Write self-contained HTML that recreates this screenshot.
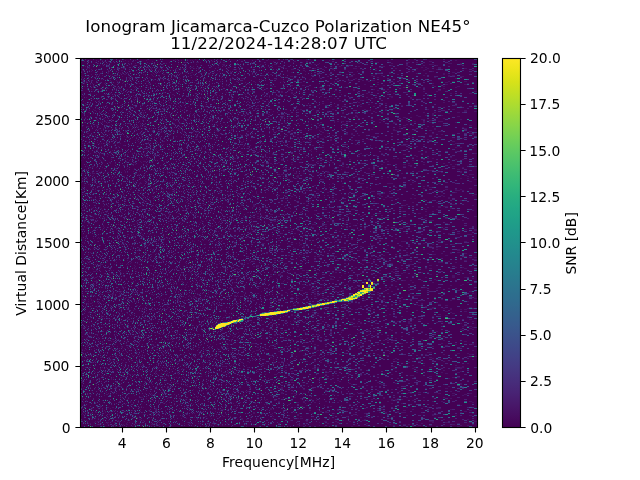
<!DOCTYPE html>
<html lang="en"><head><meta charset="utf-8"><title>Ionogram Jicamarca-Cuzco Polarization NE45°</title>
<style>html,body{margin:0;padding:0;background:#fff;overflow:hidden}svg{display:block}text{font-family:"DejaVu Sans","Liberation Sans",sans-serif;fill:#000}</style></head><body>
<svg width="640" height="480" viewBox="0 0 640 480">
<defs><linearGradient id="vg" x1="0" y1="1" x2="0" y2="0"><stop offset="0" stop-color="#440154"/><stop offset="0.0312" stop-color="#470d60"/><stop offset="0.0625" stop-color="#48186a"/><stop offset="0.0938" stop-color="#482374"/><stop offset="0.125" stop-color="#472d7b"/><stop offset="0.1562" stop-color="#453781"/><stop offset="0.1875" stop-color="#424086"/><stop offset="0.2188" stop-color="#3e4989"/><stop offset="0.25" stop-color="#3b528b"/><stop offset="0.2812" stop-color="#375b8d"/><stop offset="0.3125" stop-color="#33638d"/><stop offset="0.3438" stop-color="#2f6b8e"/><stop offset="0.375" stop-color="#2c728e"/><stop offset="0.4062" stop-color="#297a8e"/><stop offset="0.4375" stop-color="#26828e"/><stop offset="0.4688" stop-color="#23898e"/><stop offset="0.5" stop-color="#21918c"/><stop offset="0.5312" stop-color="#1f988b"/><stop offset="0.5625" stop-color="#1fa088"/><stop offset="0.5938" stop-color="#22a785"/><stop offset="0.625" stop-color="#28ae80"/><stop offset="0.6562" stop-color="#32b67a"/><stop offset="0.6875" stop-color="#3fbc73"/><stop offset="0.7188" stop-color="#4ec36b"/><stop offset="0.75" stop-color="#5ec962"/><stop offset="0.7812" stop-color="#70cf57"/><stop offset="0.8125" stop-color="#84d44b"/><stop offset="0.8438" stop-color="#98d83e"/><stop offset="0.875" stop-color="#addc30"/><stop offset="0.9062" stop-color="#c2df23"/><stop offset="0.9375" stop-color="#d8e219"/><stop offset="0.9688" stop-color="#ece51b"/><stop offset="1" stop-color="#fde725"/></linearGradient></defs>
<rect width="640" height="480" fill="#fff"/>
<rect x="80" y="58" width="398" height="370" fill="#440154"/>
<g transform="translate(80,58)" fill="none" stroke-width="1" shape-rendering="crispEdges">
<path stroke="#471365" d="M37 0.5h1m7 0h1m7 0h1m9 0h1m6 0h1m1 0h1m20 0h1m7 0h1m1 0h1m6 0h1m4 0h1m3 0h1m8 0h1m2 0h1m5 0h1m32 0h1m2 0h2m48 0h2m48 0h2m5 0h2m21 0h2m89 0h3M0 1.5h1m20 0h1m5 0h1m39 0h1m27 0h1m1 0h1m9 0h1m7 0h1m6 0h1m23 0h1m12 0h1m66 0h2m1 0h2m97 0h2M7 2.5h1m8 0h1m3 0h1m1 0h1m22 0h1m9 0h1m10 0h1m10 0h1m16 0h1m6 0h1m8 0h1m1 0h1m35 0h1m37 0h2m61 0h1m57 0h2m66 0h2M0 3.5h1m3 0h1m3 0h1m15 0h1m3 0h1m14 0h1m4 0h1m4 0h1m18 0h1m9 0h1m41 0h1m7 0h1m7 0h1m15 0h1m8 0h1m27 0h1m20 0h2m10 0h2m3 0h1m29 0h1m15 0h1m12 0h1m58 0h3M15 4.5h1m4 0h1m10 0h1m35 0h1m9 0h1m11 0h1m13 0h1m1 0h2m3 0h1m5 0h3m1 0h1m15 0h1m6 0h2m26 0h1m13 0h1m27 0h1m8 0h1m3 0h2m62 0h1m4 0h4m27 0h4m6 0h2M18 5.5h1m8 0h1m1 0h1m25 0h1m5 0h1m7 0h1m16 0h1m42 0h1m41 0h1m25 0h1m6 0h1m34 0h1m14 0h1m23 0h2m31 0h2m55 0h4m8 0h2m10 0h2M7 6.5h1m14 0h1m3 0h1m24 0h1m22 0h1m4 0h1m18 0h1m17 0h1m21 0h1m3 0h3m31 0h1m3 0h1m13 0h3m23 0h2m9 0h1m2 0h2m1 0h2m87 0h2m21 0h5M4 7.5h1m3 0h1m20 0h1m16 0h1m7 0h1m19 0h1m31 0h1m13 0h1m22 0h2m18 0h1m11 0h1m16 0h1m10 0h1m58 0h2m47 0h2m13 0h2m15 0h2m11 0h2M3 8.5h1m1 0h1m3 0h1m19 0h1m29 0h2m16 0h1m5 0h1m22 0h1m6 0h1m74 0h1m9 0h2m3 0h1m55 0h2m17 0h2m21 0h4M1 9.5h1m7 0h1m28 0h1m13 0h1m15 0h1m40 0h1m1 0h2m5 0h1m4 0h1m14 0h1m10 0h1m11 0h2m7 0h1m66 0h2m60 0h2m40 0h2m2 0h2m11 0h3M7 10.5h1m1 0h1m33 0h2m23 0h1m2 0h1m3 0h1m22 0h1m1 0h1m2 0h1m2 0h1m7 0h1m3 0h1m60 0h1m10 0h2m13 0h2m6 0h1m20 0h2m3 0h1m12 0h2m19 0h4m18 0h2m18 0h2m19 0h2m9 0h2m9 0h3m23 0h3M2 11.5h1m8 0h1m59 0h1m7 0h1m2 0h1m21 0h1m13 0h1m34 0h1m2 0h1m10 0h2m3 0h1m38 0h3m28 0h2m8 0h2m91 0h2m9 0h2m17 0h2M9 12.5h1m18 0h1m3 0h1m8 0h2m35 0h1m18 0h1m13 0h1m61 0h2m17 0h1m30 0h2m70 0h2m46 0h2M1 13.5h1m9 0h1m17 0h1m20 0h1m1 0h1m11 0h1m17 0h1m42 0h1m5 0h1m7 0h1m7 0h1m2 0h1m12 0h1m32 0h1m10 0h1m17 0h1m33 0h2m7 0h1m8 0h1m12 0h1m20 0h2m39 0h2M22 14.5h1m5 0h1m28 0h1m6 0h1m7 0h1m6 0h1m25 0h1m1 0h1m3 0h2m11 0h1m9 0h1m15 0h1m21 0h1m15 0h1m22 0h2m31 0h1m56 0h2m6 0h2m61 0h3M27 15.5h2m3 0h1m1 0h1m5 0h1m1 0h1m5 0h1m5 0h1m18 0h1m13 0h2m1 0h1m9 0h1m9 0h1m9 0h1m16 0h1m26 0h1m15 0h1m15 0h1m85 0h2m25 0h2m25 0h2m7 0h2m16 0h2M11 16.5h1m4 0h1m2 0h1m12 0h1m11 0h2m13 0h1m3 0h1m1 0h1m5 0h1m2 0h1m8 0h2m5 0h1m22 0h1m14 0h2m15 0h1m14 0h1m3 0h1m7 0h1m17 0h2m4 0h1m1 0h2m17 0h2m6 0h1m11 0h2m10 0h1m16 0h2m5 0h2m20 0h2m20 0h2m44 0h2M6 17.5h1m9 0h1m2 0h1m2 0h1m7 0h1m5 0h2m10 0h1m2 0h1m13 0h1m6 0h1m20 0h1m16 0h2m2 0h1m13 0h1m7 0h1m13 0h1m12 0h1m18 0h3m12 0h1m34 0h2m57 0h2m8 0h2m40 0h2m23 0h2m2 0h3M0 18.5h2m7 0h1m23 0h1m8 0h1m24 0h1m5 0h1m1 0h1m3 0h1m36 0h1m29 0h1m63 0h3m3 0h1m30 0h2m20 0h4m95 0h2m10 0h4M0 19.5h1m1 0h1m15 0h1m29 0h2m19 0h1m25 0h2m2 0h1m41 0h1m10 0h1m22 0h1m12 0h1m50 0h1m4 0h1m52 0h2m55 0h2M1 20.5h1m29 0h1m17 0h1m5 0h1m8 0h2m4 0h1m8 0h1m1 0h1m8 0h1m9 0h1m15 0h1m7 0h2m19 0h1m10 0h1m4 0h3m49 0h1m61 0h2m44 0h2m52 0h2M6 21.5h1m2 0h1m11 0h1m20 0h1m6 0h1m24 0h1m24 0h1m49 0h1m14 0h1m16 0h1m14 0h1m11 0h2m19 0h2m5 0h1m43 0h2m25 0h2m49 0h3M3 22.5h1m13 0h1m12 0h1m5 0h1m3 0h1m2 0h1m1 0h1m7 0h1m10 0h1m8 0h1m9 0h1m10 0h1m17 0h1m106 0h1m48 0h3m11 0h2m2 0h2m3 0h4M0 23.5h1m5 0h1m24 0h1m5 0h1m1 0h1m26 0h2m55 0h1m16 0h1m15 0h2m15 0h2m28 0h1m41 0h2m7 0h1m33 0h2m19 0h2m50 0h2m5 0h2m2 0h3m9 0h3M0 24.5h1m3 0h1m15 0h1m4 0h1m3 0h1m8 0h1m4 0h1m12 0h1m41 0h1m15 0h1m50 0h1m9 0h1m43 0h3m32 0h1m42 0h2m14 0h2m50 0h3M2 25.5h1m1 0h1m7 0h1m11 0h1m2 0h1m14 0h1m14 0h1m1 0h1m8 0h1m1 0h1m4 0h1m13 0h1m9 0h1m25 0h1m3 0h1m41 0h1m20 0h1m61 0h1m13 0h1m8 0h1m74 0h2m33 0h2M10 26.5h1m58 0h1m11 0h1m4 0h1m3 0h1m4 0h1m24 0h1m17 0h1m3 0h1m11 0h2m13 0h1m16 0h2m2 0h2m13 0h2m68 0h2m7 0h2m11 0h2m66 0h3m16 0h3M1 27.5h1m5 0h1m5 0h1m20 0h1m32 0h1m10 0h1m16 0h1m16 0h1m16 0h1m16 0h1m18 0h1m45 0h2m9 0h3m22 0h2m54 0h2m4 0h2m41 0h2M4 28.5h1m18 0h1m18 0h1m10 0h1m25 0h1m20 0h1m13 0h2m15 0h1m17 0h1m15 0h1m26 0h1m1 0h2m44 0h2m7 0h1m45 0h2m31 0h2m24 0h2m7 0h2m12 0h3M13 29.5h1m11 0h1m1 0h1m9 0h1m11 0h1m4 0h1m13 0h1m11 0h1m12 0h1m15 0h1m41 0h1m30 0h2m30 0h2m23 0h1m2 0h2m20 0h2m11 0h1m23 0h2m14 0h2m4 0h3m12 0h3m2 0h2m30 0h2M7 30.5h1m12 0h1m6 0h2m7 0h1m1 0h1m16 0h1m4 0h1m38 0h1m2 0h1m6 0h1m10 0h1m3 0h1m11 0h1m26 0h1m8 0h1m37 0h1m17 0h1m15 0h1m118 0h2M0 31.5h1m6 0h1m3 0h1m1 0h1m4 0h1m4 0h2m1 0h1m20 0h1m2 0h1m3 0h1m25 0h1m11 0h1m6 0h1m5 0h1m25 0h1m10 0h1m8 0h2m32 0h1m22 0h2m63 0h2m18 0h2m12 0h2M8 32.5h2m6 0h1m1 0h1m2 0h1m18 0h1m11 0h1m14 0h1m12 0h1m13 0h1m8 0h2m3 0h1m18 0h1m31 0h1m22 0h2m24 0h2m22 0h2m13 0h2m6 0h2m16 0h2m22 0h2m4 0h2m53 0h3M12 33.5h1m36 0h1m27 0h1m21 0h1m30 0h1m21 0h1m17 0h1m1 0h1m20 0h1m7 0h2m13 0h1m37 0h1m33 0h2m19 0h2m32 0h2m11 0h2m36 0h3M29 34.5h1m13 0h1m9 0h2m11 0h1m15 0h3m33 0h1m6 0h1m1 0h1m9 0h1m8 0h1m7 0h2m16 0h1m15 0h1m12 0h2m8 0h2m12 0h1m33 0h2m46 0h2m17 0h2M10 35.5h1m19 0h1m43 0h1m2 0h1m43 0h1m12 0h1m29 0h1m19 0h1m26 0h2m1 0h2m6 0h1m16 0h1m46 0h2m25 0h2m2 0h2m51 0h2m17 0h3M0 36.5h1m15 0h1m8 0h1m9 0h1m2 0h1m28 0h2m9 0h1m13 0h2m24 0h1m8 0h1m7 0h1m16 0h1m12 0h1m16 0h2m41 0h1m5 0h3m8 0h2m17 0h1m28 0h1m56 0h2M3 37.5h1m45 0h1m3 0h1m26 0h1m25 0h1m20 0h1m3 0h1m2 0h1m1 0h1m2 0h1m2 0h1m27 0h1m18 0h1m6 0h4m5 0h2m21 0h3m101 0h2M1 38.5h1m30 0h1m15 0h2m21 0h1m1 0h1m14 0h1m21 0h1m4 0h1m65 0h1m4 0h2m34 0h1m17 0h2m8 0h2m12 0h2m43 0h4M6 39.5h1m6 0h1m10 0h1m25 0h1m3 0h1m4 0h1m16 0h1m15 0h1m22 0h1m9 0h1m7 0h1m19 0h1m5 0h1m29 0h1m55 0h2m39 0h2m23 0h2m17 0h2M10 40.5h1m8 0h1m20 0h1m25 0h1m38 0h1m3 0h1m4 0h1m4 0h2m30 0h1m23 0h1m38 0h2m6 0h1m31 0h1m23 0h2m50 0h2M13 41.5h1m39 0h1m17 0h1m5 0h1m5 0h1m5 0h1m21 0h1m28 0h1m7 0h1m2 0h1m11 0h1m3 0h2m4 0h2m2 0h2m21 0h1m46 0h2m50 0h2M19 42.5h1m15 0h1m18 0h1m4 0h1m3 0h1m2 0h1m1 0h1m4 0h1m24 0h1m74 0h2m7 0h2m20 0h1m29 0h2m23 0h2m19 0h2m54 0h2m3 0h2m39 0h2M3 43.5h1m15 0h1m13 0h1m18 0h1m25 0h1m17 0h1m8 0h1m32 0h1m12 0h1m7 0h1m7 0h2m3 0h1m15 0h1m88 0h1m56 0h2M29 44.5h1m9 0h1m27 0h1m5 0h1m5 0h1m1 0h1m7 0h1m4 0h1m2 0h1m29 0h1m6 0h1m14 0h1m42 0h1m85 0h2m8 0h2m73 0h2M1 45.5h1m3 0h1m4 0h1m24 0h1m55 0h1m11 0h1m4 0h1m5 0h1m83 0h2m31 0h1m10 0h2m27 0h2m32 0h2m68 0h2M6 46.5h1m56 0h1m8 0h1m23 0h1m14 0h1m168 0h2m6 0h2M2 47.5h1m1 0h2m3 0h1m5 0h1m10 0h1m13 0h2m11 0h1m6 0h1m7 0h1m7 0h1m11 0h1m28 0h1m12 0h1m7 0h1m7 0h1m2 0h1m2 0h1m7 0h1m9 0h1m6 0h2m31 0h1m26 0h2m39 0h2m41 0h2m52 0h2M16 48.5h1m6 0h1m15 0h1m10 0h1m36 0h1m10 0h1m9 0h1m16 0h1m2 0h1m14 0h2m9 0h2m41 0h1m25 0h2m25 0h2m3 0h2m5 0h2m16 0h2m11 0h2m4 0h2m79 0h2M55 49.5h1m17 0h1m14 0h1m3 0h1m1 0h1m4 0h1m37 0h1m1 0h1m19 0h1m37 0h1m15 0h1m2 0h1m92 0h2M15 50.5h1m1 0h1m8 0h1m3 0h1m2 0h1m4 0h1m30 0h1m2 0h1m10 0h1m3 0h1m44 0h1m5 0h1m21 0h1m2 0h1m3 0h2m7 0h3m136 0h2m28 0h2M13 51.5h1m52 0h1m18 0h1m14 0h1m16 0h1m9 0h1m10 0h1m14 0h1m11 0h2m8 0h1m6 0h2m6 0h2m25 0h2m1 0h2m10 0h2m18 0h2m30 0h2m4 0h1m10 0h2m2 0h2m12 0h2m26 0h2m23 0h3M9 52.5h1m4 0h2m13 0h1m3 0h1m8 0h1m26 0h1m47 0h1m39 0h1m78 0h1m51 0h3m14 0h2m4 0h2m71 0h3M16 53.5h1m2 0h1m28 0h1m6 0h1m27 0h1m20 0h1m1 0h1m3 0h1m7 0h1m2 0h1m15 0h1m3 0h1m5 0h1m10 0h1m6 0h1m10 0h1m16 0h1m32 0h2m8 0h3m54 0h2m89 0h3m7 0h3M8 54.5h2m9 0h1m13 0h1m11 0h1m17 0h1m28 0h1m27 0h1m19 0h1m8 0h1m2 0h1m10 0h1m13 0h2m18 0h1m64 0h2m13 0h1m17 0h2m12 0h2m32 0h2m9 0h2m21 0h3M3 55.5h1m9 0h1m14 0h1m12 0h1m7 0h1m6 0h1m2 0h1m3 0h1m46 0h1m56 0h2m2 0h1m53 0h1m36 0h2m5 0h2m4 0h2m24 0h2m49 0h2m14 0h2M25 56.5h1m28 0h1m5 0h1m2 0h1m15 0h1m71 0h1m11 0h2m23 0h2m57 0h2m6 0h2m11 0h1m46 0h2m35 0h2M0 57.5h1m41 0h1m19 0h1m8 0h1m3 0h1m36 0h1m4 0h1m22 0h2m62 0h1m70 0h2m22 0h2m35 0h2m7 0h2m5 0h2m7 0h2M7 58.5h1m20 0h1m8 0h1m45 0h1m14 0h1m1 0h2m47 0h1m7 0h1m6 0h1m24 0h1m6 0h1m6 0h1m4 0h3m6 0h2m7 0h2m34 0h4m9 0h3m60 0h3m36 0h3M2 59.5h1m2 0h1m14 0h1m30 0h1m11 0h1m1 0h1m5 0h1m14 0h1m16 0h1m23 0h1m9 0h1m9 0h1m31 0h1m24 0h1m29 0h2m3 0h1m4 0h1m32 0h1m29 0h2m14 0h3m4 0h2M23 60.5h2m13 0h1m26 0h1m33 0h1m8 0h1m7 0h1m2 0h1m4 0h1m24 0h1m4 0h2m13 0h1m5 0h1m3 0h1m8 0h1m12 0h2m16 0h1m58 0h2m83 0h2M10 61.5h1m6 0h1m5 0h1m17 0h1m1 0h1m24 0h1m6 0h2m17 0h2m14 0h1m7 0h1m3 0h1m8 0h3m3 0h1m52 0h2m2 0h2m21 0h2m10 0h2m9 0h2m57 0h2m20 0h2m18 0h4m35 0h2M16 62.5h1m1 0h1m8 0h1m8 0h1m5 0h1m13 0h1m5 0h1m12 0h1m6 0h1m32 0h1m7 0h1m1 0h1m2 0h1m25 0h2m2 0h1m8 0h2m19 0h1m65 0h1m46 0h2m23 0h2m21 0h3M14 63.5h1m2 0h1m4 0h1m2 0h1m25 0h1m17 0h1m10 0h1m2 0h2m18 0h1m22 0h1m5 0h1m32 0h1m13 0h1m18 0h2m54 0h1m2 0h2m2 0h3m4 0h1m65 0h2m7 0h2m13 0h5M4 64.5h1m3 0h2m10 0h1m1 0h1m45 0h1m2 0h1m4 0h1m2 0h1m5 0h1m33 0h1m4 0h1m10 0h1m1 0h1m41 0h1m24 0h1m5 0h1m14 0h1m2 0h1m11 0h2m12 0h1m44 0h2m12 0h2m28 0h2m4 0h3m23 0h2M27 65.5h1m10 0h1m2 0h1m7 0h1m10 0h1m8 0h1m19 0h2m3 0h1m4 0h2m3 0h1m53 0h1m46 0h2m106 0h4m13 0h2M31 66.5h1m5 0h1m5 0h1m6 0h1m10 0h1m2 0h1m28 0h1m13 0h1m16 0h1m11 0h1m8 0h1m20 0h1m47 0h2m12 0h1m2 0h1m61 0h2m12 0h2m17 0h2M3 67.5h1m7 0h1m4 0h2m7 0h1m1 0h1m1 0h1m20 0h1m6 0h1m2 0h1m36 0h1m13 0h1m1 0h1m4 0h1m7 0h1m6 0h1m7 0h1m6 0h1m23 0h1m3 0h1m7 0h1m43 0h1m35 0h2m57 0h3m6 0h2m55 0h3M2 68.5h1m3 0h3m9 0h1m11 0h1m23 0h1m3 0h1m1 0h1m1 0h1m19 0h1m7 0h1m4 0h1m13 0h1m10 0h1m26 0h1m22 0h1m15 0h2m10 0h2m10 0h1m58 0h2m48 0h2m26 0h2m3 0h2M12 69.5h1m11 0h1m11 0h1m2 0h1m18 0h1m26 0h1m1 0h1m30 0h1m17 0h1m40 0h2m15 0h2m12 0h2m27 0h2m54 0h2m87 0h2M19 70.5h1m3 0h1m3 0h1m8 0h1m17 0h1m7 0h1m8 0h1m45 0h1m1 0h1m5 0h1m31 0h1m12 0h2m36 0h2m34 0h1m4 0h3m67 0h2m24 0h2m7 0h2m28 0h3m7 0h3M18 71.5h1m22 0h1m7 0h1m1 0h1m3 0h1m3 0h1m9 0h1m9 0h1m6 0h1m5 0h1m6 0h1m6 0h1m15 0h1m2 0h1m19 0h1m5 0h2m13 0h1m13 0h1m8 0h1m39 0h3m29 0h1m29 0h2m20 0h2m19 0h2m18 0h2M21 72.5h1m1 0h1m22 0h1m15 0h1m9 0h1m8 0h1m11 0h1m19 0h1m12 0h1m7 0h1m1 0h1m8 0h1m5 0h1m41 0h1m45 0h1m35 0h2m36 0h4m32 0h3M2 73.5h1m5 0h1m17 0h1m18 0h1m19 0h1m36 0h1m10 0h1m23 0h1m29 0h2m24 0h1m2 0h1m3 0h1m9 0h1m8 0h1m20 0h2m116 0h5m26 0h3M13 74.5h1m20 0h1m10 0h1m2 0h1m4 0h1m26 0h2m8 0h1m3 0h1m9 0h1m11 0h1m10 0h1m2 0h1m14 0h1m4 0h1m56 0h1m5 0h1m28 0h2m84 0h2M7 75.5h2m30 0h1m19 0h2m1 0h1m15 0h1m12 0h1m26 0h1m38 0h1m31 0h1m20 0h1m36 0h2m17 0h2m3 0h2m79 0h2m35 0h3M10 76.5h2m3 0h1m10 0h1m2 0h1m36 0h1m22 0h1m46 0h1m6 0h2m1 0h1m5 0h1m7 0h1m5 0h1m8 0h1m3 0h1m2 0h2m14 0h2m40 0h2m24 0h2m3 0h2m88 0h2m29 0h2M1 77.5h1m22 0h1m11 0h1m24 0h1m27 0h1m14 0h1m11 0h1m19 0h1m15 0h1m13 0h1m33 0h1m6 0h1m44 0h2m24 0h2m43 0h3m23 0h3M9 78.5h1m10 0h1m5 0h1m17 0h1m4 0h1m21 0h1m7 0h1m6 0h1m1 0h1m7 0h1m4 0h1m10 0h1m4 0h1m1 0h1m15 0h1m69 0h2m3 0h1m3 0h2m28 0h1m4 0h1m41 0h2m35 0h2M0 79.5h2m16 0h1m5 0h1m15 0h1m5 0h2m8 0h1m5 0h1m11 0h1m3 0h1m1 0h1m20 0h1m13 0h1m8 0h2m1 0h1m9 0h1m46 0h1m19 0h1m12 0h2m18 0h2m6 0h2m107 0h2m2 0h3M1 80.5h1m14 0h1m5 0h2m44 0h1m1 0h1m12 0h1m40 0h1m3 0h1m1 0h1m5 0h1m3 0h1m6 0h1m42 0h2m6 0h2m17 0h2m7 0h2m12 0h4m79 0h3m56 0h2M30 81.5h1m37 0h1m22 0h2m20 0h1m1 0h3m27 0h1m17 0h1m30 0h2m14 0h1m11 0h1m5 0h1m2 0h1m18 0h2m36 0h2m53 0h2m2 0h2M36 82.5h1m3 0h1m14 0h1m1 0h1m10 0h1m12 0h1m23 0h1m30 0h1m33 0h1m30 0h2m26 0h2m19 0h2m19 0h2m4 0h1m25 0h2M2 83.5h1m3 0h1m20 0h2m5 0h1m10 0h1m12 0h1m4 0h1m19 0h2m26 0h1m2 0h1m45 0h1m2 0h1m25 0h1m2 0h1m3 0h1m16 0h1m9 0h2m1 0h2m3 0h1m10 0h2m34 0h2m46 0h2m44 0h3M8 84.5h1m4 0h1m3 0h1m50 0h1m8 0h1m29 0h1m46 0h2m5 0h2m31 0h2m24 0h2M2 85.5h1m4 0h1m11 0h1m1 0h1m2 0h1m1 0h1m1 0h1m5 0h1m2 0h1m2 0h1m7 0h1m10 0h1m16 0h1m23 0h1m13 0h1m60 0h1m3 0h2m1 0h2m71 0h2m50 0h2m66 0h2M4 86.5h1m9 0h1m14 0h1m5 0h1m30 0h1m14 0h1m1 0h1m11 0h1m4 0h1m5 0h1m32 0h1m14 0h2m1 0h1m6 0h2m38 0h1m61 0h2m7 0h2m1 0h2m25 0h2m19 0h2m15 0h2m27 0h3M34 87.5h1m8 0h2m24 0h1m8 0h2m42 0h1m25 0h1m21 0h1m33 0h1m24 0h2m1 0h2m8 0h2m10 0h1m35 0h1m22 0h2m6 0h5M1 88.5h1m19 0h1m7 0h1m8 0h1m19 0h1m1 0h1m6 0h1m11 0h1m1 0h1m7 0h1m39 0h1m22 0h1m10 0h1m3 0h2m24 0h3m14 0h1m39 0h2m84 0h2m39 0h3M27 89.5h1m7 0h1m30 0h1m3 0h1m10 0h1m1 0h1m31 0h1m5 0h1m11 0h1m9 0h2m5 0h1m28 0h1m28 0h2m9 0h1m22 0h2m13 0h2m36 0h2m78 0h2m3 0h2m10 0h2M2 90.5h1m19 0h1m1 0h1m10 0h2m4 0h1m34 0h1m21 0h1m55 0h2m10 0h1m4 0h1m1 0h2m1 0h1m3 0h1m33 0h2m118 0h2m5 0h2M17 91.5h1m57 0h1m7 0h1m5 0h1m31 0h1m5 0h1m41 0h1m9 0h1m34 0h2m1 0h2m6 0h1m5 0h1m2 0h2m25 0h1M6 92.5h1m1 0h1m8 0h1m9 0h1m4 0h1m4 0h1m12 0h1m16 0h1m8 0h1m1 0h2m38 0h2m28 0h1m1 0h2m34 0h2m41 0h2m78 0h2m10 0h2m66 0h3M38 93.5h1m1 0h1m23 0h1m6 0h1m50 0h1m1 0h1m10 0h1m10 0h1m26 0h2m4 0h1m27 0h1m23 0h1m4 0h1m7 0h1m16 0h1m76 0h3m4 0h2m28 0h2M48 94.5h1m5 0h1m34 0h1m38 0h1m2 0h1m18 0h1m8 0h1m1 0h2m9 0h1m23 0h1m67 0h2m5 0h2m72 0h2m7 0h2M10 95.5h1m5 0h1m35 0h1m3 0h1m10 0h1m25 0h1m10 0h1m26 0h2m23 0h1m19 0h1m12 0h1m2 0h1m8 0h2m20 0h2m24 0h1m18 0h1m11 0h2m19 0h2m38 0h2m51 0h3M19 96.5h1m3 0h1m4 0h1m14 0h1m3 0h1m4 0h1m5 0h1m2 0h1m2 0h1m2 0h1m9 0h1m3 0h1m9 0h1m10 0h1m5 0h1m26 0h1m6 0h1m13 0h1m4 0h2m29 0h1m4 0h1m42 0h2m44 0h2m15 0h2m18 0h3m32 0h3M16 97.5h1m2 0h1m10 0h1m13 0h1m2 0h1m28 0h1m21 0h1m21 0h1m13 0h1m4 0h1m9 0h1m14 0h1m31 0h1m53 0h2m9 0h1m4 0h2m14 0h2m11 0h2m10 0h2m25 0h2M17 98.5h1m1 0h1m7 0h1m16 0h1m31 0h1m2 0h1m25 0h1m24 0h1m17 0h1m4 0h1m4 0h1m22 0h1m29 0h2m1 0h2m46 0h2m14 0h2m4 0h2m50 0h2M5 99.5h1m43 0h1m70 0h1m12 0h1m11 0h1m3 0h1m14 0h1m4 0h1m16 0h2m2 0h2m15 0h1m17 0h1m6 0h2m6 0h2m26 0h1m28 0h2m33 0h2m36 0h2M4 100.5h1m39 0h1m11 0h2m14 0h1m45 0h1m14 0h1m15 0h1m3 0h3m2 0h1m7 0h1m8 0h1m20 0h1m1 0h2m16 0h1m33 0h2m61 0h2m2 0h2m28 0h2m3 0h2M19 101.5h1m3 0h2m6 0h1m15 0h1m2 0h1m7 0h1m7 0h1m4 0h1m13 0h1m10 0h1m32 0h1m4 0h1m1 0h2m14 0h1m8 0h2m26 0h1m11 0h2m11 0h2m4 0h2m47 0h2m72 0h2m30 0h2m5 0h2M0 102.5h2m18 0h1m3 0h1m24 0h1m23 0h1m31 0h1m15 0h1m2 0h1m11 0h1m12 0h1m20 0h1m18 0h1m4 0h2m5 0h2m4 0h1m124 0h2M21 103.5h1m24 0h1m13 0h1m2 0h3m17 0h1m2 0h1m16 0h1m3 0h1m2 0h1m1 0h1m2 0h1m4 0h1m11 0h1m6 0h1m3 0h2m92 0h2m8 0h2m10 0h2m46 0h2M22 104.5h1m6 0h2m7 0h1m7 0h1m7 0h1m6 0h1m8 0h1m34 0h1m12 0h1m5 0h1m48 0h2m23 0h2m11 0h2m39 0h2m8 0h2m39 0h2m38 0h2M30 105.5h1m4 0h1m14 0h1m44 0h1m33 0h1m7 0h1m22 0h1m3 0h1m25 0h2m4 0h1m28 0h1m54 0h2m46 0h2m33 0h2M6 106.5h1m21 0h1m22 0h1m3 0h1m11 0h1m23 0h1m26 0h1m1 0h1m22 0h2m37 0h2m8 0h1m18 0h2m19 0h2m67 0h2m6 0h2m12 0h3m10 0h2m5 0h2m25 0h2m3 0h2M24 107.5h1m19 0h1m8 0h1m11 0h2m13 0h1m5 0h1m25 0h1m1 0h1m15 0h1m4 0h2m4 0h1m12 0h2m73 0h2m3 0h2m6 0h2m84 0h4m45 0h3M7 108.5h1m4 0h2m22 0h1m38 0h1m9 0h1m4 0h1m5 0h1m4 0h1m10 0h1m9 0h1m15 0h1m11 0h1m5 0h1m4 0h2m6 0h1m79 0h1m12 0h2m29 0h2m20 0h2m6 0h3m4 0h2m40 0h3M8 109.5h2m2 0h1m3 0h1m5 0h1m11 0h1m31 0h1m3 0h2m18 0h1m43 0h1m4 0h1m8 0h1m26 0h1m12 0h1m53 0h2m13 0h2m7 0h2m3 0h2m109 0h2M25 110.5h1m9 0h1m11 0h1m6 0h1m8 0h1m18 0h1m3 0h1m31 0h1m14 0h1m4 0h1m13 0h1m41 0h2m92 0h2m15 0h2M6 111.5h1m24 0h1m1 0h1m12 0h1m13 0h1m11 0h1m15 0h2m12 0h1m3 0h1m64 0h1m1 0h2m9 0h1m19 0h1m24 0h2m30 0h1m31 0h2m6 0h2m14 0h2m42 0h2m14 0h3M2 112.5h1m10 0h1m4 0h1m11 0h1m13 0h1m14 0h1m5 0h1m4 0h1m2 0h1m5 0h1m3 0h1m24 0h1m28 0h1m1 0h1m2 0h1m33 0h1m19 0h1m16 0h1m76 0h1m58 0h3M21 113.5h1m3 0h1m11 0h1m7 0h1m7 0h1m5 0h1m2 0h1m12 0h1m1 0h1m4 0h1m4 0h1m34 0h1m20 0h2m83 0h1m18 0h2m15 0h2m72 0h3m39 0h2M5 114.5h1m3 0h1m2 0h1m11 0h1m2 0h2m5 0h1m10 0h1m1 0h1m17 0h1m16 0h1m4 0h2m5 0h1m21 0h1m3 0h1m10 0h1m21 0h1m18 0h1m43 0h1m15 0h2m13 0h3m27 0h1m52 0h2m4 0h2m18 0h2m3 0h2m17 0h2M2 115.5h1m7 0h1m1 0h3m24 0h1m13 0h1m1 0h2m30 0h1m22 0h1m1 0h1m13 0h1m1 0h1m1 0h1m36 0h2m45 0h3m6 0h2m17 0h3m17 0h2m13 0h1m33 0h2m8 0h2m31 0h2M33 116.5h1m20 0h1m3 0h1m11 0h1m19 0h1m1 0h1m27 0h1m5 0h1m22 0h1m48 0h2m1 0h2m1 0h1m26 0h1m46 0h2m52 0h2m55 0h5M13 117.5h1m13 0h1m9 0h1m20 0h1m4 0h1m19 0h1m10 0h1m3 0h1m47 0h1m11 0h1m5 0h2m14 0h1m36 0h2m52 0h2m36 0h2m23 0h2m48 0h3M22 118.5h1m4 0h1m7 0h1m8 0h1m24 0h1m3 0h1m26 0h1m4 0h1m28 0h1m14 0h1m31 0h1m34 0h3m25 0h1m30 0h2m14 0h2m94 0h2M34 119.5h1m1 0h1m10 0h1m20 0h1m11 0h1m16 0h1m15 0h1m10 0h1m7 0h1m18 0h1m25 0h2m13 0h1m14 0h1m9 0h2m6 0h1m3 0h2m14 0h2m12 0h2m17 0h2m27 0h2m32 0h2M14 120.5h2m3 0h1m11 0h1m1 0h1m13 0h1m6 0h1m24 0h1m21 0h1m13 0h1m5 0h1m18 0h1m4 0h1m2 0h1m4 0h1m18 0h1m27 0h1m15 0h1m84 0h2m16 0h2m2 0h3m54 0h2m5 0h2M7 121.5h1m8 0h1m1 0h1m2 0h1m30 0h1m12 0h1m20 0h1m19 0h1m11 0h1m17 0h1m20 0h1m9 0h2m23 0h1m38 0h1m10 0h2m86 0h2m62 0h3M2 122.5h1m1 0h1m10 0h1m21 0h1m26 0h1m4 0h1m6 0h1m40 0h1m3 0h1m9 0h2m33 0h1m61 0h1m32 0h1m13 0h2M14 123.5h1m5 0h1m1 0h1m9 0h1m8 0h1m11 0h1m1 0h1m10 0h1m17 0h2m8 0h1m6 0h1m1 0h1m3 0h1m33 0h1m6 0h1m16 0h1m9 0h1m101 0h1m111 0h3M0 124.5h2m12 0h1m9 0h1m2 0h1m25 0h1m6 0h1m7 0h1m13 0h1m6 0h2m22 0h1m21 0h1m1 0h1m9 0h1m24 0h1m17 0h2m28 0h2m110 0h2M4 125.5h1m14 0h1m12 0h1m4 0h1m18 0h1m2 0h3m13 0h1m12 0h1m11 0h1m23 0h1m13 0h1m11 0h1m10 0h2m13 0h3m3 0h2m9 0h1m58 0h2m8 0h2m16 0h4m23 0h6m45 0h3M8 126.5h1m10 0h1m1 0h1m8 0h1m4 0h1m3 0h1m1 0h1m17 0h1m7 0h1m27 0h1m13 0h1m8 0h1m11 0h1m7 0h1m51 0h2m1 0h1m29 0h2m24 0h1m47 0h2m31 0h2M0 127.5h1m3 0h1m73 0h1m12 0h1m21 0h1m3 0h1m11 0h1m16 0h1m9 0h1m28 0h1m10 0h1m7 0h1m29 0h2m77 0h2M10 128.5h1m13 0h1m9 0h1m1 0h1m21 0h1m4 0h1m6 0h1m17 0h1m14 0h1m3 0h1m44 0h1m3 0h1m15 0h1m2 0h1m4 0h1m27 0h2m52 0h2m59 0h3m17 0h2m2 0h2M2 129.5h1m25 0h1m25 0h1m18 0h3m29 0h1m5 0h1m26 0h1m10 0h1m16 0h1m27 0h2m53 0h1m36 0h2m27 0h2m6 0h3m23 0h3M4 130.5h1m7 0h1m2 0h1m6 0h1m7 0h1m4 0h1m10 0h1m4 0h1m21 0h2m15 0h1m5 0h1m13 0h1m4 0h1m51 0h2m76 0h2m96 0h2m44 0h3M6 131.5h1m8 0h1m8 0h1m12 0h1m5 0h1m26 0h1m10 0h1m1 0h1m52 0h1m2 0h1m26 0h1m30 0h1m2 0h1m4 0h2m3 0h1m20 0h1m5 0h2m43 0h2m81 0h3m7 0h2m3 0h2M61 132.5h1m36 0h1m20 0h1m8 0h1m13 0h1m23 0h1m33 0h1m15 0h1m9 0h2m16 0h1m7 0h2m57 0h2m4 0h2m51 0h2m3 0h5m2 0h2M0 133.5h1m14 0h1m28 0h1m8 0h1m18 0h1m19 0h1m1 0h1m17 0h1m1 0h1m33 0h1m5 0h2m13 0h1m2 0h1m3 0h1m3 0h2m38 0h2m27 0h1m41 0h4M20 134.5h2m24 0h1m5 0h1m1 0h1m2 0h2m2 0h1m11 0h1m9 0h1m5 0h1m7 0h1m7 0h1m58 0h1m11 0h1m3 0h1m20 0h2m16 0h1m27 0h2m3 0h2m49 0h2m56 0h2m12 0h2M0 135.5h1m21 0h1m12 0h1m7 0h1m18 0h1m1 0h1m18 0h1m11 0h1m25 0h1m4 0h1m1 0h1m1 0h1m8 0h1m10 0h1m6 0h1m1 0h1m16 0h1m28 0h2m16 0h2m6 0h1m41 0h2m28 0h2m4 0h2m36 0h2M4 136.5h1m24 0h2m9 0h1m2 0h1m9 0h1m3 0h1m29 0h1m10 0h1m2 0h1m10 0h1m16 0h1m13 0h2m12 0h1m19 0h2m17 0h1m67 0h2m2 0h1m28 0h4m93 0h3M44 137.5h1m17 0h1m48 0h1m1 0h1m46 0h1m5 0h1m5 0h1m25 0h2m10 0h1m23 0h2m11 0h2m26 0h2m22 0h2m6 0h2m25 0h2m25 0h2m29 0h2M0 138.5h1m14 0h1m5 0h1m1 0h1m28 0h1m11 0h1m7 0h2m4 0h1m6 0h1m3 0h1m6 0h1m21 0h1m23 0h1m11 0h2m7 0h1m47 0h2m3 0h1m17 0h2m46 0h2m17 0h2m60 0h2M26 139.5h2m8 0h1m6 0h1m9 0h1m15 0h1m8 0h1m12 0h1m2 0h1m10 0h1m25 0h1m4 0h1m5 0h1m22 0h1m5 0h1m7 0h1m1 0h1m52 0h2m8 0h1m28 0h2m3 0h2m17 0h2m6 0h2m2 0h4m43 0h2m10 0h2M19 140.5h1m11 0h1m12 0h1m10 0h1m6 0h1m2 0h1m13 0h1m2 0h1m4 0h1m20 0h2m39 0h1m7 0h1m52 0h1m69 0h2m35 0h2m11 0h2m2 0h2m32 0h2M5 141.5h1m5 0h1m2 0h1m16 0h1m42 0h1m40 0h1m10 0h1m8 0h1m4 0h1m8 0h1m11 0h2m1 0h1m4 0h1m82 0h2m1 0h2m46 0h2m38 0h2M3 142.5h1m25 0h1m6 0h1m7 0h1m4 0h1m14 0h1m8 0h1m5 0h1m3 0h1m14 0h1m1 0h1m4 0h1m17 0h1m8 0h1m3 0h3m12 0h1m1 0h1m27 0h1m4 0h2m38 0h5m18 0h1m19 0h2m109 0h2M15 143.5h1m8 0h1m23 0h1m14 0h1m2 0h1m11 0h1m5 0h1m3 0h1m9 0h1m8 0h1m3 0h1m45 0h1m6 0h1m36 0h2m13 0h1m27 0h1m7 0h2m7 0h1m2 0h2m9 0h2m16 0h2M31 144.5h1m21 0h1m33 0h1m7 0h2m9 0h1m4 0h1m3 0h1m31 0h1m2 0h1m7 0h1m7 0h1m38 0h2m45 0h2m78 0h2m22 0h2M26 145.5h1m66 0h1m15 0h1m2 0h1m9 0h1m33 0h1m66 0h2m43 0h1M7 146.5h1m22 0h1m8 0h1m3 0h1m1 0h1m21 0h1m3 0h1m4 0h1m1 0h1m5 0h1m25 0h1m3 0h1m9 0h1m5 0h1m5 0h1m24 0h2m10 0h2m9 0h1m62 0h2m17 0h2m7 0h2m49 0h2m44 0h5M15 147.5h1m8 0h1m2 0h1m2 0h1m3 0h1m3 0h1m1 0h1m7 0h1m13 0h1m10 0h1m25 0h1m23 0h1m37 0h2m10 0h2m30 0h2m21 0h1m18 0h2m33 0h2m17 0h2m20 0h3m10 0h2m54 0h2M7 148.5h1m15 0h1m4 0h1m13 0h1m10 0h1m1 0h1m3 0h2m5 0h1m40 0h1m11 0h1m19 0h1m6 0h1m26 0h2m86 0h1m7 0h2m81 0h2m4 0h3m2 0h5M6 149.5h1m6 0h1m5 0h1m25 0h1m41 0h1m4 0h1m5 0h1m6 0h1m7 0h1m2 0h1m1 0h1m6 0h1m12 0h1m3 0h1m13 0h1m6 0h1m8 0h1m12 0h1m14 0h1m13 0h2m15 0h1m25 0h2m44 0h2m16 0h2m24 0h2m9 0h3m9 0h2M11 150.5h2m3 0h1m4 0h1m2 0h1m42 0h1m5 0h1m29 0h1m3 0h2m30 0h1m16 0h1m3 0h1m11 0h1m32 0h2m18 0h1m117 0h2m25 0h2M4 151.5h1m10 0h1m1 0h1m13 0h1m11 0h1m43 0h1m31 0h1m1 0h1m6 0h1m30 0h1m20 0h1m63 0h3m19 0h2m3 0h4m32 0h2m36 0h2m9 0h2M3 152.5h1m9 0h1m13 0h1m21 0h2m9 0h1m10 0h1m14 0h1m7 0h1m4 0h1m4 0h1m38 0h2m3 0h1m41 0h2m6 0h2m34 0h2m32 0h1m123 0h2M9 153.5h1m28 0h1m5 0h1m3 0h1m10 0h1m17 0h1m21 0h1m10 0h1m17 0h1m5 0h1m25 0h1m29 0h2m18 0h1m17 0h1m28 0h2m62 0h2m22 0h2m5 0h2m4 0h3M1 154.5h1m19 0h1m4 0h1m14 0h1m8 0h1m2 0h1m11 0h1m2 0h1m4 0h1m32 0h1m5 0h1m26 0h1m10 0h1m16 0h2m7 0h1m43 0h2m25 0h2m12 0h1m15 0h1M21 155.5h1m20 0h1m2 0h1m20 0h1m7 0h1m7 0h1m15 0h1m12 0h1m8 0h1m56 0h2m60 0h1m12 0h2m43 0h4m37 0h3M14 156.5h1m36 0h1m31 0h1m5 0h1m26 0h1m8 0h1m1 0h1m14 0h1m14 0h1m1 0h1m4 0h1m10 0h1m14 0h3m14 0h1m2 0h1m23 0h2m25 0h1m6 0h1m2 0h2m20 0h2M18 157.5h1m18 0h1m4 0h1m18 0h1m6 0h1m13 0h1m6 0h1m13 0h1m5 0h1m44 0h2m25 0h1m3 0h1m30 0h1m8 0h1m16 0h2m38 0h2m17 0h2m42 0h2M7 158.5h1m4 0h1m7 0h1m13 0h2m4 0h1m5 0h1m33 0h1m4 0h1m2 0h2m25 0h1m2 0h1m11 0h1m9 0h1m4 0h1m3 0h1m1 0h1m4 0h1m6 0h1m7 0h2m4 0h2m11 0h2m6 0h2m49 0h1m9 0h2m5 0h2m12 0h2m9 0h2m30 0h3m68 0h3M0 159.5h2m11 0h1m10 0h1m2 0h1m17 0h1m15 0h1m45 0h1m5 0h2m11 0h1m37 0h1m54 0h1m81 0h2m67 0h2M6 160.5h1m13 0h1m2 0h1m24 0h1m2 0h1m20 0h2m20 0h1m40 0h1m15 0h1m1 0h1m3 0h1m19 0h3m25 0h3m8 0h1m12 0h2m16 0h2m10 0h2m84 0h2m18 0h3M24 161.5h1m9 0h1m9 0h1m3 0h1m41 0h1m15 0h1m25 0h2m11 0h1m13 0h1m5 0h1m4 0h2m9 0h1m10 0h1m26 0h1m30 0h2m25 0h1m19 0h2m14 0h2m15 0h2m45 0h3M4 162.5h1m21 0h1m5 0h1m34 0h1m26 0h1m9 0h1m16 0h1m4 0h1m14 0h2m20 0h1m17 0h1m12 0h2m12 0h2m15 0h1m2 0h1m120 0h5m28 0h2M4 163.5h1m51 0h1m13 0h1m18 0h1m1 0h1m11 0h1m19 0h1m10 0h1m4 0h1m1 0h1m3 0h1m5 0h1m1 0h1m12 0h1m27 0h2m32 0h1m13 0h2m3 0h2m64 0h2m30 0h2M4 164.5h1m18 0h1m14 0h1m1 0h1m16 0h1m4 0h1m37 0h1m5 0h1m2 0h1m4 0h1m5 0h1m6 0h1m10 0h1m8 0h1m16 0h1m1 0h1m13 0h1m71 0h3m11 0h2m16 0h2m4 0h1M8 165.5h2m33 0h1m26 0h1m6 0h1m10 0h1m9 0h1m14 0h1m15 0h1m27 0h1m1 0h2m24 0h1m66 0h2m15 0h2m6 0h1m87 0h3M0 166.5h1m37 0h1m14 0h2m5 0h1m18 0h1m10 0h1m10 0h1m21 0h1m48 0h1m3 0h1m12 0h1m42 0h4m9 0h2m17 0h2m72 0h3m13 0h2M3 167.5h1m19 0h1m16 0h1m24 0h1m2 0h1m19 0h1m23 0h1m10 0h1m10 0h1m14 0h1m4 0h2m11 0h2m4 0h2m22 0h1m6 0h1m68 0h2M4 168.5h1m18 0h1m36 0h1m15 0h1m50 0h1m2 0h1m1 0h1m42 0h1m1 0h3m4 0h1m3 0h1m16 0h2m19 0h2m3 0h1m5 0h2m6 0h2m15 0h2m2 0h2m33 0h2m20 0h3M4 169.5h1m3 0h2m4 0h1m9 0h1m3 0h1m27 0h1m12 0h1m21 0h1m13 0h1m6 0h1m7 0h1m1 0h1m26 0h1m3 0h1m10 0h1m6 0h1m4 0h1m27 0h1m2 0h1m8 0h1m12 0h2m1 0h2m32 0h2m9 0h1m33 0h4m8 0h3M7 170.5h1m24 0h1m3 0h1m8 0h2m1 0h1m3 0h1m37 0h1m3 0h1m3 0h1m28 0h1m43 0h1m42 0h2m68 0h2m11 0h2m42 0h2m13 0h2m5 0h2M0 171.5h1m1 0h1m6 0h1m4 0h1m2 0h1m4 0h1m13 0h1m3 0h1m14 0h1m16 0h1m3 0h1m9 0h1m27 0h1m8 0h1m12 0h1m4 0h1m1 0h2m3 0h1m1 0h2m6 0h1m5 0h1m6 0h1m4 0h1m4 0h1m11 0h1m17 0h2m36 0h1m34 0h2m13 0h2m37 0h3m8 0h3m11 0h2m19 0h3m7 0h3M39 172.5h1m1 0h1m13 0h1m6 0h2m23 0h1m10 0h1m2 0h1m1 0h1m7 0h1m2 0h1m7 0h1m22 0h1m27 0h2m10 0h1m8 0h2m12 0h2m7 0h2m4 0h2m19 0h1m33 0h2m46 0h2m44 0h3m19 0h3M38 173.5h1m43 0h1m19 0h1m5 0h1m19 0h1m9 0h1m33 0h1m49 0h1m36 0h2m34 0h2m33 0h2M15 174.5h1m17 0h1m3 0h1m23 0h1m36 0h1m7 0h2m2 0h1m59 0h1m27 0h2m22 0h1m2 0h1m18 0h1M14 175.5h1m8 0h1m43 0h1m24 0h1m4 0h1m1 0h1m5 0h1m9 0h1m23 0h1m24 0h1m36 0h2m2 0h2m3 0h1m3 0h2m21 0h2m129 0h2m2 0h3m2 0h3M14 176.5h1m5 0h1m5 0h1m20 0h2m2 0h1m1 0h1m2 0h1m5 0h1m6 0h1m16 0h1m6 0h1m5 0h1m6 0h2m26 0h1m6 0h1m43 0h1m6 0h1m17 0h1m14 0h1m11 0h2m13 0h2m15 0h2m70 0h2m15 0h3m7 0h2m17 0h5M0 177.5h1m36 0h2m6 0h1m5 0h1m11 0h1m10 0h1m7 0h1m37 0h1m9 0h1m92 0h2m29 0h1M5 178.5h1m27 0h1m19 0h2m7 0h1m3 0h1m9 0h1m6 0h1m8 0h1m45 0h1m11 0h1m3 0h2m4 0h1m31 0h1m29 0h1m3 0h2M1 179.5h1m4 0h1m11 0h1m9 0h1m10 0h1m22 0h2m7 0h1m15 0h1m2 0h1m2 0h1m21 0h1m1 0h1m2 0h1m32 0h1m26 0h1m3 0h1m19 0h1m26 0h1m15 0h2m19 0h1m28 0h2m6 0h2M1 180.5h1m11 0h1m3 0h1m1 0h1m3 0h2m10 0h1m1 0h1m32 0h1m1 0h1m14 0h1m5 0h1m10 0h1m9 0h1m43 0h1m4 0h1m34 0h2m54 0h1m16 0h2m22 0h4m16 0h2m15 0h2M38 181.5h1m16 0h1m22 0h2m4 0h1m6 0h1m32 0h1m1 0h1m6 0h1m11 0h1m35 0h1m6 0h1m33 0h1m19 0h2m10 0h1m4 0h2m10 0h2m5 0h2m78 0h3M14 182.5h1m5 0h1m7 0h1m2 0h1m2 0h1m40 0h1m7 0h1m15 0h2m11 0h1m5 0h1m4 0h1m6 0h1m8 0h1m2 0h1m16 0h1m28 0h1m9 0h2m5 0h2m13 0h2m17 0h1m17 0h2m9 0h1m89 0h3m7 0h2M17 183.5h1m23 0h1m14 0h1m7 0h1m1 0h1m13 0h1m13 0h1m17 0h1m1 0h1m41 0h1m18 0h1m66 0h2m22 0h2m31 0h2m20 0h5m37 0h2m19 0h3M2 184.5h1m1 0h1m34 0h1m3 0h1m18 0h1m1 0h1m9 0h1m8 0h1m11 0h1m25 0h1m7 0h1m6 0h1m10 0h1m12 0h1m12 0h2m17 0h1m26 0h1m11 0h1m12 0h1m9 0h1m9 0h2m68 0h2M4 185.5h1m18 0h1m10 0h1m47 0h1m22 0h1m2 0h1m12 0h1m32 0h2m15 0h1m7 0h1m2 0h3m22 0h1m8 0h1m2 0h1m70 0h1m6 0h2m44 0h2M0 186.5h1m10 0h1m29 0h1m2 0h1m4 0h1m40 0h1m4 0h1m15 0h1m8 0h1m4 0h1m39 0h1m11 0h2m14 0h1m26 0h2m35 0h2m9 0h1m83 0h2m11 0h3m4 0h3M20 187.5h1m23 0h1m2 0h1m18 0h1m1 0h1m18 0h1m57 0h1m44 0h2m16 0h2m9 0h1m3 0h2m66 0h4m33 0h2M32 188.5h1m3 0h1m2 0h1m11 0h1m10 0h1m1 0h1m13 0h1m2 0h1m4 0h1m14 0h1m5 0h1m11 0h1m22 0h1m2 0h1m36 0h2m10 0h2m27 0h2m55 0h2m6 0h2m31 0h2m26 0h3M18 189.5h1m25 0h1m1 0h1m11 0h1m49 0h1m6 0h1m9 0h1m27 0h1m26 0h1m32 0h1m9 0h2m12 0h2m10 0h1m7 0h2m2 0h3m4 0h1m22 0h2m63 0h2M7 190.5h1m5 0h1m1 0h1m19 0h1m2 0h1m20 0h1m1 0h1m4 0h1m29 0h1m44 0h1m34 0h3m3 0h2m5 0h1m24 0h2m28 0h1m5 0h2M23 191.5h1m19 0h1m14 0h1m11 0h1m36 0h1m5 0h1m6 0h1m15 0h1m8 0h1m23 0h1m6 0h1m55 0h2m28 0h2m7 0h2m46 0h2m22 0h2m11 0h2m19 0h3M45 192.5h1m6 0h1m5 0h1m6 0h1m9 0h1m7 0h1m25 0h3m40 0h1m24 0h2m1 0h1m73 0h1m23 0h2m97 0h3M6 193.5h1m8 0h1m5 0h1m12 0h2m37 0h1m15 0h1m1 0h1m12 0h1m30 0h1m12 0h1m4 0h1m12 0h1m8 0h1m20 0h1m6 0h1m36 0h2m26 0h1M10 194.5h1m10 0h1m44 0h1m5 0h2m18 0h1m4 0h1m36 0h2m16 0h1m66 0h1m16 0h1m7 0h1m60 0h2m19 0h2m6 0h2m34 0h2m5 0h3M12 195.5h1m3 0h1m13 0h1m3 0h1m31 0h1m9 0h1m17 0h2m11 0h2m9 0h1m4 0h1m29 0h1m17 0h2m3 0h1m5 0h2m2 0h2m80 0h1m19 0h2m57 0h2m12 0h2m7 0h2m12 0h3M8 196.5h1m7 0h1m23 0h1m7 0h1m22 0h1m12 0h1m4 0h1m32 0h1m10 0h1m8 0h1m2 0h1m4 0h1m66 0h2m1 0h2m42 0h2m49 0h2m21 0h3m11 0h4M20 197.5h1m40 0h1m1 0h2m21 0h1m18 0h1m46 0h1m10 0h1m12 0h1m2 0h1m28 0h2m13 0h2m14 0h1m63 0h2m23 0h2m35 0h3M18 198.5h1m6 0h1m22 0h1m7 0h2m10 0h1m2 0h1m6 0h1m2 0h1m31 0h1m3 0h1m21 0h1m16 0h1m10 0h2m50 0h1m14 0h2m1 0h3m10 0h7m5 0h2m22 0h2m3 0h2m6 0h2m83 0h3M33 199.5h1m25 0h1m8 0h1m9 0h1m5 0h1m20 0h1m5 0h1m12 0h1m55 0h1m1 0h2m80 0h2m31 0h2m2 0h2m8 0h2m2 0h2m2 0h4m66 0h3m2 0h3M0 200.5h1m43 0h1m22 0h1m16 0h1m5 0h1m17 0h1m9 0h1m34 0h1m23 0h2m14 0h1m4 0h2m50 0h2m38 0h1m8 0h2m2 0h2M0 201.5h1m63 0h1m2 0h1m33 0h1m5 0h1m19 0h1m41 0h1m2 0h3m28 0h1m30 0h2m46 0h2m61 0h2m2 0h3m42 0h3M17 202.5h1m13 0h1m3 0h1m4 0h1m3 0h1m2 0h1m34 0h1m10 0h1m2 0h1m18 0h1m31 0h1m18 0h1m27 0h2m61 0h2m7 0h2m37 0h2m77 0h3M7 203.5h1m1 0h1m17 0h1m6 0h1m25 0h1m1 0h1m31 0h1m31 0h1m12 0h1m33 0h2m23 0h2m10 0h1m96 0h2m21 0h2m26 0h3m7 0h2M5 204.5h1m3 0h1m16 0h1m9 0h1m14 0h1m43 0h1m2 0h1m6 0h1m43 0h1m9 0h1m10 0h1m55 0h2m60 0h2m3 0h2m43 0h3m17 0h5m12 0h2M3 205.5h1m36 0h1m1 0h1m4 0h1m2 0h1m6 0h1m3 0h1m12 0h1m4 0h1m6 0h1m2 0h1m16 0h1m5 0h1m19 0h1m6 0h1m20 0h1m6 0h2m11 0h1m23 0h3m3 0h1m53 0h2m14 0h2m23 0h2m2 0h4m79 0h2M7 206.5h1m1 0h1m5 0h1m4 0h3m11 0h1m11 0h1m1 0h1m10 0h1m31 0h1m33 0h1m10 0h2m8 0h1m5 0h1m10 0h1m28 0h1m89 0h2m44 0h4M3 207.5h1m1 0h1m11 0h1m2 0h1m33 0h1m15 0h2m1 0h1m32 0h1m21 0h1m34 0h1m12 0h3m80 0h2m5 0h2m29 0h2m50 0h3M13 208.5h1m6 0h1m34 0h1m8 0h2m33 0h1m3 0h1m7 0h1m24 0h1m22 0h1m13 0h2m2 0h2m7 0h2m26 0h2m120 0h2M20 209.5h1m5 0h1m1 0h1m25 0h1m40 0h1m3 0h1m14 0h1m4 0h1m20 0h1m11 0h1m23 0h1m21 0h2m5 0h2m4 0h2m3 0h1m14 0h1m22 0h3m7 0h2m9 0h2m13 0h1m84 0h2m5 0h2M6 210.5h1m5 0h1m41 0h1m1 0h1m4 0h1m12 0h1m3 0h1m17 0h1m16 0h1m5 0h1m5 0h1m1 0h1m3 0h1m14 0h1m9 0h2m64 0h1m50 0h2m42 0h2m2 0h2m3 0h2m17 0h2m2 0h3m18 0h2m12 0h3M5 211.5h1m7 0h1m16 0h1m24 0h1m9 0h1m1 0h1m4 0h1m29 0h1m10 0h1m16 0h1m27 0h2m50 0h1m53 0h2m20 0h2m25 0h2m11 0h4m64 0h3M16 212.5h1m11 0h1m2 0h1m1 0h1m49 0h1m10 0h1m4 0h1m1 0h1m19 0h1m6 0h1m12 0h1m24 0h1m25 0h1m15 0h2m12 0h3m1 0h2m16 0h1m10 0h6m23 0h2m9 0h2m2 0h2m69 0h2m8 0h2M1 213.5h1m2 0h1m8 0h3m1 0h1m28 0h1m9 0h1m25 0h1m27 0h1m9 0h1m6 0h1m2 0h1m3 0h1m29 0h1m11 0h1m20 0h1m99 0h2m12 0h2m45 0h3M5 214.5h1m4 0h1m18 0h1m7 0h1m56 0h1m4 0h1m10 0h1m10 0h1m25 0h1m17 0h1m5 0h1m8 0h1m15 0h1m17 0h2m12 0h1m7 0h1m15 0h2m1 0h2m56 0h2m8 0h3m15 0h2m4 0h2M24 215.5h1m6 0h2m8 0h1m9 0h1m17 0h1m13 0h1m19 0h1m7 0h1m2 0h1m6 0h1m6 0h1m1 0h1m26 0h1m42 0h1m13 0h2m4 0h2m15 0h2m25 0h2m14 0h2m9 0h2m6 0h2m6 0h2m8 0h2m2 0h2M26 216.5h1m2 0h1m4 0h1m28 0h1m5 0h1m8 0h1m6 0h1m12 0h1m7 0h1m4 0h1m6 0h1m1 0h1m16 0h1m11 0h2m14 0h1m20 0h2m2 0h2m2 0h2m2 0h3m74 0h2m72 0h3M29 217.5h1m9 0h1m23 0h1m13 0h1m9 0h1m9 0h1m51 0h1m21 0h1m5 0h2m19 0h2m34 0h2m25 0h1m33 0h2m12 0h2m23 0h4m34 0h3M11 218.5h1m1 0h1m3 0h1m21 0h1m3 0h1m40 0h1m30 0h1m15 0h1m5 0h1m1 0h2m13 0h2m33 0h3m21 0h1m2 0h1m15 0h2m16 0h4m109 0h2m7 0h3M0 219.5h1m14 0h2m4 0h1m5 0h1m11 0h1m29 0h1m10 0h1m9 0h1m26 0h1m42 0h1m10 0h1m13 0h1m37 0h2m34 0h2m38 0h2m44 0h2m25 0h3m9 0h3M8 220.5h1m1 0h1m3 0h1m31 0h1m23 0h1m17 0h1m27 0h1m7 0h1m31 0h2m1 0h1m36 0h1m53 0h2m25 0h1m10 0h2m102 0h2M3 221.5h1m27 0h2m6 0h1m6 0h1m15 0h1m3 0h1m2 0h1m11 0h1m5 0h1m3 0h1m23 0h1m4 0h1m28 0h1m3 0h1m35 0h1m3 0h1m6 0h1m7 0h2m12 0h1m14 0h2m11 0h4m65 0h2m33 0h2m5 0h2M5 222.5h1m10 0h1m8 0h1m29 0h1m4 0h1m6 0h1m20 0h1m4 0h1m25 0h1m36 0h1m12 0h1m10 0h1m4 0h1m18 0h1m24 0h2m11 0h2m61 0h2m16 0h3m4 0h2m9 0h2m13 0h2M6 223.5h1m5 0h1m1 0h4m54 0h1m8 0h1m16 0h1m2 0h2m10 0h1m7 0h1m7 0h1m9 0h1m1 0h1m34 0h1m7 0h1m18 0h1m15 0h1m16 0h1m56 0h2m20 0h2M4 224.5h1m18 0h1m29 0h1m4 0h1m7 0h1m26 0h1m2 0h1m10 0h1m7 0h1m24 0h1m13 0h2m28 0h1m12 0h1m18 0h1m14 0h1m30 0h2m4 0h1m15 0h2m46 0h2m18 0h2m33 0h2M5 225.5h1m13 0h1m19 0h1m23 0h1m53 0h1m1 0h1m17 0h1m14 0h1m4 0h1m76 0h2m59 0h2M8 226.5h1m1 0h1m2 0h2m6 0h1m14 0h1m42 0h1m1 0h2m10 0h1m2 0h1m20 0h1m22 0h1m24 0h1m5 0h1m41 0h1m5 0h1m2 0h3m7 0h2m8 0h2m22 0h2m43 0h2m69 0h2M27 227.5h1m13 0h1m60 0h1m2 0h1m6 0h1m4 0h1m108 0h2m1 0h2m37 0h1m101 0h2m8 0h2M18 228.5h1m1 0h1m21 0h1m12 0h2m20 0h1m30 0h1m11 0h1m24 0h1m33 0h2m15 0h1m57 0h1m60 0h2M22 229.5h1m4 0h1m14 0h1m37 0h1m1 0h1m22 0h1m6 0h1m11 0h1m6 0h2m5 0h2m11 0h1m2 0h2m1 0h1m61 0h1m11 0h5m4 0h2m2 0h1m30 0h2m28 0h2m2 0h2m17 0h4m13 0h2M10 230.5h1m4 0h1m42 0h1m19 0h1m18 0h1m18 0h1m25 0h1m6 0h1m47 0h1m2 0h1m21 0h1m50 0h2m42 0h2m37 0h2m10 0h2M18 231.5h1m25 0h1m21 0h1m37 0h1m11 0h1m5 0h1m13 0h1m1 0h1m12 0h1m33 0h1m22 0h2m19 0h2m5 0h1m29 0h2m27 0h2M32 232.5h1m19 0h1m22 0h1m18 0h1m1 0h1m11 0h1m20 0h1m1 0h1m20 0h1m60 0h1m6 0h3m21 0h1m17 0h2m64 0h2m47 0h3m2 0h2M7 233.5h1m10 0h1m12 0h1m6 0h1m2 0h1m10 0h2m8 0h1m3 0h1m20 0h1m7 0h1m2 0h1m35 0h1m46 0h1m52 0h2m6 0h2m11 0h2m2 0h2m1 0h2m27 0h2m10 0h2m6 0h2m76 0h3M11 234.5h1m2 0h1m12 0h3m6 0h1m3 0h1m2 0h1m11 0h2m13 0h1m27 0h1m3 0h1m3 0h1m21 0h1m34 0h1m1 0h1m26 0h1m12 0h2m3 0h1m15 0h2m3 0h1m12 0h1m52 0h2m2 0h2m60 0h2M0 235.5h1m19 0h1m12 0h1m5 0h1m8 0h1m12 0h1m15 0h1m29 0h1m9 0h1m18 0h1m40 0h2m28 0h1m26 0h2m4 0h2m7 0h1m57 0h2m6 0h2m75 0h2M11 236.5h1m6 0h1m2 0h1m8 0h4m6 0h2m11 0h1m2 0h1m14 0h2m1 0h1m7 0h2m11 0h1m22 0h1m9 0h1m7 0h1m3 0h1m23 0h1m6 0h1m29 0h2m8 0h2m3 0h1m17 0h2m1 0h2m58 0h2m16 0h2m11 0h2M2 237.5h1m4 0h1m5 0h1m25 0h1m10 0h1m22 0h1m17 0h1m7 0h1m9 0h1m4 0h1m19 0h1m15 0h1m3 0h2m1 0h1m28 0h2m29 0h2m18 0h2m95 0h7M8 238.5h1m6 0h1m3 0h1m6 0h1m23 0h1m10 0h1m18 0h1m21 0h1m5 0h1m1 0h1m2 0h2m31 0h3m5 0h2m2 0h1m6 0h1m5 0h1m21 0h1m40 0h2m14 0h2m16 0h1m21 0h1m8 0h2m74 0h2m10 0h2M29 239.5h1m16 0h1m1 0h1m10 0h1m1 0h1m17 0h1m13 0h1m4 0h1m6 0h1m5 0h1m4 0h1m7 0h1m14 0h1m27 0h2m3 0h1m38 0h2m29 0h2m17 0h1m28 0h1m6 0h2m4 0h2m16 0h2M0 240.5h1m9 0h1m6 0h1m23 0h1m17 0h1m14 0h1m4 0h1m5 0h1m35 0h1m5 0h1m2 0h1m5 0h1m13 0h1m9 0h1m5 0h1m50 0h2m9 0h1m15 0h1m5 0h2m2 0h1m139 0h3M2 241.5h1m5 0h1m2 0h1m6 0h1m28 0h1m33 0h1m1 0h1m6 0h1m1 0h1m4 0h2m10 0h1m9 0h1m39 0h1m4 0h1m7 0h1m13 0h2m17 0h2m4 0h2m90 0h2m23 0h2m24 0h2m5 0h2m9 0h3M3 242.5h1m1 0h1m5 0h1m1 0h1m21 0h1m13 0h1m1 0h1m12 0h1m6 0h2m14 0h1m10 0h1m7 0h2m1 0h1m16 0h1m11 0h1m10 0h1m4 0h2m17 0h2m15 0h2m1 0h3m88 0h2m33 0h2m20 0h2m27 0h2M8 243.5h1m14 0h1m4 0h1m12 0h1m14 0h1m1 0h1m5 0h1m49 0h1m3 0h2m13 0h1m26 0h1m4 0h1m83 0h1m19 0h2m4 0h2m26 0h2m14 0h2m66 0h2M0 244.5h1m11 0h1m1 0h1m2 0h1m11 0h1m15 0h2m5 0h1m3 0h1m19 0h1m21 0h1m5 0h1m16 0h1m3 0h1m11 0h1m27 0h1m48 0h2m79 0h2M7 245.5h2m1 0h2m55 0h1m65 0h2m19 0h2m2 0h1m4 0h2m52 0h2m50 0h2m7 0h2m27 0h2m10 0h2m11 0h2m7 0h2M8 246.5h1m27 0h1m4 0h1m23 0h1m1 0h2m20 0h1m41 0h1m5 0h1m11 0h1m3 0h1m9 0h1m61 0h1m2 0h1m33 0h2m47 0h2m4 0h2m17 0h2m3 0h2m15 0h3M6 247.5h1m23 0h1m7 0h1m17 0h2m2 0h1m17 0h1m22 0h1m1 0h2m29 0h1m7 0h1m26 0h1m12 0h2m29 0h1m91 0h2m4 0h2m25 0h3m24 0h3M5 248.5h1m9 0h1m22 0h1m48 0h1m34 0h1m48 0h1m26 0h2m1 0h2m4 0h1m2 0h1m69 0h2m23 0h2m34 0h2m2 0h2M17 249.5h1m2 0h1m6 0h1m16 0h1m6 0h1m6 0h1m29 0h2m25 0h1m7 0h1m7 0h1m2 0h1m28 0h1m28 0h1m64 0h2m60 0h2m31 0h4m33 0h3M2 250.5h1m11 0h1m15 0h1m16 0h1m12 0h1m3 0h1m18 0h1m3 0h1m8 0h1m3 0h1m11 0h1m9 0h1m5 0h1m12 0h1m65 0h1m34 0h2m3 0h2m1 0h2m5 0h2m48 0h2m40 0h5m9 0h2m5 0h2m15 0h2M10 251.5h1m12 0h1m9 0h1m7 0h1m3 0h1m8 0h2m6 0h1m22 0h1m53 0h1m35 0h1m3 0h1m4 0h1m51 0h3m29 0h1m2 0h2m2 0h2m64 0h2m27 0h2m8 0h2m2 0h3M39 252.5h1m13 0h1m7 0h1m10 0h2m7 0h1m15 0h1m6 0h1m15 0h1m11 0h1m7 0h1m26 0h2m21 0h2m27 0h1m12 0h2m16 0h2m84 0h2M5 253.5h1m3 0h1m13 0h1m1 0h1m11 0h1m23 0h1m17 0h1m1 0h1m3 0h1m3 0h1m15 0h1m4 0h1m24 0h1m7 0h2m22 0h2m3 0h1m15 0h1m4 0h1m55 0h3m41 0h2m31 0h2m37 0h3m16 0h3M8 254.5h2m3 0h1m13 0h1m18 0h1m16 0h1m31 0h1m7 0h1m13 0h1m18 0h1m8 0h1m11 0h1m74 0h2m23 0h2m9 0h1m17 0h2m13 0h2m67 0h2M2 255.5h1m12 0h1m12 0h1m1 0h1m5 0h1m5 0h1m4 0h1m15 0h1m2 0h1m24 0h1m5 0h1m35 0h1m1 0h1m10 0h1m2 0h1m3 0h1m83 0h2m6 0h2m17 0h2m106 0h3M3 256.5h1m29 0h1m15 0h1m2 0h1m15 0h2m18 0h1m5 0h1m20 0h1m12 0h1m23 0h1m19 0h1m34 0h1m3 0h2m21 0h2m33 0h2m38 0h2m19 0h2m26 0h3m28 0h3M7 257.5h1m4 0h1m8 0h1m18 0h1m71 0h1m32 0h1m29 0h1m24 0h1m4 0h2m4 0h2m1 0h2m48 0h2m3 0h2m34 0h2m58 0h3M21 258.5h1m1 0h1m40 0h1m17 0h1m7 0h1m11 0h1m2 0h1m7 0h1m23 0h1m10 0h1m85 0h2m3 0h3m5 0h2m12 0h1m53 0h2m4 0h2m20 0h2m7 0h2m33 0h2m3 0h2M10 259.5h1m36 0h1m6 0h1m27 0h1m11 0h1m30 0h1m2 0h2m13 0h2m19 0h1m5 0h1m19 0h2m39 0h1M20 260.5h1m7 0h1m7 0h1m23 0h1m3 0h2m48 0h1m2 0h1m8 0h1m5 0h1m6 0h1m2 0h1m6 0h1m1 0h1m8 0h1m5 0h1m10 0h2m40 0h1m32 0h2m8 0h2m9 0h2m11 0h2m64 0h2m16 0h2M9 261.5h1m5 0h1m14 0h1m1 0h1m13 0h1m1 0h1m12 0h1m5 0h1m25 0h1m19 0h1m4 0h1m5 0h1m2 0h2m6 0h1m10 0h1m17 0h1m14 0h1m34 0h2m6 0h1m3 0h2m12 0h2m2 0h1m5 0h2m26 0h2m52 0h2m4 0h3m48 0h3M11 262.5h1m13 0h1m39 0h2m1 0h2m1 0h1m29 0h1m11 0h1m55 0h1m43 0h1m3 0h2m20 0h1m137 0h3M2 263.5h1m13 0h1m15 0h1m9 0h1m7 0h2m4 0h1m12 0h1m48 0h1m2 0h1m14 0h1m10 0h1m36 0h1m20 0h2m3 0h1m14 0h1m16 0h2m42 0h2m29 0h2m9 0h4m60 0h2M9 264.5h1m15 0h1m15 0h1m2 0h1m7 0h1m3 0h1m38 0h1m2 0h1m9 0h1m62 0h1m32 0h1m9 0h2m1 0h2m4 0h2m44 0h4m7 0h2m11 0h2m14 0h2m4 0h2m11 0h2m26 0h2m17 0h2M1 265.5h1m10 0h1m24 0h1m2 0h1m29 0h1m4 0h1m35 0h1m9 0h1m7 0h1m23 0h1m25 0h1m30 0h1m18 0h2m9 0h2m35 0h1m2 0h2m13 0h2m31 0h4m48 0h2M26 266.5h1m8 0h2m2 0h1m1 0h1m5 0h1m11 0h1m7 0h1m16 0h1m15 0h2m31 0h1m48 0h2m12 0h1m42 0h1m15 0h2m7 0h2m47 0h2m19 0h2M6 267.5h1m22 0h1m2 0h1m12 0h2m41 0h1m24 0h1m2 0h1m1 0h1m4 0h1m2 0h2m3 0h1m47 0h1m10 0h2m15 0h1m39 0h2m56 0h2m19 0h2m35 0h2M16 268.5h1m26 0h1m4 0h1m1 0h1m4 0h1m34 0h1m70 0h2m34 0h1m19 0h2m54 0h4m66 0h2m37 0h2m3 0h5M1 269.5h1m1 0h2m9 0h1m7 0h1m3 0h1m8 0h1m32 0h1m13 0h1m23 0h1m5 0h1m20 0h1m79 0h1m35 0h1m45 0h2m95 0h2M33 270.5h1m5 0h2m3 0h2m27 0h1m36 0h1m1 0h1m8 0h1m29 0h1m13 0h1m16 0h2m5 0h1m18 0h2m21 0h1m27 0h2m36 0h4m20 0h2m26 0h3m37 0h3M23 271.5h1m27 0h1m6 0h1m3 0h2m19 0h1m7 0h1m16 0h1m15 0h1m3 0h1m1 0h2m10 0h1m38 0h3m10 0h2m20 0h1m2 0h1m8 0h1m2 0h1m5 0h2m8 0h2m13 0h2m31 0h2m12 0h2m21 0h2m46 0h2m10 0h2M0 272.5h1m7 0h1m19 0h1m6 0h1m18 0h1m4 0h1m12 0h1m40 0h1m28 0h1m6 0h1m2 0h1m11 0h1m1 0h1m22 0h1m11 0h2m31 0h2m3 0h1m21 0h1m16 0h2m8 0h2m21 0h2m21 0h2M16 273.5h1m6 0h1m2 0h1m8 0h2m21 0h1m6 0h1m13 0h1m12 0h1m24 0h1m4 0h1m5 0h1m59 0h1m8 0h1m52 0h2m36 0h2m3 0h2m46 0h2m13 0h2M1 274.5h1m7 0h1m24 0h1m9 0h2m38 0h1m12 0h1m10 0h1m14 0h1m9 0h1m18 0h2m4 0h1m29 0h1m36 0h1m13 0h1m10 0h2m9 0h1m70 0h2M7 275.5h1m1 0h1m2 0h1m16 0h1m26 0h1m2 0h1m18 0h1m18 0h1m30 0h1m8 0h1m18 0h1m9 0h1m3 0h1m55 0h2m49 0h1m37 0h2M4 276.5h1m11 0h2m7 0h1m3 0h1m6 0h1m43 0h1m1 0h1m17 0h1m16 0h1m1 0h1m10 0h1m42 0h2m19 0h2m2 0h2m37 0h2m11 0h2m17 0h2m17 0h2m11 0h2m65 0h2M17 277.5h1m16 0h1m5 0h1m25 0h1m3 0h1m13 0h1m15 0h1m19 0h1m8 0h1m3 0h2m3 0h1m13 0h1m41 0h2m26 0h1m72 0h2m10 0h2M2 278.5h1m8 0h1m36 0h1m2 0h1m2 0h1m2 0h1m2 0h1m26 0h1m19 0h1m3 0h1m16 0h1m13 0h1m6 0h1m4 0h2m20 0h1m40 0h2m13 0h2m27 0h1m49 0h2m8 0h2m35 0h3M7 279.5h1m10 0h1m7 0h1m15 0h1m10 0h1m8 0h1m25 0h1m25 0h1m23 0h1m14 0h1m66 0h2m15 0h2m68 0h2m23 0h2M6 280.5h1m24 0h1m25 0h1m42 0h1m17 0h1m18 0h1m4 0h1m26 0h1m23 0h1m11 0h2m19 0h2m16 0h1m70 0h2m32 0h3M17 281.5h2m8 0h1m4 0h1m11 0h1m4 0h1m20 0h1m16 0h2m1 0h1m17 0h1m2 0h1m36 0h1m2 0h1m51 0h1m7 0h2m12 0h1m29 0h2m84 0h2m4 0h2M2 282.5h1m6 0h1m4 0h1m24 0h1m7 0h1m20 0h1m12 0h1m2 0h1m13 0h1m6 0h1m51 0h1m2 0h1m4 0h1m9 0h1m16 0h1m39 0h2m32 0h2m35 0h2m2 0h2m54 0h2M22 283.5h1m8 0h1m1 0h1m6 0h1m6 0h1m7 0h1m37 0h1m37 0h1m19 0h1m11 0h1m24 0h1m27 0h1m38 0h2m127 0h3M5 284.5h1m13 0h1m2 0h1m13 0h1m20 0h1m17 0h1m15 0h1m27 0h1m4 0h1m2 0h1m5 0h1m29 0h1m5 0h1m27 0h1m27 0h1m2 0h1m49 0h2m31 0h2m25 0h3M19 285.5h1m3 0h1m20 0h1m1 0h1m12 0h1m48 0h1m30 0h1m7 0h1m12 0h1m9 0h5m14 0h1m7 0h1m16 0h2m105 0h2m38 0h2m29 0h2M7 286.5h1m15 0h1m11 0h1m19 0h1m3 0h1m2 0h1m3 0h1m5 0h2m4 0h1m5 0h1m14 0h1m30 0h1m5 0h1m11 0h1m3 0h1m12 0h1m5 0h1m22 0h2m1 0h1m36 0h2m42 0h2m11 0h2m4 0h2m76 0h2m15 0h2M0 287.5h2m9 0h1m20 0h1m15 0h1m19 0h1m2 0h1m1 0h1m8 0h1m15 0h1m5 0h2m4 0h1m9 0h1m39 0h1m29 0h2m45 0h2m43 0h2m4 0h3m24 0h2m21 0h3m4 0h2m18 0h3M0 288.5h1m6 0h1m4 0h1m24 0h1m3 0h2m7 0h2m4 0h1m27 0h1m14 0h1m16 0h1m30 0h1m21 0h1m6 0h1m8 0h1m19 0h2m15 0h1m2 0h1m2 0h1m5 0h2m33 0h2m46 0h2m11 0h2m11 0h2m7 0h2m26 0h2M10 289.5h1m7 0h1m2 0h1m4 0h1m4 0h1m10 0h1m4 0h1m25 0h1m4 0h1m5 0h1m4 0h1m6 0h1m21 0h2m44 0h1m12 0h2m1 0h1m33 0h2m52 0h3m67 0h3M14 290.5h1m4 0h1m19 0h1m4 0h1m3 0h1m8 0h1m13 0h1m40 0h1m9 0h1m3 0h1m2 0h1m7 0h1m9 0h2m23 0h1m19 0h1m10 0h1m13 0h2m10 0h2m47 0h2M0 291.5h1m1 0h1m3 0h1m4 0h1m22 0h2m1 0h1m35 0h1m2 0h1m2 0h1m8 0h1m29 0h1m6 0h1m13 0h1m23 0h1m22 0h3m8 0h1m6 0h1m2 0h4m6 0h2m23 0h2M4 292.5h1m16 0h1m23 0h1m4 0h1m10 0h1m7 0h1m12 0h1m4 0h1m11 0h1m8 0h1m50 0h1m16 0h3m1 0h1m44 0h1m11 0h2m10 0h1m40 0h1m4 0h2m8 0h2m85 0h2M18 293.5h1m17 0h2m4 0h1m3 0h1m9 0h1m28 0h1m1 0h1m44 0h1m5 0h1m19 0h1m14 0h2m23 0h3m19 0h2m14 0h1m72 0h2M0 294.5h1m24 0h1m9 0h1m18 0h1m1 0h2m26 0h1m44 0h1m20 0h1m2 0h1m4 0h1m13 0h1m8 0h1m18 0h1m9 0h1m21 0h2m113 0h5M2 295.5h1m17 0h1m23 0h1m14 0h1m11 0h1m10 0h1m28 0h1m7 0h1m2 0h1m6 0h1m8 0h1m101 0h2m22 0h2m20 0h2m2 0h1m12 0h2m4 0h2m66 0h3m7 0h2M2 296.5h1m6 0h1m1 0h1m23 0h1m1 0h1m2 0h1m21 0h1m19 0h2m11 0h1m5 0h1m1 0h1m14 0h1m6 0h1m5 0h2m1 0h1m15 0h1m5 0h1m32 0h1m2 0h1m54 0h2m10 0h2m36 0h2m46 0h2m16 0h2m10 0h2m12 0h3M0 297.5h1m8 0h1m6 0h1m7 0h1m11 0h1m15 0h1m1 0h1m5 0h1m35 0h1m2 0h1m22 0h1m1 0h1m6 0h1m56 0h1m1 0h2m1 0h1m2 0h1m26 0h3m6 0h4m41 0h1m21 0h2m4 0h4m27 0h2M11 298.5h1m5 0h1m12 0h1m1 0h2m2 0h1m3 0h1m6 0h1m16 0h1m9 0h1m2 0h1m20 0h1m27 0h1m1 0h1m7 0h1m3 0h1m6 0h1m3 0h1m21 0h2m41 0h1m25 0h2m42 0h2m99 0h2m5 0h3M7 299.5h1m12 0h4m4 0h2m8 0h1m41 0h1m5 0h1m9 0h1m1 0h1m12 0h1m3 0h1m9 0h1m2 0h1m20 0h1m4 0h2m2 0h1m31 0h2m48 0h2m40 0h2m65 0h3M74 300.5h1m19 0h1m12 0h2m9 0h1m12 0h1m22 0h2m23 0h1m13 0h1m20 0h2m29 0h2m24 0h2m42 0h2m15 0h2m18 0h2m16 0h2M8 301.5h1m19 0h2m2 0h1m4 0h1m7 0h1m4 0h1m10 0h1m8 0h1m50 0h1m51 0h2m9 0h1m65 0h2m3 0h2m56 0h2m13 0h2m26 0h2m24 0h2m8 0h2M7 302.5h1m7 0h1m14 0h1m3 0h1m8 0h1m4 0h1m2 0h1m25 0h1m4 0h1m9 0h1m7 0h1m15 0h1m11 0h1m9 0h1m20 0h1m12 0h1m20 0h1m16 0h1m11 0h1m11 0h2m4 0h2m7 0h1M14 303.5h1m3 0h1m38 0h1m36 0h1m2 0h3m30 0h1m4 0h1m24 0h1m6 0h2m10 0h1m21 0h2m20 0h2m1 0h2m6 0h2m9 0h2m68 0h2m21 0h3m22 0h2M12 304.5h1m20 0h1m3 0h2m3 0h1m2 0h1m7 0h1m3 0h1m16 0h1m1 0h1m10 0h1m8 0h1m17 0h1m34 0h1m11 0h2m6 0h1m23 0h1m4 0h2m40 0h2m5 0h2m37 0h2m40 0h2M20 305.5h1m6 0h1m34 0h1m6 0h1m9 0h1m8 0h1m8 0h1m10 0h1m2 0h1m17 0h1m4 0h1m6 0h1m43 0h1m3 0h1m2 0h2m13 0h1m39 0h2m94 0h2m42 0h2M7 306.5h1m52 0h1m7 0h1m7 0h1m25 0h3m18 0h1m9 0h1m7 0h1m6 0h1m4 0h1m75 0h2m13 0h1m24 0h2m4 0h2m1 0h2m2 0h2M10 307.5h1m51 0h1m42 0h1m2 0h1m7 0h1m32 0h1m1 0h1m6 0h1m7 0h1m15 0h2m13 0h1m51 0h1m82 0h2m9 0h2m11 0h2m17 0h2M14 308.5h1m15 0h1m5 0h1m6 0h1m4 0h1m8 0h1m11 0h1m4 0h1m29 0h1m10 0h1m7 0h1m12 0h3m3 0h4m8 0h2m78 0h2m25 0h1m2 0h2m27 0h2m4 0h2m10 0h4m13 0h2m52 0h2M5 309.5h1m7 0h1m8 0h1m3 0h1m21 0h1m14 0h1m4 0h1m10 0h1m4 0h2m32 0h1m1 0h1m9 0h1m6 0h1m29 0h2m2 0h1m25 0h1m7 0h2m30 0h2m20 0h2m8 0h2m63 0h2m13 0h3m23 0h2m3 0h4M3 310.5h1m16 0h1m15 0h1m4 0h1m1 0h1m8 0h1m5 0h1m19 0h1m23 0h1m19 0h1m37 0h1m2 0h1m21 0h1m46 0h4m77 0h4m15 0h2m41 0h7M15 311.5h1m1 0h1m2 0h1m56 0h1m13 0h1m7 0h1m4 0h1m72 0h2m44 0h2m9 0h2m14 0h2m135 0h2M9 312.5h1m19 0h1m32 0h1m2 0h1m3 0h1m6 0h1m45 0h1m18 0h1m8 0h1m6 0h1m3 0h2m42 0h2m35 0h2m22 0h2m12 0h2m29 0h2m23 0h2m3 0h2m20 0h2m10 0h2M6 313.5h1m7 0h1m9 0h1m23 0h1m3 0h1m22 0h2m7 0h1m2 0h1m24 0h1m35 0h1m3 0h1m24 0h2m1 0h1m30 0h2m32 0h2m8 0h2m123 0h2M6 314.5h1m8 0h1m9 0h1m13 0h1m4 0h1m25 0h1m4 0h1m19 0h1m1 0h1m5 0h1m8 0h1m16 0h1m6 0h1m6 0h3m1 0h1m12 0h1m9 0h1m33 0h1m42 0h2m17 0h2m9 0h1m58 0h2m23 0h2m14 0h3M0 315.5h1m58 0h1m3 0h1m17 0h1m5 0h1m9 0h1m10 0h1m12 0h1m14 0h1m13 0h1m28 0h1m17 0h1m2 0h1m164 0h3M3 316.5h1m8 0h1m6 0h1m16 0h1m3 0h1m8 0h2m1 0h1m2 0h1m2 0h1m16 0h1m1 0h1m20 0h1m3 0h1m5 0h1m12 0h1m3 0h1m32 0h1m26 0h1m8 0h3m48 0h2m64 0h2M15 317.5h1m5 0h1m1 0h1m2 0h1m8 0h1m4 0h1m1 0h1m14 0h1m29 0h1m45 0h1m67 0h2m1 0h1m47 0h2m3 0h2m9 0h1m8 0h1m2 0h2m11 0h2m35 0h4m24 0h3M16 318.5h2m4 0h1m19 0h1m18 0h1m4 0h1m3 0h1m13 0h1m3 0h1m2 0h1m11 0h1m12 0h2m2 0h2m4 0h1m3 0h1m3 0h1m68 0h1m9 0h1m50 0h2m39 0h2m42 0h3M0 319.5h1m2 0h1m29 0h1m6 0h2m3 0h1m4 0h1m11 0h1m31 0h1m1 0h1m4 0h1m2 0h1m9 0h1m16 0h1m35 0h2m11 0h1m4 0h1m42 0h1m10 0h3m130 0h3m2 0h3M11 320.5h1m6 0h1m8 0h1m3 0h1m7 0h1m19 0h1m20 0h1m2 0h1m9 0h1m4 0h1m6 0h1m3 0h1m1 0h1m5 0h1m38 0h1m8 0h1m22 0h1m9 0h2m23 0h2m22 0h2m26 0h2m40 0h2m49 0h2m5 0h2m5 0h2M2 321.5h1m10 0h1m2 0h1m14 0h1m27 0h1m19 0h1m4 0h1m1 0h1m45 0h1m17 0h1m6 0h1m12 0h1m1 0h1m37 0h1m8 0h1m17 0h3m28 0h3m13 0h2M9 322.5h1m9 0h1m6 0h1m15 0h1m35 0h1m19 0h1m3 0h1m8 0h1m2 0h1m19 0h1m3 0h1m4 0h2m28 0h2m9 0h1m9 0h2m14 0h3m44 0h2m67 0h4m57 0h2M2 323.5h1m6 0h1m8 0h1m25 0h1m11 0h1m5 0h1m1 0h2m28 0h1m6 0h1m36 0h1m33 0h1m30 0h1m55 0h2m40 0h2M1 324.5h2m15 0h1m17 0h1m2 0h1m26 0h1m17 0h1m8 0h1m2 0h1m18 0h1m26 0h1m23 0h1m14 0h1m29 0h3m8 0h1m21 0h1m52 0h2M8 325.5h1m6 0h1m44 0h1m6 0h1m3 0h1m5 0h1m10 0h1m8 0h2m65 0h1m1 0h1m50 0h2m50 0h2m44 0h2m60 0h5M26 326.5h1m13 0h1m10 0h1m11 0h1m1 0h1m6 0h1m9 0h1m9 0h1m39 0h1m37 0h1m36 0h1m63 0h2m28 0h4m49 0h2m24 0h2M7 327.5h1m2 0h1m5 0h1m42 0h2m16 0h1m2 0h1m24 0h2m6 0h1m4 0h1m9 0h1m9 0h1m6 0h1m39 0h1m6 0h1m1 0h2m90 0h2m17 0h2M2 328.5h1m1 0h1m4 0h1m8 0h1m2 0h1m13 0h1m1 0h1m2 0h2m20 0h1m13 0h1m5 0h1m4 0h2m9 0h1m8 0h1m5 0h1m1 0h1m3 0h1m8 0h2m29 0h2m9 0h1m9 0h1m16 0h1m80 0h2m15 0h2m71 0h2m12 0h2M10 329.5h1m24 0h1m10 0h1m23 0h1m19 0h2m23 0h1m5 0h1m27 0h1m1 0h1m6 0h3m9 0h1m30 0h2m16 0h1m17 0h2m18 0h2m58 0h2m11 0h2M3 330.5h1m23 0h1m8 0h1m6 0h1m12 0h2m24 0h1m4 0h1m13 0h1m1 0h1m49 0h1m21 0h1m22 0h5m7 0h1m21 0h2m50 0h2m59 0h2m18 0h3M14 331.5h1m6 0h1m37 0h1m17 0h1m35 0h1m13 0h1m14 0h1m80 0h2m41 0h2m39 0h2m2 0h2m13 0h2M11 332.5h1m7 0h1m19 0h1m12 0h1m2 0h1m66 0h1m3 0h1m4 0h2m2 0h1m54 0h2m9 0h2m29 0h2m63 0h2M25 333.5h1m4 0h1m3 0h1m26 0h1m21 0h1m5 0h1m27 0h1m1 0h1m1 0h1m15 0h1m2 0h1m15 0h1m1 0h1m4 0h1m1 0h1m1 0h2m59 0h1m57 0h2m3 0h2m26 0h2m49 0h2M12 334.5h1m8 0h1m4 0h1m6 0h1m25 0h1m22 0h1m47 0h1m38 0h2m21 0h1m8 0h2m25 0h1m48 0h1m2 0h2m15 0h2m29 0h2m8 0h3m6 0h2M19 335.5h1m8 0h1m7 0h1m6 0h1m8 0h1m12 0h1m5 0h1m41 0h1m27 0h1m10 0h1m43 0h1m4 0h2m8 0h2m1 0h3m8 0h1m35 0h1m20 0h2m33 0h2m7 0h2m2 0h2m26 0h3m11 0h3m14 0h3M11 336.5h1m6 0h1m7 0h2m2 0h1m15 0h1m25 0h1m18 0h1m2 0h1m15 0h1m16 0h1m35 0h1m22 0h2m34 0h1m19 0h2m1 0h2m5 0h2m15 0h2m2 0h2m20 0h2m37 0h2m48 0h3M1 337.5h1m8 0h1m13 0h1m29 0h1m8 0h1m7 0h2m16 0h1m15 0h1m27 0h1m17 0h1m11 0h1m13 0h2m11 0h2m22 0h2m15 0h1m4 0h1m20 0h2m21 0h2m90 0h3m7 0h2M34 338.5h1m5 0h1m41 0h1m4 0h1m3 0h1m7 0h1m18 0h1m15 0h1m1 0h1m16 0h1m5 0h1m1 0h2m1 0h1m27 0h1m1 0h2m15 0h2m58 0h2m121 0h3M2 339.5h1m45 0h1m12 0h2m12 0h1m2 0h1m9 0h2m5 0h1m17 0h2m2 0h1m2 0h1m4 0h1m13 0h1m25 0h1m6 0h1m4 0h2m1 0h1m33 0h2m87 0h2m21 0h2m15 0h2m7 0h2m9 0h2M18 340.5h1m47 0h1m6 0h1m13 0h1m12 0h1m34 0h1m13 0h2m2 0h1m2 0h1m14 0h1m12 0h1m22 0h1m12 0h2m1 0h2m11 0h1m18 0h2m46 0h2m12 0h2m51 0h2M25 341.5h1m21 0h1m8 0h1m5 0h1m8 0h1m28 0h1m4 0h1m13 0h1m3 0h1m25 0h1m34 0h1m1 0h2m41 0h2m60 0h2m2 0h2m14 0h2m2 0h2m4 0h2M6 342.5h1m15 0h1m35 0h1m11 0h1m2 0h1m4 0h1m10 0h1m3 0h1m4 0h1m70 0h1m15 0h1m8 0h2m15 0h2m13 0h2m8 0h1m22 0h2m50 0h2m2 0h2m2 0h2m11 0h2m9 0h2M0 343.5h1m5 0h1m7 0h1m35 0h1m15 0h1m4 0h1m6 0h1m4 0h1m10 0h1m61 0h1m31 0h1m9 0h2m23 0h2m3 0h1m3 0h2m5 0h1m5 0h2m52 0h2m6 0h2m43 0h2m7 0h2m26 0h3M3 344.5h1m11 0h1m7 0h1m26 0h1m13 0h1m3 0h1m9 0h1m6 0h1m3 0h1m10 0h1m32 0h1m11 0h1m1 0h1m11 0h2m14 0h1m5 0h1m35 0h2m4 0h2m9 0h2m21 0h2m75 0h2m56 0h2M34 345.5h1m8 0h1m2 0h1m6 0h1m7 0h1m14 0h1m3 0h1m2 0h1m16 0h2m16 0h1m31 0h1m2 0h1m21 0h1m49 0h1m51 0h1m33 0h2m8 0h2M45 346.5h1m40 0h1m12 0h1m4 0h1m1 0h1m6 0h1m8 0h1m61 0h1m1 0h2m4 0h1m4 0h1m10 0h2m59 0h2m106 0h3M3 347.5h1m16 0h1m20 0h1m8 0h1m20 0h1m48 0h1m33 0h2m70 0h2m16 0h1m16 0h1m22 0h2m17 0h2m10 0h2m63 0h2M20 348.5h1m27 0h1m5 0h1m6 0h1m45 0h1m26 0h2m9 0h1m20 0h1m9 0h1m8 0h1m34 0h2m25 0h2m1 0h2m91 0h2M5 349.5h1m6 0h1m4 0h1m2 0h1m6 0h2m3 0h2m15 0h1m2 0h1m10 0h1m10 0h1m9 0h1m35 0h1m35 0h1m13 0h1m25 0h1m17 0h2m87 0h2m21 0h2m19 0h2m7 0h2M9 350.5h1m2 0h1m17 0h1m44 0h2m10 0h1m11 0h1m10 0h1m2 0h1m18 0h1m18 0h1m38 0h2m18 0h1m57 0h1m6 0h3m6 0h2m27 0h2m43 0h3M11 351.5h1m10 0h1m26 0h1m10 0h1m14 0h1m4 0h1m28 0h1m19 0h1m2 0h1m2 0h1m5 0h4m9 0h2m30 0h2m2 0h2m1 0h1m11 0h2m13 0h2m15 0h2m62 0h2m29 0h2m36 0h2M2 352.5h1m21 0h1m8 0h1m7 0h1m10 0h1m15 0h1m6 0h1m9 0h1m12 0h1m41 0h1m10 0h1m19 0h1m57 0h2m23 0h1m2 0h2m64 0h3m21 0h2m40 0h3M18 353.5h1m6 0h1m4 0h1m14 0h1m14 0h1m8 0h1m9 0h1m5 0h1m4 0h1m1 0h1m4 0h1m5 0h1m31 0h1m6 0h1m61 0h1m35 0h2m3 0h2m12 0h2m52 0h2m2 0h2m33 0h2m30 0h3M3 354.5h2m2 0h1m7 0h2m8 0h1m13 0h1m18 0h1m3 0h1m14 0h1m4 0h1m65 0h1m24 0h2m39 0h2m29 0h4m39 0h2m9 0h2m4 0h2m10 0h2m2 0h5m54 0h2M0 355.5h1m1 0h1m4 0h1m2 0h2m19 0h1m5 0h1m4 0h1m2 0h1m7 0h1m17 0h1m6 0h1m6 0h1m16 0h1m11 0h1m15 0h1m3 0h1m10 0h1m14 0h1m12 0h2m7 0h2m8 0h1m26 0h1m12 0h2m20 0h1m7 0h2m20 0h2m15 0h2m2 0h2m85 0h2M1 356.5h1m1 0h1m1 0h1m1 0h1m6 0h1m3 0h1m3 0h1m6 0h1m4 0h1m28 0h1m13 0h1m1 0h1m10 0h1m16 0h1m21 0h1m2 0h1m3 0h1m4 0h1m15 0h1m23 0h1m8 0h2m25 0h2m20 0h1m33 0h2m77 0h2m2 0h2M21 357.5h1m31 0h1m1 0h1m15 0h1m16 0h1m7 0h1m12 0h1m5 0h1m13 0h1m40 0h1m21 0h1m15 0h2m7 0h2m33 0h2m23 0h1m8 0h2m31 0h2m5 0h2m24 0h2m21 0h2m12 0h3M4 358.5h1m8 0h1m4 0h1m2 0h1m37 0h1m42 0h1m12 0h1m9 0h2m6 0h1m2 0h1m6 0h2m5 0h1m20 0h1m21 0h1m26 0h2m44 0h2m16 0h2m5 0h2m4 0h2m14 0h2M15 359.5h1m12 0h1m26 0h3m20 0h1m35 0h1m38 0h1m5 0h2m9 0h1m10 0h1m2 0h1m22 0h1m5 0h1m35 0h1m18 0h1m11 0h2m72 0h2M15 360.5h1m2 0h1m4 0h1m14 0h1m12 0h1m36 0h1m12 0h1m4 0h1m20 0h1m3 0h1m6 0h1m22 0h2m29 0h2m23 0h2m1 0h3m22 0h2m2 0h1m18 0h1m40 0h2M11 361.5h2m7 0h1m2 0h1m9 0h1m25 0h2m13 0h1m11 0h1m7 0h1m22 0h1m7 0h1m23 0h1m7 0h1m3 0h2m3 0h1m9 0h1m11 0h1m39 0h1m55 0h2m77 0h2m22 0h2M1 362.5h1m4 0h1m16 0h1m4 0h1m9 0h1m8 0h1m15 0h1m41 0h1m9 0h1m32 0h1m14 0h1m12 0h1m33 0h1m14 0h1m36 0h2m18 0h2M7 363.5h1m7 0h1m1 0h3m11 0h1m6 0h2m4 0h1m9 0h1m28 0h1m26 0h1m27 0h1m26 0h1m9 0h1m5 0h1m44 0h2m16 0h3m8 0h2m12 0h2m2 0h2m74 0h5m40 0h3M4 364.5h1m9 0h1m12 0h2m5 0h2m11 0h1m1 0h1m29 0h1m27 0h1m14 0h1m11 0h1m11 0h1m10 0h1m22 0h1m19 0h1m38 0h1m17 0h2m77 0h2m14 0h2m11 0h3m21 0h3M8 365.5h1m1 0h1m10 0h1m5 0h1m18 0h1m9 0h1m2 0h1m14 0h1m16 0h1m12 0h1m4 0h2m7 0h1m9 0h1m7 0h1m10 0h1m50 0h2m47 0h2m17 0h2m18 0h2m53 0h2m34 0h3M17 366.5h1m1 0h1m8 0h1m6 0h1m7 0h1m2 0h2m23 0h2m4 0h1m1 0h1m2 0h1m3 0h1m7 0h1m44 0h1m9 0h1m9 0h1m16 0h1m40 0h3m3 0h2m84 0h2m12 0h3m2 0h2m42 0h3m17 0h2M15 367.5h1m19 0h1m33 0h1m8 0h1m12 0h1m39 0h1m10 0h1m96 0h1m46 0h2m25 0h2m17 0h2m4 0h3m8 0h3m28 0h2m5 0h2M32 368.5h1m2 0h1m16 0h1m14 0h1m12 0h1m33 0h1m45 0h1m5 0h1m30 0h1m3 0h2m41 0h1m26 0h2m17 0h1m30 0h2m9 0h2m43 0h3m12 0h2M32 369.5h1m2 0h1m16 0h1m14 0h1m12 0h1m33 0h1m45 0h1m5 0h1m30 0h1m3 0h2m41 0h1m26 0h2m17 0h1m30 0h2m9 0h2m43 0h3m12 0h2"/>
<path stroke="#482475" d="M30 0.5h1m33 0h1m12 0h1m33 0h1m34 0h1m49 0h1m124 0h2m29 0h2m11 0h3M5 1.5h1m7 0h1m22 0h1m6 0h1m24 0h1m68 0h1m50 0h1m16 0h2m3 0h1m43 0h1m79 0h2m9 0h2m16 0h2M1 2.5h1m91 0h1m4 0h1m8 0h1m23 0h1m40 0h1M18 3.5h1m3 0h1m2 0h1m7 0h1m18 0h1m8 0h1m99 0h2m17 0h1m71 0h2M0 4.5h1m33 0h1m2 0h1m36 0h1m29 0h1m8 0h1m26 0h1m43 0h1m12 0h1m111 0h2m21 0h2m9 0h2m20 0h3M17 5.5h1m24 0h1m1 0h1m3 0h1m10 0h1m14 0h1m8 0h2m49 0h1m4 0h1m17 0h1m5 0h1m162 0h2M49 6.5h1m21 0h1m10 0h1m20 0h1m52 0h1m28 0h1m71 0h2m27 0h2m7 0h2m83 0h2m10 0h2M16 7.5h1m2 0h1m3 0h1m3 0h1m27 0h2m48 0h1m24 0h1m23 0h2m3 0h1m19 0h1m8 0h1m21 0h1m57 0h3m38 0h2m43 0h2m26 0h2M27 8.5h2m15 0h1m9 0h1m6 0h1m5 0h1m37 0h1m36 0h1m2 0h1m35 0h1m18 0h1m7 0h2m40 0h2m14 0h3m6 0h2m51 0h2m38 0h2M7 9.5h2m33 0h1m1 0h1m4 0h2m15 0h2m4 0h1m46 0h1m10 0h1m17 0h1m24 0h2m6 0h1m2 0h1m4 0h1m2 0h1m8 0h3m25 0h2m14 0h2M37 10.5h2m42 0h1m14 0h1m7 0h1m5 0h1m2 0h1m2 0h1m18 0h1m4 0h1m82 0h2m15 0h2m84 0h2m24 0h2m38 0h2M16 11.5h1m3 0h1m13 0h1m3 0h1m10 0h1m16 0h1m20 0h1m7 0h1m4 0h1m2 0h1m38 0h1m4 0h1m11 0h1m33 0h1m2 0h1m20 0h2m45 0h2m16 0h2m6 0h1m70 0h2m26 0h3M3 12.5h2m7 0h1m52 0h1m3 0h1m2 0h1m8 0h1m34 0h1m12 0h1m4 0h1m72 0h1m36 0h1m9 0h1m79 0h2m46 0h2m8 0h2M22 13.5h1m5 0h1m7 0h1m39 0h1m1 0h1m1 0h1m24 0h1m46 0h1m3 0h1m2 0h1m9 0h1m14 0h1m46 0h1m7 0h1m88 0h2m2 0h2m15 0h3m37 0h3M1 14.5h1m36 0h1m3 0h1m2 0h1m1 0h1m12 0h1m22 0h1m14 0h1m20 0h1m31 0h1m21 0h2m1 0h1m57 0h2m3 0h1m10 0h2m17 0h4m104 0h3M20 15.5h2m24 0h1m29 0h1m44 0h1m4 0h1m1 0h2m2 0h1m17 0h2m20 0h1m13 0h2m43 0h1m5 0h5m8 0h2m45 0h4m67 0h2M41 16.5h1m12 0h1m42 0h1m1 0h1m57 0h1m17 0h1m24 0h1m18 0h1m14 0h2m23 0h2m128 0h3M28 17.5h1m5 0h2m42 0h2m8 0h1m9 0h1m23 0h1m46 0h1m11 0h1m25 0h1m23 0h1m39 0h2m74 0h2M16 18.5h1m77 0h2m8 0h1m3 0h1m8 0h1m4 0h1m77 0h1m21 0h1m9 0h2m5 0h1m26 0h2m25 0h2m52 0h2m5 0h4m14 0h3M8 19.5h1m5 0h2m15 0h1m19 0h2m38 0h1m11 0h1m7 0h1m89 0h2m2 0h3m15 0h2m96 0h2M0 20.5h1m7 0h1m20 0h1m20 0h1m29 0h1m54 0h1m14 0h1m1 0h1m41 0h3m34 0h1m8 0h2m15 0h2m48 0h2M3 21.5h1m12 0h1m6 0h1m33 0h1m14 0h1m5 0h1m9 0h1m41 0h1m6 0h1m65 0h1m13 0h2m6 0h1m29 0h2m11 0h1m4 0h2m38 0h2M11 22.5h2m35 0h1m19 0h1m8 0h1m10 0h1m20 0h1m5 0h1m42 0h1m1 0h3m8 0h1m13 0h1m8 0h2m66 0h2m7 0h2m46 0h2m7 0h2m19 0h3M3 23.5h1m5 0h1m1 0h1m4 0h1m34 0h1m16 0h1m30 0h1m3 0h1m42 0h1m32 0h1m34 0h2m7 0h2m39 0h2m12 0h2m31 0h2m4 0h2M6 24.5h2m8 0h1m4 0h1m11 0h1m3 0h1m50 0h1m15 0h1m6 0h1m25 0h1m20 0h1m41 0h1m9 0h1m98 0h2m32 0h2M10 25.5h1m8 0h1m11 0h1m6 0h1m8 0h1m31 0h1m13 0h2m11 0h1m2 0h1m6 0h2m14 0h1m1 0h1m32 0h2m41 0h1m28 0h1m79 0h2m17 0h3m29 0h2M13 26.5h1m11 0h1m11 0h1m32 0h1m18 0h1m10 0h1m45 0h1m28 0h1m27 0h1m107 0h2M33 27.5h1m11 0h1m4 0h1m30 0h1m4 0h1m33 0h1m27 0h1m28 0h2m11 0h2m18 0h1m18 0h2m130 0h2M13 28.5h2m19 0h1m10 0h1m9 0h1m3 0h1m10 0h1m5 0h1m21 0h1m26 0h1m16 0h1m36 0h1m23 0h2m21 0h3m49 0h2m10 0h3M1 29.5h1m9 0h1m11 0h1m15 0h1m25 0h1m4 0h1m19 0h1m20 0h1m11 0h1m11 0h1m22 0h1m7 0h1m67 0h2m4 0h2M39 30.5h2m17 0h1m37 0h1m41 0h1m4 0h2m7 0h1m8 0h2m23 0h2m12 0h1m2 0h1m38 0h2m75 0h2m22 0h2M15 31.5h1m18 0h1m30 0h1m18 0h1m22 0h1m4 0h2m36 0h1m33 0h1m25 0h1m29 0h2m61 0h2m21 0h2m15 0h2m13 0h3M2 32.5h1m29 0h1m13 0h1m6 0h1m29 0h1m42 0h1m18 0h1m1 0h1m24 0h1m23 0h1m14 0h2m27 0h2M17 33.5h1m2 0h1m20 0h1m3 0h1m5 0h1m23 0h1m22 0h1m23 0h1m1 0h1m106 0h3m96 0h2m33 0h3M36 34.5h1m53 0h1m5 0h1m13 0h1m37 0h1m18 0h2m25 0h2m2 0h2m5 0h2m40 0h2m28 0h1m10 0h2m25 0h2m6 0h3M59 35.5h1m20 0h1m34 0h2m7 0h1m67 0h1m84 0h1m19 0h2m4 0h2m70 0h2M29 36.5h1m2 0h1m1 0h1m38 0h1m7 0h1m7 0h1m46 0h1m14 0h1m34 0h2m25 0h1m93 0h2M56 37.5h1m37 0h1m7 0h1m22 0h1m23 0h1m1 0h1m21 0h2m1 0h1m37 0h2m16 0h2m46 0h2m13 0h2m46 0h2M12 38.5h2m7 0h1m5 0h1m7 0h1m20 0h1m7 0h1m20 0h1m20 0h1m1 0h1m43 0h1m12 0h2m8 0h1m13 0h1m8 0h2M0 39.5h1m3 0h1m42 0h1m7 0h1m1 0h1m11 0h1m50 0h1m2 0h1m8 0h1m28 0h2m57 0h2m22 0h1m24 0h2m24 0h2m68 0h3M17 40.5h1m12 0h1m2 0h1m1 0h1m52 0h1m28 0h1m30 0h1m9 0h1m11 0h1m86 0h2m10 0h2m20 0h2M8 41.5h1m8 0h1m9 0h1m15 0h1m11 0h1m54 0h1m6 0h1m16 0h1m1 0h1m15 0h1m33 0h2m100 0h2m48 0h3m13 0h2M69 42.5h2m5 0h1m6 0h1m1 0h1m2 0h1m56 0h1m51 0h1m12 0h1m55 0h2m14 0h2m17 0h2m60 0h2M15 43.5h1m2 0h1m41 0h1m47 0h1m14 0h1m18 0h1m99 0h2m124 0h2M8 44.5h1m10 0h1m31 0h1m47 0h1m3 0h1m1 0h1m19 0h1m14 0h1m9 0h1m15 0h1m2 0h1m7 0h2m40 0h1m16 0h1m13 0h2m39 0h2m50 0h2m27 0h3M18 45.5h1m7 0h1m4 0h1m38 0h1m12 0h1m11 0h1m16 0h1m34 0h1m10 0h1m29 0h1m3 0h1m1 0h2m32 0h1m25 0h1M32 46.5h1m15 0h1m13 0h1m14 0h1m27 0h1m20 0h1m36 0h1m3 0h2m88 0h2m56 0h2m37 0h2M54 47.5h1m7 0h1m21 0h1m5 0h1m13 0h1m43 0h1m20 0h1m26 0h1m29 0h2m1 0h2m14 0h2m10 0h2m40 0h2m71 0h3m19 0h3M10 48.5h1m44 0h1m4 0h1m5 0h1m13 0h1m2 0h1m17 0h1m20 0h1m3 0h1m6 0h1m14 0h1m10 0h1m16 0h1m39 0h1m47 0h2m55 0h2m66 0h3M8 49.5h1m14 0h1m3 0h1m22 0h2m17 0h1m16 0h1m36 0h1m17 0h1m9 0h1m18 0h1m14 0h1m43 0h2m16 0h2m17 0h2m95 0h2m17 0h2M6 50.5h1m11 0h1m55 0h2m8 0h1m11 0h1m43 0h1m34 0h1m63 0h1m55 0h2m16 0h2m72 0h2M31 51.5h1m45 0h2m1 0h1m2 0h1m13 0h1m6 0h1m16 0h1m26 0h2m55 0h2m6 0h1m144 0h3M6 52.5h1m39 0h1m4 0h1m10 0h1m1 0h1m10 0h1m26 0h1m4 0h1m65 0h2m41 0h1m20 0h2m16 0h2m16 0h4m84 0h4M25 53.5h1m15 0h1m28 0h1m10 0h1m2 0h1m2 0h1m31 0h1m13 0h1m30 0h1m5 0h1m57 0h1m18 0h2m109 0h3M13 54.5h1m7 0h1m38 0h1m26 0h1m39 0h1m9 0h1m19 0h1m2 0h1m28 0h1m11 0h2m8 0h2m4 0h2m17 0h1m10 0h2m26 0h2m24 0h2m79 0h2M23 55.5h1m1 0h1m25 0h1m26 0h1m35 0h1m23 0h1m27 0h1m19 0h2m17 0h2m22 0h2m46 0h1m13 0h2M4 56.5h1m96 0h1m7 0h1m3 0h1m17 0h1m15 0h1m19 0h2m32 0h3m4 0h2m6 0h1M17 57.5h1m19 0h1m28 0h1m18 0h1m4 0h1m23 0h1m11 0h1m5 0h2m11 0h1m19 0h1m51 0h2m13 0h2M10 58.5h1m41 0h1m8 0h1m28 0h1m23 0h1m32 0h1m4 0h1m18 0h1m16 0h1m11 0h3M27 59.5h1m16 0h1m17 0h1m5 0h1m15 0h1m50 0h1m33 0h1m31 0h2m70 0h2m42 0h2M1 60.5h1m3 0h1m10 0h1m11 0h1m25 0h1m22 0h1m4 0h1m10 0h1m9 0h1m32 0h1m11 0h1m9 0h1m48 0h1m41 0h1m32 0h2m7 0h2m14 0h2m10 0h2M0 61.5h1m30 0h1m61 0h1m2 0h2m1 0h1m19 0h1m6 0h1m12 0h1m27 0h2m31 0h1M4 62.5h1m8 0h1m10 0h1m7 0h1m19 0h1m10 0h1m31 0h1m10 0h1m12 0h1m12 0h1m8 0h1m31 0h2m32 0h1m83 0h2m50 0h2m9 0h2M24 63.5h1m28 0h1m5 0h1m3 0h1m34 0h1m50 0h1m8 0h1m33 0h1m11 0h1m61 0h2m25 0h2m8 0h2M5 64.5h1m20 0h1m1 0h2m26 0h1m1 0h1m27 0h1m2 0h1m2 0h1m6 0h1m11 0h1m31 0h2m40 0h1m75 0h1M2 65.5h1m15 0h1m28 0h2m16 0h1m27 0h1m7 0h1m18 0h1m6 0h1m12 0h1m10 0h1m49 0h2m14 0h2m4 0h2m12 0h2m27 0h2m7 0h2m3 0h2m23 0h2m45 0h2M14 66.5h1m48 0h1m30 0h1m9 0h1m27 0h1m75 0h2m30 0h2m20 0h4m75 0h2M54 67.5h1m25 0h1m3 0h1m49 0h1m2 0h1m16 0h2m2 0h1m49 0h2m9 0h1m19 0h1m123 0h2M14 68.5h1m2 0h1m8 0h1m2 0h1m10 0h1m11 0h1m3 0h1m7 0h2m8 0h1m4 0h1m4 0h1m14 0h1m12 0h1m10 0h1m8 0h1m9 0h1m7 0h1m45 0h1m85 0h2M28 69.5h1m28 0h1m8 0h1m19 0h1m7 0h1m5 0h1m12 0h1m72 0h2m48 0h1m7 0h1m21 0h2m7 0h2m36 0h2m8 0h3M25 70.5h1m22 0h1m3 0h1m11 0h1m33 0h1m24 0h1m4 0h1m10 0h1m49 0h1m46 0h1m99 0h2M16 71.5h1m6 0h1m11 0h1m1 0h1m42 0h1m23 0h1m35 0h1m12 0h1m21 0h1m156 0h2m50 0h3M15 72.5h1m12 0h2m15 0h1m8 0h1m1 0h1m10 0h1m18 0h1m15 0h1m34 0h1m43 0h1m16 0h2m11 0h2m3 0h1m2 0h3m23 0h2m41 0h2m44 0h2m48 0h3M4 73.5h1m20 0h1m11 0h1m29 0h1m4 0h1m6 0h1m1 0h1m1 0h1m2 0h1m6 0h2m9 0h1m11 0h3m19 0h1m50 0h1m85 0h2M40 74.5h1m19 0h1m16 0h1m34 0h1m81 0h2m12 0h2m56 0h2m49 0h2m33 0h2M11 75.5h1m6 0h1m3 0h1m19 0h1m58 0h1m4 0h1m4 0h1m12 0h1m15 0h2m6 0h1m23 0h1m41 0h2m23 0h1m37 0h1m17 0h4m12 0h2m64 0h3m4 0h3m5 0h2M3 76.5h1m34 0h1m4 0h1m12 0h1m4 0h1m17 0h1m5 0h1m4 0h1m14 0h1m11 0h1m3 0h1m1 0h1m17 0h1m3 0h1m11 0h1m9 0h2m1 0h1m34 0h2m4 0h2m4 0h2m4 0h2m39 0h2m51 0h2m7 0h2m28 0h2M9 77.5h1m2 0h1m6 0h1m12 0h1m13 0h1m18 0h1m3 0h1m5 0h1m33 0h1m7 0h1m10 0h1m28 0h1m3 0h2m4 0h2m44 0h1m14 0h1m20 0h1m23 0h2m11 0h2M7 78.5h1m7 0h1m7 0h1m29 0h1m27 0h1m11 0h1m22 0h1m3 0h1m6 0h1m1 0h1m107 0h2m22 0h1m31 0h2m2 0h2m12 0h2m25 0h3m8 0h3m42 0h3M16 79.5h1m12 0h1m18 0h1m3 0h1m15 0h1m15 0h1m31 0h1m3 0h1m19 0h1m17 0h2m12 0h1m47 0h2m1 0h2m4 0h2m40 0h2m59 0h2m9 0h2m27 0h3M11 80.5h1m2 0h1m41 0h1m3 0h1m19 0h1m27 0h1m50 0h1m40 0h1m10 0h2m21 0h2m21 0h2m2 0h1m33 0h2m80 0h3M28 81.5h1m6 0h1m9 0h1m3 0h1m36 0h1m3 0h1m43 0h1m107 0h2m38 0h2M17 82.5h1m15 0h1m27 0h1m7 0h1m4 0h1m20 0h1m3 0h1m27 0h1m25 0h1m26 0h1m16 0h1m39 0h2m36 0h2m1 0h2m11 0h2m4 0h2m2 0h2m46 0h3M9 83.5h1m16 0h1m5 0h1m6 0h1m9 0h1m26 0h1m5 0h1m97 0h1m17 0h2m1 0h2m5 0h2m7 0h2m17 0h1m2 0h1m15 0h2m25 0h2m63 0h5M39 84.5h1m106 0h1m56 0h1m25 0h2m13 0h1m32 0h1m39 0h2m35 0h2M4 85.5h1m9 0h1m8 0h1m3 0h1m5 0h1m33 0h2m1 0h1m28 0h1m116 0h3m158 0h3M27 86.5h1m35 0h1m23 0h1m5 0h1m3 0h1m30 0h1m3 0h1m28 0h2m89 0h2m8 0h4m57 0h3M25 87.5h1m19 0h1m3 0h1m57 0h1m56 0h1m19 0h1m116 0h2M24 88.5h1m114 0h1m19 0h1m9 0h1m5 0h2m62 0h1m17 0h2m5 0h2m60 0h2m2 0h2M10 89.5h1m8 0h1m49 0h1m23 0h1m4 0h1m2 0h1m4 0h2m17 0h1m4 0h1m38 0h1m53 0h2m9 0h2m3 0h1m26 0h2m22 0h1m14 0h2m4 0h2m15 0h2M52 90.5h1m5 0h1m3 0h1m1 0h1m2 0h1m6 0h1m44 0h1m1 0h1m3 0h1m6 0h1m13 0h1m5 0h1m3 0h1m4 0h2m4 0h2m88 0h2M70 91.5h1m10 0h1m6 0h1m27 0h1m1 0h1m20 0h1m11 0h1m18 0h1m5 0h1m43 0h2m104 0h2m44 0h3M16 92.5h1m11 0h1m13 0h1m71 0h1m14 0h2m38 0h1m3 0h2m6 0h1m21 0h1m38 0h2m20 0h2M8 93.5h1m21 0h1m8 0h1m2 0h1m27 0h1m40 0h1m22 0h1m14 0h1m109 0h2m16 0h1m21 0h2m64 0h3m9 0h5M15 94.5h1m14 0h1m2 0h1m38 0h1m36 0h1m16 0h1m26 0h1m19 0h2m2 0h2m7 0h2m6 0h2m15 0h2m139 0h2M19 95.5h1m1 0h1m1 0h1m7 0h1m22 0h1m6 0h1m12 0h1m24 0h1m16 0h2m93 0h2m179 0h2M4 96.5h1m34 0h1m16 0h1m2 0h1m2 0h1m11 0h2m3 0h1m5 0h1m8 0h1m8 0h1m24 0h1m10 0h1m23 0h1m7 0h1m1 0h2m10 0h1m7 0h1m14 0h2m68 0h2m21 0h2m27 0h2m9 0h2m11 0h2M24 97.5h1m20 0h1m10 0h1m7 0h1m3 0h1m4 0h1m15 0h1m26 0h2m11 0h1m55 0h1m40 0h2m3 0h1m7 0h1m132 0h3M15 98.5h1m37 0h1m1 0h1m9 0h1m70 0h1m4 0h1m5 0h1m2 0h1m6 0h1m24 0h2m1 0h1m31 0h2m31 0h2m95 0h2m21 0h2M3 99.5h1m13 0h1m21 0h1m11 0h2m14 0h1m15 0h1m9 0h1m7 0h1m6 0h1m4 0h1m43 0h1m24 0h2m29 0h1m5 0h1m19 0h1m5 0h2m17 0h2M39 100.5h1m5 0h1m28 0h1m24 0h1m15 0h1m24 0h1m2 0h2m114 0h2m62 0h3M0 101.5h1m13 0h1m28 0h1m30 0h1m27 0h1m7 0h1m6 0h1m67 0h1m2 0h1m22 0h3m28 0h2m61 0h2m49 0h2M42 102.5h1m2 0h1m6 0h2m4 0h1m16 0h1m1 0h1m3 0h1m17 0h1m76 0h1m26 0h1m28 0h2m6 0h2m17 0h2m25 0h2M67 103.5h1m3 0h2m58 0h1m32 0h1m19 0h1m114 0h2m25 0h2m13 0h2M35 104.5h1m17 0h1m1 0h1m10 0h1m5 0h1m13 0h1m45 0h1m9 0h1m45 0h1m30 0h3m14 0h1m12 0h1m118 0h2m10 0h2M22 105.5h1m33 0h1m21 0h1m57 0h1m49 0h3m8 0h1m39 0h2m1 0h2m20 0h2m18 0h2M4 106.5h1m47 0h2m19 0h1m15 0h1m14 0h1m72 0h2m50 0h3m2 0h2m26 0h2m11 0h2m30 0h2m6 0h2M17 107.5h1m17 0h1m7 0h1m3 0h1m15 0h1m20 0h1m5 0h1m3 0h1m43 0h1m4 0h2m20 0h1m1 0h2m90 0h2m32 0h2m57 0h2m11 0h3M5 108.5h1m21 0h1m70 0h1m14 0h1m14 0h1m19 0h1m33 0h2m9 0h1m10 0h1m39 0h1m23 0h1m4 0h2m22 0h2m88 0h2m5 0h3M10 109.5h1m38 0h1m10 0h1m2 0h1m15 0h1m6 0h2m3 0h1m15 0h1m53 0h2m2 0h1m37 0h1m19 0h2m43 0h1m24 0h2m10 0h2m8 0h2m6 0h3M24 110.5h1m7 0h1m3 0h1m27 0h1m14 0h1m15 0h1m4 0h1m1 0h1m28 0h2m7 0h1m7 0h1m11 0h1m28 0h3m62 0h1m38 0h2m77 0h3m7 0h2M49 111.5h1m4 0h1m19 0h1m10 0h1m11 0h1m11 0h1m10 0h1m4 0h1m4 0h1m12 0h2m1 0h1m46 0h1m11 0h2m1 0h2m16 0h2m117 0h2m37 0h3M0 112.5h1m5 0h1m25 0h1m2 0h1m21 0h1m37 0h1m7 0h1m23 0h1m8 0h1m4 0h1m1 0h2m7 0h1m5 0h1m6 0h1m37 0h1m19 0h2m7 0h2m46 0h2m70 0h2m35 0h3M2 113.5h1m9 0h1m3 0h2m29 0h1m43 0h1m12 0h1m28 0h1m26 0h1m20 0h1m6 0h1m15 0h1m11 0h1m6 0h2m17 0h2m1 0h2m60 0h2m8 0h2m13 0h2m24 0h3m23 0h3M19 114.5h2m17 0h1m2 0h1m49 0h1m20 0h1m41 0h3m22 0h1m57 0h2m27 0h3m15 0h2m40 0h2M1 115.5h1m3 0h1m1 0h1m8 0h1m1 0h1m1 0h1m69 0h1m8 0h1m39 0h1m67 0h1m47 0h2m29 0h4m57 0h2M1 116.5h1m32 0h1m20 0h1m58 0h1m2 0h1m34 0h1m44 0h1m41 0h1m7 0h2m17 0h2m23 0h2m24 0h2M59 117.5h1m4 0h1m2 0h1m48 0h1m10 0h1m2 0h1m10 0h1m66 0h2m10 0h2m27 0h1m32 0h2m31 0h2m60 0h3M9 118.5h1m2 0h1m8 0h1m113 0h1m17 0h1m19 0h2m25 0h1m2 0h1m28 0h2m67 0h2m14 0h2M6 119.5h1m37 0h1m1 0h1m12 0h1m32 0h1m6 0h1m4 0h1m5 0h1m58 0h1m12 0h2m78 0h2m4 0h1m4 0h2m48 0h3M2 120.5h1m3 0h1m14 0h1m162 0h1m20 0h2m7 0h2m9 0h1m56 0h2m52 0h2m14 0h2M13 121.5h1m112 0h1m5 0h1m48 0h1m4 0h2m5 0h1m14 0h2m13 0h2m15 0h2m53 0h2M14 122.5h1m34 0h1m25 0h1m16 0h1m10 0h1m1 0h1m2 0h1m3 0h1m21 0h1m35 0h1m1 0h1m35 0h2M24 123.5h1m22 0h1m17 0h1m12 0h1m57 0h1m3 0h1m70 0h2m9 0h1m3 0h2m14 0h2m17 0h1m72 0h2M36 124.5h1m29 0h1m25 0h1m25 0h1m34 0h1m17 0h1m92 0h2m99 0h3m4 0h3M16 125.5h1m24 0h1m23 0h1m21 0h1m102 0h2m36 0h1m48 0h1m97 0h2M90 126.5h1m1 0h1m5 0h2m6 0h1m1 0h1m5 0h1m26 0h1m7 0h1m38 0h1m167 0h2M64 127.5h1m23 0h1m47 0h1m12 0h1m1 0h1m19 0h1m20 0h1m33 0h2m16 0h1m149 0h3M17 128.5h3m1 0h1m17 0h1m62 0h1m8 0h1m10 0h1m42 0h1m13 0h1m23 0h1m16 0h2m46 0h1m11 0h2m83 0h3M13 129.5h1m51 0h1m1 0h1m13 0h1m10 0h1m25 0h1m2 0h1m10 0h1m3 0h1m36 0h3m8 0h2m11 0h1m71 0h2m94 0h3M59 130.5h1m22 0h1m3 0h1m1 0h1m5 0h1m4 0h1m38 0h2m17 0h1m18 0h1m11 0h1m36 0h1m2 0h1m61 0h1m41 0h2m41 0h2M4 131.5h1m7 0h2m12 0h2m14 0h1m7 0h1m7 0h1m33 0h1m20 0h1m14 0h1m2 0h1m18 0h1m10 0h2m182 0h2m2 0h3M17 132.5h1m1 0h1m9 0h1m3 0h1m4 0h1m55 0h1m25 0h1m19 0h1m30 0h1m13 0h1m2 0h1m21 0h1m6 0h2m4 0h2m50 0h2m86 0h2M29 133.5h1m1 0h1m17 0h1m26 0h1m6 0h1m9 0h1m2 0h1m4 0h1m1 0h1m30 0h1m4 0h1m1 0h1m19 0h2m2 0h1m41 0h1m26 0h2m4 0h2m67 0h2m47 0h3m21 0h2M3 134.5h1m7 0h1m25 0h1m42 0h1m1 0h1m4 0h1m6 0h1m8 0h1m5 0h1m1 0h1m22 0h1m5 0h2m43 0h1m83 0h2m101 0h3M5 135.5h1m8 0h1m11 0h1m9 0h1m30 0h2m47 0h1m41 0h1m1 0h1m6 0h2m24 0h1m31 0h1m11 0h2m15 0h1m6 0h1m6 0h1m28 0h4m12 0h2m48 0h2M2 136.5h1m4 0h1m4 0h1m12 0h1m8 0h1m48 0h1m1 0h1m6 0h1m20 0h1m5 0h1m2 0h1m1 0h1m22 0h1m2 0h1m8 0h1m53 0h1m25 0h1m33 0h2m57 0h2m22 0h2m12 0h2M7 137.5h1m26 0h1m2 0h1m12 0h1m35 0h1m4 0h1m2 0h2m52 0h2m54 0h1m9 0h2m28 0h1m39 0h2M19 138.5h1m23 0h1m23 0h1m43 0h1m22 0h1m26 0h2m2 0h1m31 0h1m7 0h2m18 0h1m81 0h2m45 0h2m2 0h3M10 139.5h2m3 0h1m6 0h1m6 0h1m2 0h1m2 0h1m9 0h1m17 0h1m24 0h1m4 0h1m34 0h1m8 0h1m22 0h1m24 0h1m11 0h1m9 0h1m29 0h2m13 0h2m8 0h2M9 140.5h1m57 0h1m5 0h1m17 0h2m5 0h1m33 0h1m3 0h1m5 0h3m55 0h4m1 0h3m56 0h2m11 0h1m94 0h3M44 141.5h1m3 0h1m8 0h1m8 0h1m35 0h1m27 0h1m14 0h1m2 0h1m8 0h1m5 0h1m208 0h3M16 142.5h1m6 0h1m39 0h1m5 0h2m16 0h1m6 0h1m13 0h1m36 0h2m18 0h1m4 0h1m19 0h2m22 0h2m43 0h2m50 0h2m10 0h3m19 0h2m5 0h4m14 0h2M17 143.5h1m4 0h1m22 0h1m7 0h1m39 0h1m34 0h1m1 0h1m9 0h1m6 0h1m32 0h1m36 0h2m7 0h2m121 0h3M14 144.5h2m2 0h1m17 0h3m21 0h1m2 0h1m20 0h1m50 0h1m12 0h1m68 0h2m128 0h2M23 145.5h1m30 0h1m9 0h1m1 0h1m1 0h1m4 0h1m9 0h1m5 0h1m18 0h1m10 0h1m3 0h1m6 0h1m2 0h1m8 0h1m33 0h1m120 0h2m16 0h2M0 146.5h1m61 0h1m65 0h1m2 0h1m69 0h2m7 0h1m71 0h2m29 0h2m55 0h2m10 0h2M5 147.5h1m8 0h1m24 0h1m3 0h1m3 0h1m1 0h1m25 0h1m3 0h1m40 0h1m105 0h2m49 0h1m15 0h2m26 0h2M43 148.5h1m40 0h2m24 0h1m74 0h1m18 0h1m52 0h2M3 149.5h1m28 0h1m17 0h1m1 0h1m4 0h1m91 0h1m14 0h1m11 0h1m2 0h1m2 0h2m2 0h2m20 0h2m35 0h2m2 0h3m7 0h2m104 0h3M1 150.5h1m29 0h1m5 0h1m40 0h1m46 0h1m8 0h1m31 0h1m43 0h1m5 0h1m5 0h1m43 0h2M25 151.5h1m32 0h1m11 0h1m1 0h1m23 0h1m9 0h1m56 0h1m21 0h1m102 0h2m1 0h2m2 0h2m12 0h2m8 0h2M2 152.5h1m19 0h1m15 0h1m1 0h1m10 0h1m10 0h1m2 0h1m3 0h1m11 0h1m1 0h1m18 0h1m8 0h1m12 0h1m1 0h1m4 0h1m9 0h1m7 0h1m30 0h1m45 0h2m8 0h1m76 0h2M0 153.5h1m5 0h1m6 0h1m3 0h1m7 0h3m5 0h1m31 0h1m14 0h1m26 0h1m16 0h1m28 0h1m2 0h1m22 0h1m24 0h1m9 0h2m6 0h1m32 0h2m66 0h3M18 154.5h1m4 0h1m40 0h1m24 0h2m65 0h1m16 0h2m84 0h2m1 0h2m43 0h2m23 0h2M14 155.5h1m4 0h1m68 0h1m10 0h1m5 0h1m9 0h1m25 0h1m38 0h1m32 0h1m11 0h1m11 0h2m30 0h2M26 156.5h1m3 0h1m29 0h1m7 0h1m2 0h1m12 0h1m27 0h1m8 0h1m30 0h1m48 0h2m2 0h2m15 0h1m55 0h2m4 0h2m42 0h2m26 0h2M7 157.5h1m1 0h2m17 0h1m21 0h1m12 0h1m21 0h1m6 0h1m11 0h1m10 0h1m7 0h1m18 0h1m61 0h1M23 158.5h1m3 0h1m13 0h1m19 0h1m1 0h1m11 0h1m21 0h2m5 0h1m3 0h1m5 0h1m2 0h1m2 0h1m2 0h1m15 0h1m26 0h1m13 0h2m19 0h2m5 0h2m29 0h1M2 159.5h1m2 0h1m26 0h1m11 0h1m9 0h2m32 0h1m7 0h1m76 0h2m7 0h2m12 0h1m23 0h2m83 0h4m32 0h2m22 0h3m7 0h2M5 160.5h1m10 0h1m7 0h1m62 0h1m3 0h1m15 0h1m12 0h1m13 0h1m6 0h1m1 0h2m4 0h1m15 0h2m36 0h1m6 0h1m39 0h2m10 0h2m35 0h2m74 0h2m10 0h2M7 161.5h1m2 0h2m17 0h1m38 0h1m11 0h1m12 0h1m57 0h1m4 0h1m36 0h1m3 0h1M5 162.5h1m2 0h1m3 0h2m1 0h1m1 0h1m40 0h1m4 0h1m7 0h1m11 0h1m6 0h2m11 0h1m26 0h1m20 0h1m41 0h1m72 0h2m9 0h1m43 0h2M15 163.5h2m6 0h1m20 0h1m43 0h1m4 0h1m17 0h1m10 0h1m48 0h1m12 0h1m15 0h1m6 0h1m44 0h2m95 0h3M14 164.5h1m14 0h1m31 0h1m2 0h1m11 0h1m107 0h1m5 0h2m42 0h2m59 0h2m66 0h2M22 165.5h1m34 0h1m8 0h1m6 0h1m28 0h1m11 0h1m25 0h2m5 0h1m53 0h2m39 0h2m57 0h2m23 0h2m56 0h3M36 166.5h1m33 0h1m3 0h1m9 0h1m26 0h1m7 0h1m50 0h1m13 0h1m11 0h1m45 0h2m86 0h2m36 0h2M7 167.5h1m2 0h1m23 0h1m12 0h1m3 0h1m5 0h1m51 0h1m6 0h1m8 0h1m4 0h1m32 0h1m29 0h1m9 0h1m38 0h2m10 0h1m2 0h2m16 0h2m30 0h2m45 0h2m28 0h3M45 168.5h1m9 0h1m3 0h1m23 0h1m8 0h1m3 0h1m9 0h1m11 0h1m30 0h1m40 0h2m77 0h2m9 0h2m4 0h2m46 0h2m11 0h2m43 0h2M0 169.5h1m14 0h1m2 0h1m15 0h2m51 0h1m1 0h1m8 0h1m70 0h1m5 0h1m3 0h1m43 0h2m6 0h1m73 0h2m54 0h2m2 0h3m24 0h2M23 170.5h1m13 0h2m34 0h2m5 0h1m4 0h1m6 0h1m30 0h1m12 0h1m2 0h1m18 0h1m6 0h2m2 0h1m23 0h1m38 0h2m8 0h2m75 0h4m66 0h3M1 171.5h1m28 0h1m16 0h1m4 0h1m1 0h1m58 0h1m8 0h1m7 0h2m10 0h1m6 0h1m22 0h1m7 0h1m36 0h2m4 0h2m3 0h1m44 0h2m20 0h2m8 0h4m17 0h4M22 172.5h1m17 0h1m94 0h1m18 0h2m3 0h1m15 0h1m21 0h1m21 0h1m35 0h2m62 0h2m22 0h2M8 173.5h1m3 0h1m27 0h1m9 0h1m35 0h1m48 0h2m4 0h1m5 0h1m6 0h2m3 0h1m26 0h2m23 0h2m21 0h2m57 0h2m28 0h3m26 0h2m23 0h3M51 174.5h1m21 0h1m8 0h1m12 0h1m8 0h1m3 0h1m2 0h1m4 0h1m5 0h1m1 0h1m5 0h1m15 0h1m20 0h2m6 0h1m216 0h2M3 175.5h1m8 0h1m57 0h1m35 0h1m72 0h1m20 0h1m46 0h2m52 0h2m23 0h2m35 0h2M18 176.5h1m39 0h1m24 0h1m38 0h1m6 0h1m2 0h1m4 0h1m7 0h1m18 0h1m12 0h2m3 0h2m20 0h1M6 177.5h1m9 0h1m22 0h1m19 0h1m23 0h1m51 0h1m7 0h2m6 0h1m30 0h2m13 0h3m64 0h2m14 0h2m21 0h2M6 178.5h1m6 0h1m15 0h1m17 0h1m7 0h1m15 0h1m25 0h1m2 0h1m21 0h1m44 0h2m11 0h1m7 0h1m24 0h1m18 0h2m23 0h2m52 0h2M3 179.5h1m31 0h1m1 0h1m11 0h1m11 0h1m24 0h1m7 0h1m71 0h1m10 0h2m31 0h1m11 0h1m21 0h1m16 0h1m2 0h2m62 0h2m45 0h5M5 180.5h1m47 0h1m6 0h1m3 0h1m9 0h1m9 0h1m55 0h1m39 0h1m27 0h2m27 0h2m10 0h1m40 0h1m54 0h2M44 181.5h1m19 0h1m9 0h1m5 0h1m99 0h1m1 0h2m73 0h2m84 0h2M36 182.5h1m7 0h1m33 0h1m9 0h1m13 0h1m25 0h1m43 0h1m13 0h2m37 0h1m3 0h2m1 0h2m65 0h2M8 183.5h1m3 0h1m5 0h1m12 0h1m14 0h1m29 0h1m53 0h1m10 0h1m11 0h1m16 0h1m54 0h1m29 0h2m2 0h2m95 0h2M29 184.5h1m24 0h2m34 0h1m7 0h1m6 0h1m1 0h1m46 0h2m55 0h2m37 0h2m106 0h3m23 0h5M24 185.5h1m12 0h1m5 0h1m1 0h1m7 0h2m8 0h1m6 0h1m7 0h1m2 0h1m50 0h1m23 0h1m68 0h1m38 0h2m51 0h2M1 186.5h1m12 0h1m37 0h1m16 0h1m10 0h1m43 0h1m11 0h1m27 0h1m6 0h2m8 0h1m6 0h1m22 0h2m13 0h2m43 0h2m2 0h3m12 0h1m37 0h2m8 0h3m29 0h2M2 187.5h1m22 0h1m12 0h1m25 0h1m15 0h1m16 0h1m39 0h2m22 0h2m91 0h1m16 0h2m34 0h2m10 0h2M84 188.5h1m86 0h1m17 0h1m121 0h2m15 0h2m26 0h5M15 189.5h1m10 0h1m26 0h1m3 0h1m6 0h1m36 0h1m9 0h1m1 0h1m15 0h1m5 0h1m2 0h1m13 0h1m36 0h1m57 0h2m5 0h1m9 0h2m16 0h2m65 0h5M9 190.5h1m17 0h1m17 0h1m30 0h1m10 0h1m22 0h1m7 0h1m81 0h1m68 0h2m9 0h2m54 0h2m14 0h2M10 191.5h1m14 0h1m33 0h1m5 0h1m7 0h1m21 0h1m15 0h1m10 0h1m66 0h1m2 0h1m5 0h2m14 0h2m68 0h2m4 0h1m14 0h2M25 192.5h1m31 0h1m33 0h1m24 0h1m20 0h1m26 0h1m63 0h1m7 0h1m40 0h1m15 0h2m24 0h2m2 0h3M0 193.5h1m115 0h1m16 0h1m47 0h1m19 0h2m22 0h1m2 0h1m2 0h1m37 0h2m81 0h2m9 0h2M35 194.5h1m65 0h1m44 0h1m9 0h1m6 0h1m22 0h2m37 0h1m14 0h2m48 0h1m16 0h2M11 195.5h1m10 0h1m32 0h1m3 0h1m4 0h1m15 0h1m67 0h1m43 0h1m3 0h1m14 0h2m13 0h2m19 0h2m5 0h1m64 0h2m11 0h2M27 196.5h1m26 0h1m15 0h1m4 0h1m2 0h1m14 0h1m14 0h1m18 0h1m1 0h2m1 0h1m6 0h1m36 0h1m34 0h3m26 0h2m27 0h2m30 0h2m23 0h2M22 197.5h1m21 0h1m23 0h1m10 0h1m2 0h1m35 0h1m123 0h2m24 0h1m22 0h2m33 0h2M17 198.5h1m21 0h1m35 0h1m11 0h1m27 0h1m50 0h1m59 0h2m154 0h2M9 199.5h2m13 0h1m7 0h1m24 0h1m2 0h1m9 0h1m82 0h1m21 0h1m21 0h1m24 0h1m31 0h1m18 0h2m9 0h2M48 200.5h1m6 0h1m1 0h1m10 0h1m31 0h1m28 0h1m2 0h1m13 0h1m47 0h2m14 0h1m23 0h2m3 0h1m14 0h1m11 0h3m92 0h2M36 201.5h1m2 0h1m18 0h2m2 0h1m2 0h1m18 0h1m43 0h1m2 0h1m6 0h1m24 0h1m1 0h1m47 0h1m26 0h2m10 0h2m17 0h2m11 0h2m13 0h2m37 0h3m39 0h2m10 0h2M2 202.5h1m9 0h1m9 0h2m2 0h2m43 0h1m48 0h1m6 0h1m1 0h1m39 0h1m31 0h2m22 0h1m29 0h2m12 0h2m2 0h2m7 0h4m17 0h2m18 0h3m68 0h3M1 203.5h1m1 0h1m12 0h1m32 0h2m17 0h1m4 0h1m2 0h2m14 0h1m4 0h1m1 0h1m22 0h1m7 0h2m39 0h2m49 0h1m11 0h2m1 0h2m38 0h1m15 0h2m89 0h3M8 204.5h1m48 0h1m22 0h1m2 0h1m4 0h1m3 0h1m71 0h1m29 0h2m46 0h2m75 0h2M6 205.5h1m13 0h1m9 0h1m47 0h1m15 0h1m33 0h1m23 0h1m8 0h2m57 0h2m69 0h2M99 206.5h1m19 0h1m41 0h2m25 0h1m15 0h1m127 0h2M16 207.5h1m59 0h1m11 0h1m21 0h1m6 0h1m31 0h1m3 0h1m2 0h1m35 0h1m29 0h1m16 0h1m5 0h4m72 0h2m33 0h2M18 208.5h1m9 0h1m11 0h1m6 0h1m25 0h1m23 0h1m45 0h2m31 0h1m151 0h2m42 0h3M6 209.5h2m22 0h2m29 0h1m53 0h1m13 0h1m6 0h2m5 0h2m8 0h1m32 0h2m6 0h2m4 0h1m94 0h2m48 0h2M52 210.5h1m14 0h1m15 0h1m19 0h1m1 0h1m5 0h1m5 0h1m27 0h1m47 0h1m10 0h1m50 0h4m73 0h2M16 211.5h1m32 0h1m13 0h1m30 0h1m1 0h1m50 0h1m38 0h2m5 0h1m3 0h1m117 0h2M2 212.5h1m22 0h1m14 0h1m21 0h1m22 0h1m2 0h1m15 0h1m47 0h1m26 0h1m27 0h1m31 0h1m31 0h2M3 213.5h1m16 0h1m34 0h1m30 0h1m24 0h1m14 0h1m27 0h2m1 0h1m1 0h1m34 0h2m53 0h1m2 0h2m28 0h2m31 0h2m44 0h2M40 214.5h1m33 0h2m10 0h1m14 0h2m13 0h1m15 0h1m5 0h2m35 0h1m8 0h1m9 0h2m5 0h2m23 0h2m40 0h1m13 0h2M25 215.5h1m7 0h1m9 0h1m2 0h1m2 0h1m2 0h1m8 0h1m118 0h1m27 0h2m35 0h2m68 0h2m11 0h2m59 0h3M9 216.5h1m6 0h1m10 0h1m21 0h1m8 0h1m28 0h1m12 0h1m72 0h2m67 0h3m32 0h3m11 0h2m63 0h2m19 0h3M1 217.5h1m20 0h1m20 0h1m29 0h1m4 0h1m21 0h1m10 0h1m17 0h1m24 0h2m10 0h1m34 0h2m13 0h1m32 0h1m55 0h2m12 0h2M3 218.5h1m20 0h1m16 0h1m2 0h1m12 0h2m16 0h1m1 0h1m1 0h1m15 0h1m3 0h1m4 0h1m51 0h2m5 0h2m1 0h1m34 0h2m4 0h1m69 0h1m54 0h2M13 219.5h1m16 0h1m28 0h1m2 0h1m10 0h1m18 0h1m31 0h1m9 0h1m5 0h1m8 0h1m14 0h1m43 0h2m6 0h1m27 0h1m62 0h2m17 0h2m59 0h2M6 220.5h1m5 0h1m86 0h1m5 0h1m16 0h1m44 0h2m2 0h1m13 0h1m50 0h1m34 0h2M18 221.5h1m10 0h1m22 0h1m19 0h1m19 0h1m7 0h1m1 0h1m35 0h1m4 0h2m6 0h2m18 0h1m9 0h1m44 0h2m56 0h2m17 0h2m12 0h2M20 222.5h1m9 0h1m3 0h1m6 0h1m44 0h1m3 0h1m7 0h1m27 0h1m4 0h1m3 0h1m15 0h1m45 0h1m47 0h2m10 0h2m10 0h2m50 0h2m52 0h2M24 223.5h1m15 0h1m12 0h1m105 0h1m74 0h2m55 0h2m18 0h2m62 0h2M16 224.5h2m4 0h1m28 0h2m22 0h1m1 0h1m12 0h1m12 0h1m22 0h1m14 0h1m10 0h1m13 0h1m40 0h1m9 0h2m7 0h2m45 0h2m2 0h1m116 0h3M13 225.5h1m2 0h1m4 0h1m14 0h1m8 0h1m48 0h1m1 0h1m15 0h1m11 0h1m21 0h1m35 0h2m17 0h3m27 0h1m20 0h2m5 0h2m42 0h2M18 226.5h1m25 0h1m6 0h1m13 0h1m19 0h1m16 0h1m3 0h1m4 0h1m3 0h1m13 0h1m80 0h1m18 0h2m9 0h2m51 0h2m33 0h2m28 0h3M55 227.5h1m30 0h1m31 0h1m3 0h1m1 0h1m8 0h1m38 0h1m15 0h1m7 0h1m81 0h2m31 0h2M2 228.5h1m25 0h1m40 0h1m13 0h1m13 0h1m95 0h1m61 0h2m11 0h1m2 0h2m5 0h2M2 229.5h1m18 0h1m3 0h1m10 0h2m5 0h1m1 0h1m11 0h1m7 0h1m3 0h1m7 0h1m58 0h1m10 0h1m2 0h1m8 0h1m33 0h1m2 0h1m1 0h2m4 0h1m6 0h2m10 0h2m22 0h3m36 0h4m53 0h2m13 0h3m33 0h3M12 230.5h1m12 0h1m17 0h1m45 0h2m1 0h1m58 0h1m12 0h1m12 0h2m7 0h2m25 0h3m15 0h1m29 0h1m2 0h2m68 0h2m11 0h2m26 0h2M5 231.5h1m72 0h1m11 0h1m10 0h1m24 0h1m8 0h1m28 0h1m24 0h1m29 0h1m14 0h2m9 0h2m31 0h2m27 0h2m23 0h2m29 0h2M30 232.5h1m5 0h1m13 0h1m11 0h1m28 0h1m12 0h1m6 0h1m2 0h1m38 0h1m78 0h2m11 0h2m58 0h2m40 0h2m7 0h2M5 233.5h2m13 0h1m12 0h1m5 0h2m5 0h1m33 0h1m4 0h1m28 0h1m10 0h1m5 0h1m161 0h2m54 0h5M0 234.5h1m32 0h1m13 0h1m6 0h1m2 0h1m37 0h1m15 0h1m44 0h1m68 0h1m31 0h2m88 0h2M2 235.5h1m5 0h1m23 0h1m10 0h1m13 0h1m4 0h1m52 0h1m4 0h1m1 0h1m14 0h1m19 0h1m7 0h1m9 0h1m47 0h2m46 0h2m26 0h2m29 0h2M22 236.5h1m12 0h1m49 0h1m13 0h1m17 0h1m1 0h1m19 0h1m49 0h1m2 0h1m27 0h2m9 0h1m20 0h2m3 0h2m10 0h2m20 0h2m70 0h2M3 237.5h1m6 0h2m2 0h1m17 0h1m2 0h1m10 0h1m53 0h1m18 0h1m28 0h1m15 0h1m15 0h1m20 0h2m39 0h2m25 0h2m28 0h2m27 0h2m31 0h2M20 238.5h1m6 0h1m12 0h1m36 0h2m24 0h1m21 0h1m1 0h1m1 0h1m26 0h1m3 0h3m63 0h2m19 0h2m33 0h2m4 0h2m42 0h2m55 0h3M6 239.5h1m13 0h1m14 0h1m53 0h1m4 0h1m4 0h1m15 0h1m16 0h2m39 0h2m41 0h1m74 0h2m61 0h2m33 0h5M23 240.5h1m4 0h1m6 0h1m7 0h1m1 0h1m65 0h1m1 0h1m2 0h1m37 0h2m11 0h2m11 0h1m32 0h1m20 0h3m8 0h2m50 0h2m18 0h4m13 0h4m23 0h2M5 241.5h1m13 0h1m14 0h1m13 0h1m4 0h1m34 0h1m31 0h1m2 0h1m16 0h1m40 0h1m7 0h1m8 0h2m42 0h2m3 0h2m29 0h2m19 0h2m22 0h3m4 0h2M22 242.5h1m31 0h1m11 0h1m30 0h1m6 0h1m22 0h1m13 0h1m28 0h1m27 0h2m50 0h2m78 0h2m6 0h3m2 0h2M4 243.5h1m12 0h2m35 0h1m21 0h1m22 0h1m20 0h1m46 0h2m60 0h2m1 0h2M19 244.5h1m54 0h1m9 0h1m10 0h1m31 0h1m1 0h1m2 0h1m23 0h1m19 0h1m21 0h2m5 0h2m3 0h1m6 0h2m7 0h2m16 0h1m26 0h2m2 0h2m1 0h2m11 0h2m20 0h2m41 0h2M4 245.5h1m1 0h1m11 0h1m6 0h1m62 0h1m15 0h1m5 0h1m4 0h1m60 0h1m13 0h2m21 0h1m38 0h2m14 0h1M21 246.5h1m1 0h1m3 0h1m20 0h1m38 0h1m10 0h1m13 0h1m3 0h1m22 0h1m39 0h1m52 0h2m65 0h2m86 0h2M12 247.5h1m6 0h1m20 0h1m8 0h1m16 0h1m16 0h1m66 0h1m1 0h1m31 0h1m29 0h2m142 0h3M7 248.5h1m2 0h1m5 0h1m7 0h1m10 0h1m3 0h1m40 0h1m18 0h1m1 0h1m1 0h1m16 0h1m45 0h1m97 0h2m18 0h2m5 0h2m4 0h2M30 249.5h1m15 0h1m25 0h1m41 0h1m31 0h1m6 0h1m3 0h1m17 0h1m3 0h1m9 0h3m42 0h2m8 0h1m19 0h2m22 0h2m31 0h2m22 0h2m14 0h2m2 0h3M23 250.5h1m19 0h1m18 0h1m8 0h1m2 0h1m2 0h1m2 0h1m3 0h1m10 0h1m102 0h2m44 0h1m19 0h2m12 0h2m6 0h2m2 0h1m35 0h2m64 0h2M16 251.5h1m2 0h1m11 0h1m15 0h2m37 0h1m10 0h1m30 0h1m5 0h1m16 0h1m11 0h1m3 0h2m108 0h1m15 0h2m18 0h2m34 0h3M41 252.5h1m8 0h1m15 0h1m38 0h1m16 0h1m1 0h1m18 0h2m47 0h1m20 0h1m52 0h2m37 0h2m56 0h2m3 0h2M41 253.5h1m28 0h1m7 0h1m94 0h2m79 0h1m13 0h1m21 0h1M38 254.5h1m8 0h1m59 0h1m62 0h1m11 0h2m35 0h1m24 0h1M0 255.5h1m3 0h1m14 0h1m2 0h1m56 0h1m5 0h1m12 0h1m3 0h1m16 0h1m46 0h1m36 0h1m13 0h2m9 0h1m15 0h1m46 0h2m99 0h2M39 256.5h1m40 0h1m21 0h1m4 0h1m5 0h1m6 0h1m9 0h1m39 0h1m61 0h2m44 0h4m31 0h2M15 257.5h1m17 0h1m10 0h1m5 0h1m3 0h1m49 0h1m2 0h1m1 0h1m9 0h1m76 0h1m40 0h2m10 0h1M16 258.5h1m5 0h1m8 0h1m27 0h1m12 0h1m4 0h1m40 0h1m44 0h1m12 0h1m3 0h1m11 0h1m10 0h1m25 0h2m127 0h3M21 259.5h1m41 0h1m8 0h1m2 0h1m37 0h1m17 0h1m7 0h1m11 0h1m6 0h2m3 0h1m44 0h2m7 0h2m33 0h2m61 0h2m70 0h2M3 260.5h1m18 0h1m1 0h1m2 0h1m19 0h1m23 0h1m14 0h1m59 0h1m78 0h1m2 0h1m37 0h2M22 261.5h1m13 0h1m8 0h1m3 0h1m7 0h1m12 0h1m2 0h1m4 0h1m51 0h1m25 0h1m32 0h1m2 0h1m5 0h2m73 0h2m107 0h2M18 262.5h1m2 0h1m41 0h1m60 0h1m12 0h1m3 0h2m5 0h1m18 0h2m1 0h2m9 0h1m10 0h1m12 0h2m84 0h2m2 0h2m6 0h2m6 0h2m8 0h2M5 263.5h1m1 0h1m21 0h1m7 0h1m40 0h1m7 0h1m11 0h1m1 0h1m22 0h1m2 0h1m7 0h1m79 0h2m6 0h1m9 0h2m44 0h2m81 0h2M61 264.5h1m39 0h1m4 0h1m12 0h1m7 0h2m28 0h1m15 0h2m15 0h2m15 0h1m111 0h2M28 265.5h1m15 0h1m3 0h1m23 0h1m15 0h1m46 0h1m53 0h1m3 0h3m43 0h1m14 0h3m16 0h2m72 0h2m12 0h2m7 0h2m20 0h2M21 266.5h1m1 0h2m17 0h1m40 0h1m36 0h1m30 0h1m14 0h1m25 0h1m5 0h2m3 0h1m43 0h2m135 0h3M30 267.5h1m17 0h1m9 0h1m6 0h1m1 0h1m2 0h1m41 0h1m8 0h2m24 0h1m23 0h1m20 0h1m3 0h1m39 0h1m7 0h1m46 0h2m37 0h2m52 0h3M11 268.5h1m1 0h1m20 0h1m11 0h1m23 0h1m56 0h1m3 0h1m3 0h1m56 0h1m54 0h2m29 0h2m21 0h2m58 0h2M5 269.5h1m42 0h1m20 0h1m23 0h1m48 0h1m5 0h1m87 0h1m157 0h3M3 270.5h1m14 0h1m38 0h1m8 0h1m9 0h1m3 0h1m33 0h1m32 0h1m11 0h1m12 0h1m17 0h2m8 0h1m12 0h1m52 0h2m22 0h1m91 0h2M13 271.5h1m40 0h1m4 0h1m4 0h1m19 0h1m21 0h1m14 0h1m19 0h1m11 0h1m4 0h1m14 0h2m59 0h2m4 0h2m8 0h2m71 0h3m35 0h2M49 272.5h2m17 0h1m4 0h1m22 0h1m44 0h1m62 0h1m18 0h2m37 0h2m118 0h2m3 0h2M22 273.5h1m7 0h1m18 0h1m33 0h1m13 0h1m36 0h1m3 0h1m27 0h1m13 0h1m101 0h2m68 0h2M18 274.5h1m8 0h2m7 0h1m9 0h1m5 0h1m6 0h1m14 0h2m5 0h1m1 0h1m53 0h1m8 0h1m23 0h1m29 0h1m15 0h1m98 0h2m24 0h2m9 0h2M71 275.5h1m33 0h1m36 0h1m6 0h1m25 0h1m49 0h1m24 0h2M15 276.5h1m8 0h1m9 0h1m20 0h1m53 0h1m8 0h1m27 0h1m3 0h1m3 0h2m47 0h1m22 0h2m4 0h2m25 0h2m36 0h2m46 0h2m7 0h2M8 277.5h1m49 0h1m16 0h1m9 0h1m2 0h1m41 0h1m28 0h1m20 0h2m18 0h1m9 0h1m75 0h2m3 0h2M14 278.5h1m41 0h1m12 0h2m13 0h1m33 0h1m7 0h1m20 0h1m13 0h2m26 0h1m44 0h2m9 0h2m116 0h2M9 279.5h2m24 0h1m22 0h1m1 0h1m20 0h1m3 0h1m6 0h1m34 0h1m29 0h1m6 0h1m6 0h1m14 0h2m2 0h2m11 0h1m36 0h2m49 0h2M19 280.5h1m3 0h1m41 0h1m5 0h1m32 0h1m2 0h1m2 0h1m59 0h1m10 0h1m55 0h2m43 0h2m23 0h2M6 281.5h2m25 0h1m2 0h1m1 0h1m25 0h1m10 0h1m16 0h1m30 0h1m15 0h1m6 0h1m61 0h2m10 0h2m25 0h2m35 0h2m19 0h2m4 0h2m48 0h2M28 282.5h3m29 0h1m59 0h1m15 0h1m12 0h1m1 0h1m15 0h2m27 0h1m43 0h2m2 0h1m14 0h2m27 0h2m21 0h4M6 283.5h1m8 0h1m4 0h1m13 0h1m21 0h1m2 0h1m12 0h1m11 0h1m7 0h1m33 0h1m65 0h1m20 0h1m18 0h2m6 0h2m10 0h2m30 0h2m4 0h1M12 284.5h1m33 0h1m7 0h1m13 0h1m18 0h1m40 0h1m16 0h1m18 0h1m45 0h1m9 0h2m1 0h2m55 0h2m25 0h2m17 0h2m2 0h2m43 0h2M5 285.5h1m1 0h1m16 0h1m41 0h1m79 0h1m6 0h1m21 0h1m4 0h1m26 0h1m23 0h1m27 0h2m40 0h2m16 0h2M6 286.5h1m2 0h1m19 0h1m4 0h1m19 0h1m12 0h1m3 0h1m11 0h1m37 0h1m28 0h1m16 0h2m8 0h2m66 0h2m2 0h1m4 0h1m92 0h2m9 0h3m28 0h3M17 287.5h1m28 0h2m1 0h2m7 0h1m26 0h1m20 0h1m11 0h1m8 0h1m64 0h1m75 0h1M5 288.5h1m17 0h1m9 0h1m40 0h2m19 0h1m33 0h1m11 0h1m17 0h1m34 0h2m12 0h2m35 0h2m33 0h2m83 0h3M25 289.5h1m27 0h1m23 0h1m12 0h1m2 0h1m19 0h1m27 0h1m40 0h2m44 0h1m51 0h2m46 0h2m33 0h2m12 0h3M5 290.5h1m24 0h1m52 0h1m62 0h1m33 0h1m23 0h1m45 0h2m125 0h5M32 291.5h1m22 0h1m21 0h1m24 0h1m10 0h1m9 0h1m55 0h1m21 0h2m31 0h2m14 0h2M2 292.5h1m25 0h1m14 0h1m19 0h1m7 0h1m8 0h1m36 0h1m8 0h1m25 0h1m51 0h1m15 0h2m1 0h2m20 0h2m19 0h2m39 0h2M14 293.5h1m6 0h1m39 0h1m29 0h1m28 0h1m8 0h1m9 0h1m65 0h2m12 0h1m22 0h2M2 294.5h1m4 0h1m39 0h1m25 0h1m2 0h1m11 0h1m38 0h1m14 0h1m20 0h1m5 0h1m14 0h1m65 0h2m28 0h2M3 295.5h1m1 0h1m21 0h1m6 0h1m4 0h1m15 0h1m29 0h1m42 0h1m6 0h1m39 0h1m1 0h2m5 0h1m65 0h2m14 0h2m53 0h2m9 0h2M13 296.5h1m76 0h1m24 0h1m5 0h1m89 0h2m75 0h2m33 0h3m66 0h2M39 297.5h1m22 0h1m1 0h1m18 0h1m2 0h1m2 0h1m46 0h1m15 0h1m24 0h2m10 0h1m21 0h2m26 0h1m101 0h2m2 0h4M53 298.5h1m3 0h1m1 0h1m48 0h1m5 0h1m5 0h1m1 0h1m12 0h1m16 0h1m78 0h1m75 0h2M5 299.5h1m29 0h1m14 0h1m10 0h1m11 0h1m19 0h1m3 0h1m6 0h1m24 0h1m70 0h1m137 0h3M44 300.5h1m35 0h1m3 0h1m26 0h1m29 0h1m11 0h1m18 0h1m2 0h1m211 0h2M13 301.5h1m7 0h1m8 0h1m10 0h1m23 0h1m26 0h1m25 0h1m4 0h1m9 0h1m48 0h2m5 0h1m30 0h2m20 0h2m59 0h2m12 0h2m17 0h2m20 0h3M52 302.5h1m3 0h1m38 0h1m29 0h1m11 0h1m32 0h1m4 0h1m37 0h1m138 0h2m7 0h2m5 0h2M29 303.5h1m6 0h1m12 0h1m23 0h1m35 0h1m94 0h1m50 0h2m56 0h2m17 0h2m18 0h2M2 304.5h1m10 0h1m1 0h1m30 0h1m21 0h1m8 0h1m13 0h1m3 0h1m26 0h1m1 0h1m2 0h1m1 0h1m24 0h2m38 0h2m5 0h3m62 0h2m7 0h2M57 305.5h1m28 0h1m11 0h1m47 0h1m7 0h2m7 0h1m39 0h1m117 0h2m42 0h3m14 0h2M6 306.5h1m12 0h1m9 0h1m2 0h1m23 0h2m5 0h1m14 0h1m51 0h1m11 0h1m37 0h2m21 0h1m4 0h2m47 0h2m34 0h2M15 307.5h1m7 0h1m14 0h1m15 0h1m8 0h1m14 0h1m1 0h1m7 0h1m17 0h1m26 0h1m2 0h2m25 0h1m41 0h2m1 0h2m7 0h2m65 0h2m13 0h2m10 0h2m6 0h2M0 308.5h1m37 0h1m6 0h1m13 0h1m1 0h1m30 0h1m7 0h1m13 0h1m24 0h2m5 0h1m3 0h1m49 0h1M0 309.5h1m5 0h1m2 0h2m40 0h2m5 0h1m6 0h1m7 0h1m8 0h1m23 0h1m62 0h1m30 0h1m33 0h2m18 0h1m108 0h2m12 0h3m14 0h3M8 310.5h1m15 0h1m2 0h1m12 0h1m45 0h1m26 0h1m5 0h1m5 0h1m20 0h1m10 0h1m1 0h1m12 0h1m40 0h1m23 0h2m16 0h2m11 0h1m6 0h2m1 0h2m81 0h2m5 0h2M43 311.5h1m37 0h1m7 0h1m5 0h1m5 0h1m48 0h1m59 0h1m31 0h2m5 0h1m23 0h2m5 0h2m52 0h2M1 312.5h1m145 0h1m4 0h1m5 0h2m16 0h1m19 0h1m17 0h2m4 0h2m64 0h2M25 313.5h1m3 0h1m7 0h1m9 0h1m51 0h1m26 0h1m1 0h1m4 0h1m7 0h1m11 0h1m9 0h1m3 0h2m4 0h2m10 0h1m63 0h3m49 0h2m12 0h2m35 0h2M0 314.5h1m16 0h1m14 0h1m9 0h1m46 0h1m28 0h1m11 0h1m45 0h1m21 0h2m25 0h1m19 0h2m12 0h2m60 0h2M2 315.5h1m41 0h1m3 0h1m27 0h1m7 0h1m9 0h1m24 0h1m28 0h1m5 0h2m80 0h1m18 0h2m11 0h1m11 0h2M54 316.5h1m27 0h1m10 0h1m16 0h1m70 0h1m26 0h2m19 0h2m5 0h1m32 0h2m9 0h2m2 0h2m11 0h2m85 0h3M2 317.5h1m40 0h1m6 0h1m2 0h1m32 0h1m1 0h1m24 0h1m24 0h1m20 0h1m1 0h2m45 0h2m35 0h2m96 0h2m11 0h2M29 318.5h1m14 0h1m70 0h1m2 0h1m16 0h1m13 0h1m15 0h1m78 0h1m2 0h2m41 0h1m86 0h3M5 319.5h1m25 0h1m33 0h1m51 0h1m116 0h2m61 0h2m35 0h2M19 320.5h1m31 0h1m40 0h1m23 0h1m80 0h1m5 0h1m9 0h1m25 0h1m12 0h2m3 0h2m73 0h2m15 0h3M19 321.5h1m9 0h1m3 0h1m8 0h1m3 0h1m2 0h1m4 0h1m5 0h1m8 0h1m1 0h1m51 0h1m28 0h1m3 0h1m9 0h1m23 0h3m18 0h2m37 0h2m23 0h2m79 0h2M16 322.5h1m69 0h1m21 0h1m7 0h1m11 0h1m8 0h1m9 0h1m34 0h2m2 0h2m1 0h1m105 0h2m39 0h2M21 323.5h1m3 0h2m9 0h1m32 0h1m2 0h1m35 0h1m13 0h1m3 0h1m7 0h1m16 0h1m34 0h2m135 0h3m61 0h2m5 0h3M71 324.5h1m19 0h1m54 0h1m20 0h2m24 0h1m60 0h1m13 0h1m44 0h2m19 0h2M39 325.5h1m1 0h1m22 0h1m36 0h1m31 0h1m15 0h1m25 0h1m29 0h2m19 0h2m56 0h2m13 0h2m27 0h2m6 0h2m34 0h3M12 326.5h1m9 0h1m29 0h1m15 0h1m10 0h1m25 0h1m1 0h1m14 0h1m29 0h1m39 0h1m7 0h1m9 0h1m2 0h1m61 0h2m59 0h2m25 0h2M2 327.5h1m27 0h1m2 0h1m107 0h1m39 0h1m19 0h2m4 0h1m15 0h2m6 0h1m111 0h2M0 328.5h1m37 0h1m34 0h1m35 0h1m43 0h1m2 0h1m54 0h2m7 0h2m6 0h1m11 0h2m49 0h2m6 0h2m20 0h5m32 0h3M15 329.5h1m8 0h1m5 0h1m5 0h1m38 0h1m11 0h2m40 0h1m46 0h1m20 0h1m24 0h1m9 0h4m55 0h2m6 0h2M1 330.5h1m22 0h1m5 0h1m3 0h1m11 0h1m2 0h1m39 0h1m29 0h1m8 0h1m25 0h2m14 0h1m9 0h1m42 0h2m124 0h3m30 0h2M27 331.5h1m15 0h1m13 0h2m11 0h1m11 0h2m8 0h1m30 0h1m6 0h2m37 0h1m19 0h1m11 0h2m25 0h1m21 0h2m43 0h2M58 332.5h1m7 0h1m7 0h1m5 0h1m9 0h1m21 0h1m26 0h1m2 0h1m3 0h2m18 0h1m13 0h1m30 0h2m32 0h2m2 0h3m76 0h2M16 333.5h1m27 0h1m12 0h1m12 0h1m34 0h1m26 0h1m20 0h1m7 0h2m42 0h2m6 0h1m31 0h2m14 0h1m6 0h1m108 0h3M0 334.5h1m80 0h1m45 0h1m6 0h1m6 0h1m24 0h1m18 0h1m75 0h1m55 0h2m24 0h2m9 0h4M7 335.5h1m1 0h1m23 0h1m15 0h1m12 0h1m6 0h1m14 0h1m1 0h1m36 0h1m9 0h1m69 0h1m19 0h2m41 0h2m1 0h2m7 0h4m65 0h2m38 0h2M7 336.5h1m34 0h1m27 0h1m12 0h1m5 0h1m8 0h1m33 0h1m6 0h1m10 0h1m2 0h1m21 0h1m29 0h2m9 0h1m2 0h1m70 0h1m47 0h3M16 337.5h1m58 0h1m60 0h1m12 0h1m8 0h1m34 0h1m32 0h2m71 0h2m12 0h2M59 338.5h1m6 0h1m7 0h1m5 0h1m2 0h1m12 0h1m19 0h1m6 0h1m73 0h1m33 0h1m37 0h2m19 0h1m2 0h2M40 339.5h1m1 0h1m16 0h2m45 0h2m53 0h2m40 0h1m109 0h2m4 0h2m56 0h3M5 340.5h1m7 0h1m34 0h1m14 0h1m35 0h1m25 0h1m2 0h1m14 0h2m53 0h2m165 0h3M3 341.5h1m9 0h1m16 0h1m2 0h1m21 0h1m28 0h1m21 0h1m2 0h1m7 0h1m39 0h1m6 0h1m29 0h2m5 0h3m27 0h1m5 0h2m10 0h1m25 0h2m57 0h2m48 0h3M41 342.5h1m4 0h1m33 0h1m21 0h1m47 0h1m14 0h1m14 0h1m51 0h2m141 0h2M19 343.5h1m19 0h2m6 0h1m20 0h1m6 0h1m29 0h1m22 0h1m5 0h1m2 0h1m10 0h1m21 0h1m146 0h2m53 0h3M38 344.5h2m13 0h1m4 0h1m72 0h1m19 0h1m4 0h1m41 0h2m16 0h1m35 0h2m12 0h2m10 0h2m83 0h2M15 345.5h1m20 0h1m11 0h1m35 0h1m9 0h1m13 0h1m2 0h1m9 0h1m13 0h1m13 0h1m29 0h1m6 0h2m111 0h2M31 346.5h1m19 0h2m41 0h1m37 0h2m30 0h1m39 0h1m12 0h2m111 0h2m15 0h2M5 347.5h1m84 0h2m14 0h1m5 0h1m4 0h1m8 0h2m2 0h1m14 0h1m11 0h1m49 0h1m9 0h2m133 0h2M10 348.5h1m8 0h1m1 0h1m33 0h2m53 0h1m14 0h1m20 0h1m75 0h1m36 0h2M2 349.5h1m35 0h1m20 0h1m1 0h1m9 0h1m35 0h2m24 0h1m8 0h1m23 0h1m4 0h1m5 0h2m19 0h2m11 0h2m73 0h2m13 0h2m8 0h2m45 0h3m26 0h2M1 350.5h1m16 0h1m3 0h1m12 0h1m89 0h1m12 0h1m17 0h1m24 0h1m19 0h2m94 0h2m42 0h2m13 0h2M48 351.5h1m21 0h1m5 0h1m10 0h1m36 0h1m25 0h2m65 0h2m38 0h2m40 0h2m71 0h3M22 352.5h1m12 0h1m15 0h1m3 0h1m13 0h1m6 0h1m32 0h1m1 0h1m35 0h1m8 0h1m13 0h1m18 0h1m13 0h1m1 0h2m32 0h1m7 0h2m29 0h2m17 0h2M7 353.5h1m7 0h1m16 0h1m1 0h1m9 0h1m2 0h1m28 0h1m24 0h1m21 0h1m79 0h1m45 0h1m12 0h2m2 0h2m62 0h2M12 354.5h1m41 0h1m4 0h1m1 0h1m10 0h1m34 0h1m11 0h1m1 0h2m22 0h1m48 0h2m7 0h1m7 0h2m62 0h2m64 0h2m46 0h3M5 355.5h1m16 0h2m23 0h1m9 0h1m17 0h1m29 0h2m5 0h1m6 0h1m45 0h1m1 0h2m59 0h1m23 0h2m32 0h2m66 0h2m19 0h2M27 356.5h1m9 0h1m26 0h2m3 0h1m3 0h1m32 0h1m39 0h1m24 0h1m103 0h2m9 0h2m19 0h2M10 357.5h2m14 0h1m4 0h1m7 0h1m10 0h1m16 0h1m8 0h1m23 0h1m1 0h1m16 0h1m22 0h1m36 0h1m8 0h1m72 0h1m9 0h2m34 0h2m29 0h3m39 0h2M27 358.5h1m11 0h1m6 0h1m7 0h1m27 0h1m47 0h1m17 0h1m83 0h2m21 0h2m11 0h1M53 359.5h1m5 0h1m9 0h1m1 0h1m1 0h1m43 0h1m6 0h1m14 0h1m16 0h1m23 0h1m71 0h2m34 0h2M57 360.5h1m3 0h1m35 0h1m19 0h1m19 0h1m38 0h1m23 0h1m35 0h1m2 0h1m17 0h2m48 0h2m66 0h2m15 0h2M1 361.5h1m16 0h1m61 0h1m89 0h1m30 0h2m52 0h2m125 0h2M4 362.5h1m31 0h1m12 0h1m11 0h1m11 0h1m3 0h1m24 0h1m19 0h1m5 0h1m10 0h1m46 0h2m17 0h2m4 0h2m13 0h2m40 0h1m15 0h2m63 0h5m7 0h2M20 363.5h1m11 0h1m4 0h1m26 0h1m13 0h1m9 0h1m5 0h1m32 0h1m5 0h1m83 0h2m17 0h1m43 0h2m37 0h2m47 0h2M3 364.5h1m3 0h1m18 0h1m3 0h1m8 0h1m22 0h2m7 0h1m18 0h1m17 0h2m23 0h1m63 0h1m18 0h1m28 0h2m121 0h2m14 0h3M55 365.5h1m16 0h1m47 0h1m8 0h1m2 0h2m31 0h1m5 0h1m13 0h1m33 0h1m6 0h2m73 0h2m10 0h2M10 366.5h1m7 0h1m15 0h1m19 0h1m18 0h1m2 0h1m31 0h1m25 0h1m2 0h1m4 0h1m23 0h1m6 0h2m98 0h2m9 0h2m46 0h2m2 0h2m25 0h2m5 0h2M28 367.5h1m3 0h2m8 0h1m1 0h1m6 0h1m24 0h1m25 0h1m1 0h1m6 0h1m26 0h1m45 0h1m34 0h1m5 0h1m19 0h2m31 0h2m43 0h3M11 368.5h1m21 0h1m5 0h1m6 0h1m24 0h1m7 0h1m40 0h1m30 0h1m27 0h1m30 0h1m12 0h2m9 0h2m13 0h1m106 0h2M11 369.5h1m21 0h1m5 0h1m6 0h1m24 0h1m7 0h1m40 0h1m30 0h1m27 0h1m30 0h1m12 0h2m9 0h2m13 0h1m106 0h2"/>
<path stroke="#463480" d="M35 0.5h1m14 0h1m9 0h1m93 0h2m5 0h2m9 0h1m8 0h1m4 0h2m69 0h2m18 0h1m19 0h2m29 0h2m19 0h3m30 0h2M50 1.5h1m31 0h1m51 0h1m14 0h1m27 0h2m19 0h2m3 0h1m7 0h2m21 0h2m28 0h2m45 0h2m30 0h2M53 2.5h1m71 0h1m53 0h1m108 0h2m46 0h2m32 0h2M90 3.5h1m22 0h1m23 0h1m63 0h2m88 0h2m70 0h2m3 0h2M8 4.5h1m2 0h1m4 0h1m9 0h1m3 0h1m29 0h1m37 0h1m30 0h1m43 0h2m19 0h2m8 0h1m15 0h2m7 0h2m38 0h2m9 0h2m70 0h2M51 5.5h1m161 0h1m15 0h2m33 0h2m75 0h2M24 6.5h1m56 0h1m20 0h1m31 0h1m15 0h1m6 0h1m9 0h2m1 0h1m165 0h2M28 7.5h1m5 0h1m12 0h1m73 0h1m6 0h1m4 0h1m4 0h1m43 0h2m36 0h2m39 0h1m55 0h2M7 8.5h1m80 0h1m28 0h1m13 0h1m39 0h1m18 0h2m52 0h1m54 0h2m12 0h2M29 9.5h1m1 0h1m5 0h1m32 0h1m9 0h1m1 0h1m17 0h1m28 0h1m28 0h1m96 0h2M45 10.5h1m13 0h1m4 0h1m54 0h1m39 0h1m38 0h2m32 0h2m16 0h2m28 0h2m29 0h2M6 11.5h1m11 0h1m8 0h1m60 0h1m65 0h2m172 0h2m2 0h2m24 0h3M38 12.5h1m17 0h1m2 0h1m10 0h1m15 0h1m3 0h1m4 0h1m41 0h1m10 0h1m85 0h2m77 0h2m4 0h2M9 13.5h1m7 0h1m35 0h1m16 0h1m3 0h1m20 0h1m23 0h1m13 0h1m37 0h1m29 0h2M7 14.5h1m7 0h1m47 0h1m11 0h1m1 0h1m17 0h1m10 0h1m23 0h1m61 0h1m133 0h2m28 0h2M4 15.5h1m32 0h1m5 0h1m17 0h1m40 0h1m5 0h1m7 0h1m16 0h1m6 0h1m1 0h1m24 0h2m12 0h1m18 0h1m27 0h1m49 0h2m21 0h2m10 0h2m60 0h2M17 16.5h1m30 0h1m72 0h1m31 0h1m91 0h2M7 17.5h1m31 0h1m9 0h1m41 0h1m4 0h1m57 0h2m24 0h1m7 0h1m3 0h1m3 0h1m124 0h2M18 18.5h1m6 0h1m65 0h1m11 0h1m35 0h1m2 0h1m53 0h1m106 0h2m65 0h2M46 19.5h1m9 0h1m2 0h1m20 0h1m39 0h1m36 0h1m26 0h1m29 0h2m6 0h1m19 0h2m22 0h2m112 0h2M21 20.5h1m8 0h1m15 0h1m9 0h1m25 0h1m1 0h1m3 0h1m64 0h1m4 0h2m4 0h1M1 21.5h1m25 0h1m18 0h1m18 0h1m9 0h1m7 0h1m7 0h1m31 0h1m18 0h1m7 0h1m28 0h1m40 0h2m56 0h2m17 0h2m37 0h2m7 0h2M42 22.5h1m3 0h1m42 0h1m26 0h1m29 0h1m43 0h3m15 0h3m6 0h2m40 0h2m82 0h2M44 23.5h1m47 0h1m15 0h1m9 0h1m7 0h1m2 0h1m12 0h1m104 0h2m8 0h2m44 0h2m21 0h2m8 0h2M2 24.5h1m8 0h1m5 0h1m78 0h1m83 0h1m23 0h1m187 0h2M51 25.5h1m13 0h1m15 0h1m10 0h1m2 0h1m2 0h1m151 0h2m49 0h2m33 0h2M51 26.5h1m1 0h1m106 0h1m5 0h1m40 0h1m9 0h2m33 0h2m78 0h2M15 27.5h1m15 0h1m19 0h1m11 0h1m2 0h1m41 0h1m71 0h1m68 0h1m84 0h2m5 0h2M35 28.5h1m5 0h1m85 0h1m5 0h2m28 0h1m46 0h1m8 0h1M15 29.5h1m40 0h1m70 0h2m8 0h1m65 0h1M8 30.5h1m25 0h1m37 0h1m20 0h1m13 0h1m2 0h1m4 0h1m161 0h1m109 0h2M17 31.5h1m4 0h1m13 0h1m86 0h1m35 0h1m11 0h1m48 0h2m33 0h2m34 0h2m37 0h2M36 32.5h1m52 0h1m3 0h1m13 0h1m13 0h1m13 0h1m24 0h1m6 0h2m24 0h1m3 0h1m51 0h1M11 33.5h1m36 0h1m12 0h1m91 0h1m3 0h1m15 0h2m23 0h2m7 0h1m11 0h1m58 0h2m25 0h2m68 0h2M31 34.5h1m6 0h1m8 0h1m37 0h1m23 0h1m40 0h1m6 0h1m15 0h2m17 0h1m52 0h2m44 0h2M26 35.5h1m30 0h1m15 0h1m14 0h1m46 0h1m6 0h1m24 0h2m17 0h2m157 0h2m33 0h2M2 36.5h1m1 0h1m5 0h1m28 0h1m6 0h1m1 0h1m11 0h1m38 0h1m21 0h1m23 0h1m14 0h1m8 0h1m26 0h1m85 0h2m7 0h2m33 0h2M55 37.5h1m26 0h1m20 0h1m6 0h1m2 0h1m44 0h1m26 0h1m14 0h1m63 0h2m53 0h2m26 0h2m21 0h2M0 38.5h1m28 0h1m3 0h1m68 0h1m4 0h1m25 0h1m17 0h1m24 0h1m7 0h1m51 0h1m18 0h2m2 0h2m67 0h2m24 0h2M21 39.5h1m17 0h1m34 0h1m9 0h1m33 0h1m18 0h1m29 0h2m47 0h1m22 0h1M31 40.5h1m13 0h1m11 0h1m9 0h1m62 0h1m11 0h1m22 0h1m28 0h2m27 0h2m74 0h2m6 0h2m34 0h2m2 0h2M26 41.5h1m46 0h1m16 0h1m8 0h1m4 0h1m27 0h1m43 0h1m19 0h1m139 0h2M44 42.5h1m6 0h1m38 0h1m3 0h1m21 0h1m35 0h1m4 0h1m49 0h1m56 0h2M0 43.5h1m71 0h1m37 0h1m53 0h1m14 0h1m4 0h2m33 0h1m14 0h2m26 0h2m77 0h2M10 44.5h1m5 0h1m28 0h1m2 0h1m5 0h1m2 0h1m16 0h1m70 0h1m52 0h2m39 0h1m33 0h4M32 45.5h1m24 0h1m5 0h1m30 0h1m78 0h2m38 0h1m2 0h1m52 0h2m24 0h2m2 0h4m16 0h2m7 0h2M9 46.5h1m10 0h1m10 0h1m99 0h1m56 0h1m61 0h2m12 0h2m62 0h2m45 0h2M16 47.5h1m27 0h1m30 0h1m5 0h1m7 0h1m10 0h1m19 0h1m1 0h1m57 0h1m66 0h2m28 0h1m27 0h2m19 0h2m2 0h2m9 0h2M11 48.5h1m44 0h1m15 0h1m17 0h1m4 0h1m27 0h1m10 0h1m36 0h1m16 0h2m13 0h1m164 0h2M1 49.5h1m13 0h1m19 0h1m93 0h1m28 0h1m10 0h1m28 0h2m57 0h2m46 0h2m38 0h2m11 0h3M24 50.5h1m10 0h1m8 0h1m5 0h1m2 0h1m7 0h1m8 0h1m8 0h1m2 0h1m5 0h1m3 0h1m18 0h1M47 51.5h1m44 0h1m50 0h2m43 0h1m37 0h2m14 0h2m101 0h2m21 0h2M5 52.5h1m52 0h1m36 0h1m10 0h1m8 0h1m14 0h1m10 0h1m27 0h1m40 0h1m2 0h1m8 0h3m61 0h2m46 0h2m18 0h2M59 53.5h1m22 0h1m43 0h1m123 0h2m113 0h3M50 54.5h1m10 0h1m3 0h1m10 0h1m57 0h1m13 0h1m17 0h1m19 0h2m28 0h1m67 0h2m98 0h3M4 55.5h1m15 0h1m60 0h1m47 0h1m17 0h1m28 0h1m5 0h2m19 0h1m64 0h1m2 0h2m11 0h2m21 0h2m6 0h2m11 0h2M17 56.5h1m4 0h1m10 0h2m15 0h1m7 0h1m31 0h1m5 0h1m20 0h1m7 0h1m66 0h1m5 0h2M4 57.5h1m40 0h1m7 0h1m23 0h1m14 0h1m2 0h1m13 0h1m12 0h1m38 0h2m9 0h1m4 0h2m11 0h2m52 0h1M22 58.5h1m10 0h1m32 0h1m14 0h1m43 0h1m4 0h1m1 0h1m42 0h1m76 0h2m34 0h2M10 59.5h1m4 0h1m9 0h1m32 0h1m11 0h1m20 0h1m46 0h1m36 0h1m88 0h2m106 0h3M9 60.5h1m120 0h1m22 0h1m2 0h1m29 0h2m16 0h1m47 0h2m14 0h1m57 0h2m19 0h2M7 61.5h1m12 0h1m61 0h1m2 0h1m18 0h1m9 0h1m8 0h1m17 0h1m23 0h1m9 0h1m8 0h1m37 0h1m94 0h2m35 0h2m9 0h3M30 62.5h1m2 0h1m3 0h1m60 0h1m6 0h1m24 0h1m20 0h1m48 0h1m110 0h2M31 63.5h1m132 0h1m23 0h1m7 0h1m31 0h1m40 0h2m57 0h2M198 64.5h2M21 65.5h1m28 0h1m56 0h1m226 0h2m27 0h2M13 66.5h1m8 0h1m31 0h1m102 0h1m9 0h2m8 0h2m5 0h1m130 0h2M2 67.5h1m21 0h1m1 0h1m45 0h1M11 68.5h1m12 0h1m60 0h1m11 0h1m4 0h1m2 0h1m11 0h1m10 0h1m24 0h3m1 0h1m119 0h1M6 69.5h1m10 0h1m17 0h1m12 0h1m32 0h1m74 0h1m41 0h2m5 0h2m35 0h2m63 0h2m29 0h3m34 0h2M12 70.5h1m7 0h1m14 0h1m5 0h1m23 0h1m3 0h1m5 0h1m7 0h1m40 0h1m4 0h1m6 0h1m44 0h1m16 0h2m1 0h2m118 0h2m18 0h2m39 0h2M9 71.5h1m68 0h1m59 0h1m34 0h2m17 0h2m50 0h1M17 72.5h1m8 0h1m12 0h1m33 0h2m14 0h1m24 0h1m24 0h1m9 0h1m3 0h1m74 0h1m33 0h2m97 0h2M6 73.5h2m20 0h1m7 0h1m1 0h1m22 0h1m11 0h1m23 0h1m17 0h1m37 0h1m2 0h1m15 0h1m28 0h2m5 0h2m54 0h2m41 0h2m73 0h2M6 74.5h1m17 0h1m11 0h2m25 0h1m10 0h1m35 0h2m108 0h2m60 0h2m110 0h3M57 75.5h1m21 0h1m6 0h1m79 0h1m44 0h2m42 0h2m88 0h2M23 76.5h1m16 0h2m29 0h1m31 0h1m11 0h1m77 0h3m14 0h1m161 0h3m9 0h3M58 77.5h1m28 0h1m23 0h1m53 0h1m68 0h2m52 0h2m15 0h2m77 0h3M22 78.5h1m85 0h1m16 0h1m35 0h2m3 0h1m22 0h1m6 0h1m57 0h1m88 0h2M6 79.5h1m58 0h1m27 0h1m13 0h1m37 0h1m11 0h1m13 0h1m1 0h2m22 0h1m12 0h1m21 0h2m23 0h2m36 0h2m80 0h3m4 0h3M33 80.5h1m16 0h1m33 0h1m3 0h1m42 0h1m28 0h1m125 0h2m64 0h2M15 81.5h1m42 0h1m15 0h1m29 0h1m3 0h1m49 0h1m31 0h2m27 0h1m34 0h1m56 0h2m71 0h3M3 82.5h1m20 0h1m39 0h1m17 0h1m18 0h2m19 0h1m36 0h1m6 0h1m18 0h1m4 0h2m13 0h2m127 0h2m34 0h2M14 83.5h1m16 0h1m12 0h1m16 0h1m51 0h1m4 0h1m5 0h1m211 0h2M9 84.5h1m2 0h1m16 0h1m7 0h1m37 0h1m34 0h1m69 0h1m24 0h2m19 0h2m29 0h2m60 0h2m26 0h2m7 0h2M65 85.5h1m26 0h1m11 0h1m1 0h1m21 0h1m71 0h1m70 0h2m109 0h2M18 86.5h1m115 0h1m25 0h1m35 0h1m10 0h1m12 0h2m3 0h1m168 0h3M0 87.5h1m4 0h1m18 0h1m45 0h1m9 0h1m1 0h1m7 0h1m8 0h1m1 0h1m15 0h1m10 0h1m8 0h1m3 0h1m39 0h1m23 0h2m180 0h2M15 88.5h1m32 0h1m8 0h1m12 0h1m4 0h1m33 0h1m2 0h1m10 0h1m1 0h1m2 0h1m78 0h1m78 0h2m55 0h2M4 89.5h1m13 0h1m2 0h1m14 0h1m2 0h1m20 0h1m12 0h2m35 0h1m46 0h1m53 0h2M13 90.5h1m46 0h1m4 0h2m32 0h2m13 0h1m119 0h2m16 0h2m37 0h2m56 0h3M48 91.5h1m14 0h1m8 0h1m7 0h1m19 0h1m29 0h1m10 0h1m4 0h1m54 0h2m102 0h2m49 0h2M4 92.5h1m7 0h1m32 0h1m1 0h1m9 0h1m49 0h1m7 0h1m1 0h1m54 0h1m46 0h1m58 0h2m33 0h2m8 0h3m58 0h3M14 93.5h1m2 0h1m18 0h1m9 0h1m3 0h1m8 0h1m12 0h1m4 0h1m17 0h1m8 0h1m55 0h1m14 0h1m43 0h1M4 94.5h1m9 0h1m3 0h1m44 0h1m9 0h1m10 0h1m120 0h2m3 0h1m50 0h1m113 0h2M22 95.5h1m4 0h1m7 0h2m21 0h1m7 0h1m24 0h1m101 0h1m25 0h1M45 96.5h1m65 0h1m8 0h1m24 0h1m20 0h1m36 0h1m27 0h1m30 0h2M2 97.5h1m4 0h1m25 0h1m6 0h1m34 0h1m1 0h1m5 0h1m7 0h1m10 0h3m14 0h1m32 0h1m24 0h2m76 0h2m31 0h2m3 0h2m8 0h2m53 0h3M48 98.5h1m25 0h1m27 0h1m29 0h1m5 0h1m27 0h1m3 0h1m30 0h2m25 0h1m48 0h1m19 0h2m14 0h2m69 0h3M10 99.5h2m4 0h1m14 0h2m20 0h1m1 0h1m6 0h1m6 0h1m71 0h2m46 0h1m64 0h1M8 100.5h1m102 0h1m13 0h2m30 0h1m174 0h2m7 0h2m41 0h3m5 0h2M93 101.5h1m1 0h1m2 0h1m46 0h1m7 0h1m49 0h1m86 0h1M15 102.5h1m53 0h1m39 0h1m30 0h1m109 0h2m120 0h3m5 0h2M15 103.5h1m15 0h1m13 0h1m23 0h1m26 0h1m19 0h1m37 0h2m3 0h1m16 0h1m17 0h2m153 0h3M8 104.5h1m7 0h1m30 0h1m30 0h1m37 0h1m26 0h2m6 0h1m5 0h1m24 0h2m2 0h2m103 0h2M19 105.5h1m22 0h1m8 0h1m32 0h1m8 0h1m51 0h1m29 0h1m52 0h1M0 106.5h1m13 0h1m6 0h1m17 0h1m23 0h1m19 0h1m50 0h1m17 0h1m5 0h1m10 0h1m30 0h1m65 0h2m121 0h3M106 107.5h1m137 0h1m91 0h2M25 108.5h1m21 0h1m13 0h1m33 0h1m6 0h1m15 0h1m15 0h1m96 0h1M38 109.5h1m5 0h1m79 0h1m34 0h1m45 0h2m7 0h2M8 110.5h1m84 0h1m10 0h1m20 0h1m129 0h2m108 0h3M0 111.5h1m3 0h1m70 0h1m15 0h1m68 0h1m5 0h1m148 0h2m26 0h2M4 112.5h1m3 0h1m27 0h1m40 0h1m39 0h1m51 0h1m175 0h4M13 113.5h1m66 0h1m24 0h1m12 0h1m11 0h1m33 0h1m29 0h2m9 0h2m12 0h1m16 0h1m38 0h2m100 0h3M74 114.5h1m17 0h1m56 0h1m32 0h2m12 0h2m5 0h1m60 0h2M64 115.5h1m30 0h1m55 0h1m51 0h1m15 0h1M31 116.5h1m9 0h1m29 0h1m11 0h1m21 0h1m1 0h1m22 0h1m3 0h1m4 0h1m25 0h1m16 0h2m21 0h2m43 0h2m41 0h2M10 117.5h1m17 0h1m10 0h1m1 0h1m5 0h1m2 0h1m3 0h1m2 0h1m3 0h1m30 0h1m99 0h1m12 0h2m30 0h2m1 0h2m2 0h1M17 118.5h1m14 0h1m10 0h1m19 0h1m6 0h1m36 0h1m16 0h1m11 0h1m13 0h1m47 0h2m138 0h3M4 119.5h1m59 0h1m31 0h1m1 0h1m23 0h1m5 0h1m6 0h1m30 0h1m12 0h1m59 0h1m10 0h2m43 0h2m59 0h2M5 120.5h1m17 0h1m22 0h1m13 0h1m53 0h1m81 0h1m23 0h2m30 0h2m3 0h2m3 0h2m16 0h2M15 121.5h1m43 0h1m16 0h1m18 0h1m7 0h1m16 0h1m7 0h1m22 0h1m6 0h1m209 0h2M70 122.5h1m7 0h1m36 0h1m2 0h1m31 0h1m12 0h1m75 0h1m92 0h2m41 0h2M2 123.5h1m4 0h1m7 0h1m9 0h1m17 0h2m36 0h1m1 0h1m36 0h1m24 0h1m5 0h1m1 0h1m43 0h1m19 0h2m21 0h2m33 0h2M12 124.5h1m2 0h1m9 0h1m24 0h1m25 0h1m35 0h1m23 0h1m51 0h1m19 0h2m113 0h3m26 0h4M5 125.5h1m14 0h1m25 0h1m22 0h1m19 0h1m4 0h1m15 0h1m12 0h1m22 0h1m20 0h2m70 0h1m59 0h2m76 0h3m2 0h2M53 126.5h1m15 0h1m3 0h1m19 0h1m70 0h1m35 0h1m94 0h2M35 127.5h1m18 0h1m3 0h1m18 0h1m22 0h1m2 0h2m2 0h1m12 0h1m226 0h2M11 128.5h1m86 0h1m1 0h1m13 0h2m25 0h2m28 0h1m41 0h1m18 0h2m79 0h2M4 129.5h1m12 0h1m24 0h1m36 0h1m6 0h1m103 0h2m52 0h1m7 0h2m55 0h2m41 0h2M3 130.5h1m60 0h2m5 0h1m4 0h1m4 0h1m34 0h1m119 0h1m18 0h2m12 0h2M30 131.5h1m45 0h1m16 0h1m2 0h1m9 0h1m1 0h1m12 0h1m53 0h1m10 0h2m57 0h2m15 0h2M11 132.5h1m92 0h1m7 0h1m11 0h1m20 0h1m10 0h2m26 0h1m44 0h2m125 0h2M26 133.5h1m15 0h1m56 0h1m47 0h1m2 0h1m71 0h1m103 0h2m26 0h2m5 0h2M2 134.5h1m36 0h1m34 0h1m33 0h1m96 0h3m8 0h1m5 0h1m2 0h1m64 0h1m61 0h2M13 135.5h1m59 0h1m14 0h1m3 0h1m39 0h1m103 0h1m34 0h2m11 0h2m15 0h2m46 0h3M0 136.5h1m25 0h1m23 0h1m11 0h1m25 0h1m1 0h1m16 0h1m147 0h2m64 0h2M28 137.5h1m29 0h1m4 0h1m15 0h1m7 0h1m8 0h1m11 0h1m11 0h1m4 0h1m24 0h1m45 0h1m40 0h2m13 0h2m28 0h2m57 0h2M8 138.5h1m93 0h1m14 0h1m6 0h1m23 0h1m70 0h1m60 0h2m11 0h2m46 0h2M25 139.5h1m8 0h1m20 0h1m9 0h1m8 0h1m1 0h2m29 0h1m2 0h1m1 0h1m103 0h1m11 0h1m2 0h1M57 140.5h1m42 0h1m18 0h1m30 0h1m26 0h2m50 0h2m31 0h2M13 141.5h1m83 0h1m21 0h2m16 0h1m58 0h1m71 0h1m46 0h2m77 0h3M31 142.5h1m6 0h1m19 0h1m43 0h1m14 0h1m1 0h1m28 0h1m36 0h1m15 0h2m4 0h1m29 0h2m15 0h1m106 0h2m21 0h3M23 143.5h1m7 0h1m4 0h1m7 0h1m20 0h1m4 0h1m10 0h1m14 0h1m16 0h1m3 0h1m5 0h1m68 0h1m194 0h2M13 144.5h1m85 0h1m18 0h1m71 0h2m6 0h2m50 0h2M2 145.5h1m3 0h1m11 0h1m9 0h1m15 0h1m7 0h1m167 0h2m6 0h1m2 0h1m29 0h1m31 0h2m66 0h2m7 0h2M24 146.5h1m1 0h1m13 0h1m74 0h1m9 0h1m7 0h1m41 0h1m160 0h2m7 0h2M2 147.5h1m48 0h1m14 0h1m5 0h1m15 0h1m3 0h1m92 0h1m31 0h2m47 0h2m5 0h2M56 148.5h1m14 0h1m4 0h1m19 0h1m43 0h1m18 0h1m37 0h1m16 0h3m32 0h1m78 0h2m2 0h2M18 149.5h1m22 0h1m16 0h1m43 0h1m133 0h1m38 0h2m7 0h2M6 150.5h1m46 0h1m1 0h1m42 0h1m81 0h1m45 0h2m104 0h2m38 0h3M11 151.5h1m8 0h1m15 0h1m11 0h1m14 0h1m1 0h1m15 0h1m42 0h1m16 0h1m22 0h1m33 0h2m42 0h2m17 0h1m127 0h3M45 152.5h1m11 0h1m10 0h1m11 0h1m14 0h1m2 0h1m4 0h1m2 0h1m85 0h1m82 0h3m80 0h3m16 0h3M14 153.5h1m25 0h1m12 0h1m24 0h1m7 0h2m9 0h1m51 0h1m1 0h1m6 0h1m100 0h2M48 154.5h1m8 0h1m30 0h1m2 0h1m4 0h1m17 0h1m13 0h1m1 0h1m27 0h1m26 0h1m8 0h2M28 155.5h1m2 0h1m26 0h1m3 0h1m70 0h1m16 0h1m71 0h1m129 0h2M2 156.5h1m12 0h1m66 0h1m7 0h1m22 0h1m40 0h2m24 0h1m22 0h1m53 0h2m7 0h2m81 0h3m30 0h2M41 157.5h1m10 0h1m26 0h1m25 0h1m53 0h1m10 0h1m2 0h2m11 0h2m23 0h2M3 158.5h1m6 0h2m20 0h1m32 0h1m77 0h2m5 0h1m35 0h2m38 0h2m16 0h1M43 159.5h1m19 0h1m2 0h1m80 0h1m4 0h1m5 0h1m6 0h2m22 0h1m55 0h2m21 0h1m115 0h3M22 160.5h1m21 0h1m8 0h1m11 0h1m8 0h1m4 0h1m4 0h1m3 0h1m24 0h1m47 0h2m23 0h3m15 0h1m31 0h3m29 0h1m69 0h3M12 161.5h2m12 0h1m8 0h1m1 0h1m15 0h1m44 0h1m3 0h1m51 0h2m34 0h2m151 0h2M57 162.5h1m3 0h1m6 0h1m16 0h1m47 0h1m9 0h2m8 0h1m7 0h2m27 0h3m33 0h2m24 0h2M2 163.5h1m37 0h1m6 0h1m5 0h1m11 0h1m7 0h1m9 0h1m29 0h1m55 0h1m3 0h4m20 0h1m121 0h2m22 0h2M8 164.5h2m39 0h1m16 0h1m4 0h1m57 0h1m5 0h1m6 0h1m14 0h1m133 0h2m52 0h2M76 165.5h1m55 0h1m121 0h1m29 0h2m35 0h2M49 166.5h1m9 0h1m4 0h1m4 0h1m11 0h1m15 0h1m14 0h1m36 0h2m46 0h1m46 0h1m46 0h2m39 0h2M2 167.5h1m69 0h1m56 0h1m28 0h1m30 0h1m32 0h1m74 0h2M32 168.5h1m114 0h1m71 0h1m20 0h2m42 0h2M20 169.5h1m6 0h1m10 0h1m2 0h1m3 0h1m12 0h2m6 0h2m133 0h2m7 0h1m6 0h2m65 0h2M15 170.5h1m39 0h1m13 0h1m18 0h1m6 0h1m9 0h1m4 0h1m37 0h1m1 0h1m6 0h1m1 0h1m85 0h2m30 0h1m37 0h2m11 0h2m62 0h2M3 171.5h1m28 0h1m45 0h1m17 0h1m72 0h1m5 0h1m12 0h1m1 0h2m6 0h2m143 0h2M13 172.5h1m1 0h1m14 0h1m37 0h1m63 0h1m98 0h1m17 0h1m63 0h4M0 173.5h1m1 0h1m1 0h1m28 0h1m14 0h1m5 0h1m15 0h1m14 0h1m37 0h1m25 0h1m23 0h2m115 0h1m16 0h2m29 0h5m15 0h3M8 174.5h1m14 0h1m5 0h1m10 0h1m51 0h1m99 0h1m102 0h2m52 0h3m4 0h2M57 175.5h1m2 0h1m19 0h1m15 0h1m36 0h1m35 0h2m57 0h1m33 0h2M22 176.5h1m16 0h1m110 0h1m10 0h2m4 0h2m81 0h2m45 0h2m16 0h2M44 177.5h1m12 0h1m50 0h1m45 0h2m2 0h1m70 0h2m37 0h1m9 0h2M15 178.5h1m21 0h1m14 0h1m8 0h1m39 0h1m3 0h1m6 0h1m24 0h1m5 0h2m7 0h1m108 0h1m35 0h4m79 0h2m10 0h2M55 179.5h1m43 0h1m8 0h2m17 0h1m8 0h1m24 0h2m2 0h1m3 0h1m12 0h2m109 0h2M89 180.5h1m13 0h1m6 0h1m35 0h1m1 0h1m5 0h2m4 0h3m18 0h1m31 0h3m83 0h4M41 181.5h1m40 0h2m23 0h1m14 0h1m6 0h1m86 0h1m9 0h2m8 0h1M5 182.5h1m16 0h1m6 0h1m39 0h1m1 0h1m62 0h1m87 0h1m54 0h3m50 0h2M38 183.5h1m35 0h2m44 0h1m17 0h1m13 0h1m8 0h2m1 0h1m119 0h2m25 0h2M8 184.5h1m50 0h1m8 0h1m110 0h1m20 0h1m24 0h1m56 0h2m13 0h2m46 0h2M8 185.5h1m33 0h1m28 0h1m26 0h1m4 0h1m5 0h1m3 0h1m26 0h1m2 0h2m232 0h3M43 186.5h1m10 0h1m9 0h2m44 0h1m4 0h1m42 0h1m23 0h2m12 0h1M9 187.5h1m21 0h1m3 0h1m40 0h1m29 0h1m32 0h1m14 0h2m37 0h1m4 0h2m34 0h2m3 0h1M1 188.5h1m1 0h1m38 0h1m4 0h1m32 0h1m1 0h1m8 0h1m20 0h2m39 0h1m54 0h3m17 0h1m11 0h2m49 0h2m54 0h2M0 189.5h1m5 0h1m18 0h1m94 0h1m11 0h1m33 0h1m55 0h1m90 0h2M19 190.5h1m12 0h1m4 0h1m15 0h1m45 0h1m5 0h1m18 0h1m65 0h2m81 0h2m38 0h2m11 0h2m2 0h2M5 191.5h1m11 0h1m8 0h1m4 0h1m14 0h1m3 0h1m115 0h1m27 0h2m17 0h1m50 0h2m106 0h5M95 192.5h1m24 0h1m7 0h1m3 0h1m7 0h1m22 0h1m9 0h2m14 0h4m1 0h2m30 0h2m21 0h1m84 0h2M32 193.5h1m6 0h1m66 0h1m29 0h1m52 0h1m54 0h1m26 0h2m11 0h2M8 194.5h1m32 0h1m39 0h1m9 0h1m10 0h1m73 0h1m49 0h2m69 0h2M88 195.5h1m77 0h1m56 0h2m11 0h1m15 0h2m19 0h2M4 196.5h1m14 0h1m48 0h1m47 0h1m36 0h1m18 0h1m8 0h1M37 197.5h1m88 0h1m22 0h1m23 0h2m26 0h3m48 0h2m12 0h2m31 0h2m81 0h2M79 198.5h1m4 0h1m46 0h1m3 0h1m16 0h1m75 0h1m49 0h2m15 0h2M36 199.5h1m11 0h1m26 0h1m13 0h1m1 0h1m2 0h1m26 0h1m10 0h1m13 0h1m4 0h1m24 0h1m109 0h2m42 0h2m4 0h2M1 200.5h1m5 0h2m13 0h1m9 0h1m14 0h1m11 0h1m14 0h1m29 0h1m18 0h1m6 0h1m9 0h1m13 0h2m49 0h2m9 0h1m163 0h2M24 201.5h1m27 0h1m17 0h1m12 0h1m19 0h1m66 0h1m40 0h2m10 0h2m68 0h2m2 0h2m4 0h2m16 0h2m7 0h2m38 0h2M34 202.5h1m16 0h1m13 0h1m34 0h1m8 0h1m49 0h1m1 0h3m36 0h1m19 0h2m42 0h2m43 0h2m10 0h2M83 203.5h1m22 0h1m17 0h1m10 0h1m23 0h1m26 0h2m20 0h2M48 204.5h1m6 0h1m25 0h1m9 0h1m20 0h1m19 0h1m23 0h1m22 0h1m65 0h2m39 0h2m59 0h2M12 205.5h1m135 0h1m24 0h2m10 0h1m82 0h1m34 0h2M17 206.5h1m18 0h1m127 0h1m7 0h1m27 0h1m16 0h2m88 0h2m2 0h2M19 207.5h1m5 0h1m14 0h1m37 0h1m39 0h1m10 0h1m1 0h1m16 0h1m35 0h1m122 0h4m17 0h2m50 0h2M23 208.5h1m126 0h1m7 0h1m60 0h1m12 0h2m6 0h2m5 0h2m22 0h2m34 0h2m25 0h2M8 209.5h1m16 0h1m1 0h1m15 0h1m3 0h1m27 0h1m21 0h1m14 0h1m5 0h1m32 0h1m28 0h1m8 0h1m190 0h2M3 210.5h1m4 0h1m8 0h1m1 0h1m10 0h1m37 0h1m49 0h1m32 0h1m25 0h2m41 0h2m12 0h2m54 0h1m14 0h2m87 0h3M8 211.5h1m83 0h1m8 0h1m43 0h1m8 0h2m61 0h2m18 0h2m49 0h2m48 0h3M0 212.5h1m18 0h1m9 0h1m8 0h1m30 0h1m27 0h2m10 0h1m19 0h1m5 0h1m24 0h1m42 0h1m24 0h1m5 0h2m151 0h2M39 213.5h1m40 0h1m50 0h1m13 0h1m25 0h1m5 0h2m24 0h2m42 0h2m68 0h2M61 214.5h1m15 0h1m3 0h1m7 0h1m25 0h1m41 0h1m21 0h1m27 0h1m34 0h2m15 0h2m12 0h2m83 0h3m16 0h3M12 215.5h1m27 0h1m22 0h1m7 0h1m98 0h1m122 0h2m87 0h2M3 216.5h1m29 0h1m17 0h1m51 0h1m11 0h1m65 0h1m34 0h3M5 217.5h1m29 0h1m189 0h1m45 0h2m4 0h1M1 218.5h1m17 0h1m123 0h2m13 0h1m13 0h1m27 0h1m102 0h4M29 219.5h1m3 0h1m47 0h1m40 0h1m12 0h1m90 0h2m65 0h2m16 0h2m4 0h2m13 0h2M5 220.5h1m45 0h1m21 0h1m11 0h1m28 0h1m57 0h1m34 0h1m93 0h2M2 221.5h1m38 0h1m21 0h1m3 0h1m62 0h1m17 0h1m7 0h1m7 0h1m7 0h1m24 0h1m13 0h2m125 0h3M6 222.5h1m26 0h1m82 0h1m8 0h1m85 0h2m100 0h2m34 0h3M63 223.5h1m46 0h1m24 0h2m13 0h1m12 0h1m28 0h1m4 0h1m22 0h2m53 0h2M29 224.5h1m51 0h1m35 0h1m4 0h1m33 0h1m13 0h1m25 0h1m22 0h1M3 225.5h1m43 0h1m19 0h1m12 0h1m21 0h1m58 0h2m12 0h2m7 0h1m76 0h1M23 226.5h1m15 0h1m37 0h1m46 0h1m1 0h1m23 0h1m34 0h1m3 0h1m171 0h2M5 227.5h1m10 0h1m62 0h1m36 0h1m2 0h1m12 0h1m2 0h1m2 0h1m6 0h1m5 0h1m12 0h1m99 0h2m11 0h1m56 0h2M25 228.5h1m1 0h1m23 0h1m28 0h1m12 0h1m25 0h1m9 0h1m45 0h1m1 0h2m32 0h2m44 0h2M10 229.5h1m60 0h1m1 0h1m102 0h1m60 0h2m102 0h2M3 230.5h1m2 0h1m7 0h1m1 0h1m60 0h1m18 0h1m36 0h1m4 0h1m1 0h1m11 0h1m31 0h1m25 0h1m58 0h2m28 0h2M33 231.5h1m5 0h1m12 0h1m20 0h1m22 0h1m13 0h1m14 0h1m191 0h2m11 0h2M13 232.5h1m39 0h1m1 0h1m1 0h1m10 0h1m2 0h1m34 0h1m15 0h1m5 0h1m8 0h1m63 0h2m14 0h2m119 0h3M12 233.5h1m12 0h2m29 0h1m8 0h1m1 0h1m44 0h1m17 0h1m55 0h2m2 0h2m5 0h1m39 0h2m115 0h2M19 234.5h1m32 0h1m7 0h1m43 0h1m4 0h1m13 0h1m17 0h1m4 0h1m11 0h1m11 0h1m61 0h2m85 0h2M41 235.5h1m58 0h1m34 0h1m36 0h1m25 0h2m37 0h2m119 0h3m26 0h2M19 236.5h1m23 0h1m13 0h1m21 0h1m6 0h1m14 0h1m4 0h1m277 0h3M44 237.5h1m50 0h1m24 0h1m4 0h1m15 0h1m9 0h1m20 0h1m49 0h1M11 238.5h1m11 0h1m4 0h1m1 0h1m1 0h1m5 0h2m11 0h1m8 0h1m38 0h1m66 0h1m8 0h1m8 0h1M28 239.5h1m14 0h1m26 0h1m49 0h1m43 0h1m15 0h1m16 0h1m28 0h2m50 0h2M26 240.5h1m7 0h1m62 0h1m2 0h1m17 0h2m25 0h1m3 0h1m51 0h2m7 0h3m12 0h1m5 0h1m50 0h2m48 0h2m13 0h2m40 0h3M17 241.5h1m21 0h1m3 0h1m10 0h1m4 0h1m58 0h1m18 0h1m3 0h2m11 0h2m21 0h2m14 0h1m22 0h1m6 0h2m3 0h1m80 0h2M83 242.5h1m11 0h1m19 0h1m37 0h1m6 0h1m6 0h2m102 0h2m9 0h2m17 0h2M0 243.5h1m87 0h1m4 0h1m8 0h1m12 0h1m1 0h1m52 0h1m10 0h1m14 0h1m13 0h1m26 0h2m23 0h2m2 0h2m3 0h2m79 0h2M2 244.5h1m40 0h1m14 0h1m6 0h1m31 0h1m41 0h1m31 0h1m18 0h2m30 0h1m78 0h2m33 0h2m11 0h3m42 0h3M66 245.5h1m1 0h1m18 0h1m2 0h1m4 0h1m4 0h1m35 0h1m4 0h1m15 0h1m70 0h1m120 0h3M6 246.5h1m21 0h1m57 0h1m22 0h1m1 0h1m11 0h1m10 0h1m21 0h1m18 0h1m53 0h2m3 0h2m28 0h2M0 247.5h1m1 0h1m30 0h1m9 0h1m1 0h1m63 0h1m21 0h1m6 0h1m1 0h1m16 0h1m32 0h2m9 0h2m26 0h2m55 0h2m15 0h2M3 248.5h1m27 0h1m24 0h1m2 0h1m42 0h1m9 0h1m3 0h1m62 0h1m197 0h3M5 249.5h1m42 0h1m16 0h1m59 0h1m23 0h1m20 0h1m74 0h4m12 0h3M48 250.5h1m5 0h1m11 0h1m25 0h1m176 0h2m9 0h2m35 0h2M70 251.5h2m3 0h1m8 0h1m25 0h1m13 0h1m2 0h1m37 0h1m74 0h2m3 0h2m35 0h2m2 0h2M2 252.5h1m1 0h1m8 0h1m8 0h1m6 0h1m1 0h1m17 0h1m9 0h1m38 0h1m46 0h1m43 0h1m10 0h1m89 0h1M28 253.5h1m35 0h1m26 0h1m122 0h2m9 0h1m87 0h2m65 0h2M11 254.5h1m2 0h1m36 0h1m12 0h1m11 0h1m15 0h1m16 0h1m4 0h1m71 0h2m48 0h1m117 0h2M39 255.5h1m11 0h1m2 0h1m19 0h1m76 0h1m28 0h1m53 0h2m77 0h2M19 256.5h1m8 0h1m33 0h1m58 0h1m1 0h1m1 0h1m71 0h1m19 0h2m9 0h1m61 0h1M35 257.5h1m2 0h1m3 0h1m24 0h1m88 0h1m14 0h1m59 0h3m107 0h2M10 258.5h1m15 0h1m11 0h1m26 0h1m32 0h1m9 0h1m13 0h1m8 0h1m8 0h1m8 0h1m58 0h2m6 0h1m96 0h2m23 0h5m13 0h2M5 259.5h1m5 0h1m22 0h1m13 0h1m10 0h1m48 0h1m2 0h1m6 0h1m30 0h1m31 0h1m18 0h1m25 0h2M18 260.5h2m9 0h1m21 0h1m23 0h1m20 0h1m191 0h2m40 0h2m9 0h2m29 0h3M41 261.5h1m50 0h1m14 0h1m24 0h1m32 0h1m95 0h1m43 0h2m21 0h4M47 262.5h1m5 0h1m33 0h1m14 0h1m98 0h3m126 0h2M67 263.5h1m15 0h1m38 0h1m42 0h1m1 0h2m48 0h2m17 0h1m76 0h2m23 0h3M40 264.5h1m12 0h1m34 0h1m32 0h1m8 0h1m9 0h1m1 0h1m102 0h2m66 0h2m53 0h2m14 0h3M91 265.5h1m11 0h1m4 0h1m19 0h1m9 0h1m15 0h2m21 0h2m26 0h2m30 0h2m58 0h2m6 0h2m8 0h2m51 0h2M17 266.5h1m9 0h1m6 0h1m46 0h1m37 0h1m3 0h1m87 0h2m4 0h2m52 0h2m70 0h2M3 267.5h1m10 0h1m24 0h1m51 0h1m77 0h1m5 0h1m27 0h1m28 0h2m25 0h2M8 268.5h1m16 0h1m11 0h1m16 0h1m48 0h1m49 0h1m13 0h2M44 269.5h1m27 0h1m6 0h1m18 0h1m18 0h1m79 0h1m27 0h1m2 0h1m15 0h1m89 0h2M4 270.5h1m128 0h1m26 0h1m16 0h2m114 0h2M11 271.5h1m58 0h1m45 0h1m8 0h1m6 0h1m32 0h2m25 0h1m52 0h2m39 0h2M27 272.5h1m35 0h1m43 0h1m74 0h2m21 0h2m43 0h2m32 0h2m50 0h2m27 0h3M55 273.5h1m33 0h1m4 0h1m38 0h1m6 0h1m23 0h1m71 0h1m49 0h2m80 0h2M7 274.5h1m69 0h1m32 0h1m34 0h1m50 0h1m6 0h1m76 0h2m39 0h2m5 0h2M5 275.5h2m4 0h1m32 0h1m5 0h1m11 0h2m15 0h1m8 0h1m25 0h1m28 0h2m51 0h1m47 0h1m45 0h1m6 0h2m6 0h2M7 276.5h1m31 0h1m8 0h1m1 0h1m1 0h1m33 0h1m9 0h1m11 0h1m1 0h1m78 0h1m18 0h2m15 0h1m10 0h1m12 0h1m78 0h2m22 0h2m30 0h3m5 0h2M23 277.5h1m13 0h1m26 0h1m3 0h1m21 0h1m32 0h1m16 0h1m1 0h1m76 0h1m19 0h1M8 278.5h1m1 0h1m24 0h1m11 0h1m10 0h1m4 0h1m39 0h1m37 0h1m1 0h2m92 0h2m54 0h2m2 0h2m53 0h2M29 279.5h1m37 0h1m28 0h2m12 0h1m19 0h1m41 0h1m24 0h1m3 0h2m59 0h2m33 0h2m12 0h2m36 0h3m4 0h2M22 280.5h1m5 0h1m15 0h1m16 0h1m32 0h1m1 0h1M76 281.5h1m5 0h1m69 0h1m8 0h2m59 0h1m8 0h1m5 0h2m6 0h2m30 0h1M5 282.5h1m29 0h1m1 0h2m15 0h1m48 0h1m99 0h2m8 0h1m25 0h1m50 0h1m89 0h2M36 283.5h1m2 0h1m4 0h1m3 0h1m4 0h1m67 0h1m79 0h2m26 0h2m101 0h2M2 284.5h1m55 0h1m37 0h1m13 0h1m2 0h1m112 0h2m43 0h2m22 0h4M1 285.5h1m9 0h1m28 0h1m10 0h1m44 0h1m27 0h1m51 0h1m84 0h1m20 0h2M15 286.5h1m1 0h2m11 0h1m46 0h1m67 0h1m1 0h1m21 0h1m14 0h1m156 0h2m41 0h3M8 287.5h1m75 0h1m1 0h1m20 0h1m7 0h1m134 0h2m3 0h2m20 0h1M13 288.5h1m12 0h3m35 0h1m21 0h1m16 0h1m4 0h1m23 0h1m10 0h2m44 0h1m92 0h2m25 0h2m57 0h2m24 0h3M107 289.5h1m20 0h1m2 0h1m10 0h1m8 0h1m9 0h2m37 0h1m25 0h2M35 290.5h1m5 0h1m12 0h1m17 0h1m27 0h1m31 0h1m9 0h1m51 0h2m29 0h1m43 0h2m15 0h4m27 0h2m22 0h2m9 0h2M16 291.5h1m19 0h1m28 0h1m72 0h1m4 0h2m1 0h1m9 0h1m7 0h1m38 0h1m51 0h2m4 0h1m20 0h2m17 0h2M51 292.5h1m48 0h1m53 0h2m14 0h1m11 0h2m42 0h2m135 0h2M38 293.5h1m44 0h1m39 0h1m9 0h1m29 0h1m88 0h2m14 0h1M1 294.5h1m37 0h1m23 0h1m6 0h1m48 0h2m40 0h2m86 0h1m111 0h2M51 295.5h1m57 0h1m41 0h1m6 0h1m27 0h2m25 0h1m18 0h2m46 0h2m11 0h2M5 296.5h1m18 0h1m33 0h1m41 0h1m13 0h1m38 0h1m3 0h1m30 0h1m37 0h2m22 0h2m26 0h2m23 0h2m14 0h2m20 0h2M11 297.5h1m8 0h1m5 0h1m14 0h1m38 0h1m32 0h1m26 0h1m20 0h2m29 0h1m51 0h1m26 0h2m55 0h2M2 298.5h1m1 0h1m86 0h1m5 0h1m32 0h1m48 0h1m108 0h3m98 0h3M49 299.5h1m12 0h1m42 0h1m15 0h1m19 0h1m10 0h1m120 0h2m109 0h3M16 300.5h1m12 0h1m26 0h1m13 0h1m1 0h1m28 0h1m78 0h1m20 0h2m20 0h2m12 0h2m30 0h2m6 0h1m4 0h2m17 0h2m35 0h3m41 0h2M16 301.5h1m42 0h1m119 0h1m16 0h1m7 0h1m64 0h2m78 0h3M4 302.5h1m1 0h1m66 0h1m27 0h1m2 0h1m24 0h1m50 0h1m23 0h1M6 303.5h1m1 0h1m24 0h1m56 0h1m33 0h1m15 0h1m45 0h3m165 0h2M10 304.5h2m22 0h1m19 0h1m4 0h1m21 0h1m1 0h1m148 0h2m104 0h3M23 305.5h1m13 0h1m40 0h1m2 0h1m23 0h1m30 0h1m8 0h1m36 0h2m70 0h1m56 0h2M3 306.5h1m1 0h1m9 0h1m23 0h1m5 0h1m5 0h1m38 0h1m6 0h1m12 0h1m47 0h1m34 0h1M31 307.5h1m16 0h1m64 0h1m21 0h1m52 0h1m14 0h1m30 0h2m3 0h1M53 308.5h1m22 0h1m13 0h1m3 0h1m69 0h1m16 0h1m6 0h1m102 0h2M20 309.5h1m23 0h1m30 0h1m1 0h1m32 0h1m16 0h1m134 0h2m2 0h2m58 0h2M54 310.5h1m38 0h1m32 0h1m83 0h1M32 311.5h1m4 0h1m11 0h1m12 0h1m40 0h1m5 0h1m5 0h1m48 0h1m2 0h2m11 0h1m44 0h1m18 0h1m21 0h2m3 0h2m15 0h2M13 312.5h1m9 0h1m4 0h1m20 0h1m22 0h1m9 0h1m3 0h1m11 0h1m4 0h1m52 0h1m62 0h1m2 0h1m149 0h3m12 0h2M30 313.5h1m2 0h1m6 0h1m13 0h1m30 0h1m6 0h1m22 0h1m88 0h1m49 0h1m13 0h1M11 314.5h1m6 0h1m24 0h1m13 0h1m40 0h1m34 0h1m35 0h1m84 0h1m27 0h2m59 0h2M26 315.5h1m47 0h1m24 0h1m17 0h1m10 0h1m44 0h2m30 0h2m4 0h2m24 0h2m22 0h1m13 0h2m98 0h2M86 316.5h1m54 0h1m4 0h1m67 0h2m72 0h2M72 317.5h1m58 0h1m139 0h2m53 0h2M10 318.5h1m4 0h1m31 0h1m32 0h3m28 0h1m16 0h1m13 0h1m53 0h1m110 0h2M12 319.5h1m8 0h1m1 0h1m22 0h1m9 0h1m12 0h1m29 0h1m33 0h1m8 0h1m21 0h1m40 0h2m140 0h2M65 320.5h1m19 0h1m48 0h1m35 0h1m74 0h2m64 0h2M6 321.5h1m98 0h1m20 0h1M1 322.5h1m1 0h1m37 0h1m26 0h1m16 0h1m20 0h1m34 0h1m97 0h1m109 0h3m28 0h2M35 323.5h1m107 0h2m9 0h2m41 0h1m121 0h2m17 0h3M24 324.5h1m40 0h1m3 0h1m61 0h1m69 0h2m20 0h2m14 0h1m96 0h2m32 0h2M3 325.5h1m12 0h1m4 0h1m73 0h1m19 0h1m11 0h1m25 0h1m18 0h1m12 0h1m117 0h2M18 326.5h1m30 0h1m8 0h1m30 0h1m11 0h1m36 0h2m1 0h1m4 0h1m93 0h2M49 327.5h1m43 0h1m73 0h2m35 0h1m3 0h2m10 0h2m81 0h2m27 0h2m43 0h3M31 328.5h1m7 0h1m29 0h1m14 0h1m5 0h1m1 0h1m28 0h1m94 0h1M18 329.5h1m4 0h1m3 0h1m13 0h1m27 0h1m6 0h1m48 0h1m43 0h1m92 0h2m39 0h2M10 330.5h1m3 0h1m20 0h1m39 0h2m17 0h1m38 0h1m16 0h1m91 0h2m10 0h1m66 0h2m54 0h3M18 331.5h1m16 0h1m35 0h1m17 0h1m46 0h1m33 0h1m6 0h2m14 0h1m14 0h2M46 332.5h1m56 0h1m5 0h1m11 0h1m35 0h1m128 0h2m70 0h3M31 333.5h1m4 0h1m50 0h1m51 0h1m17 0h1m11 0h2m128 0h2M32 334.5h1m68 0h1m4 0h1m21 0h1m18 0h1m10 0h1m131 0h1m8 0h2m29 0h2M5 335.5h1m11 0h1m64 0h1m2 0h1m51 0h1m9 0h1m40 0h1m132 0h2M16 336.5h1m57 0h1m73 0h1m113 0h2m111 0h2M29 337.5h1m8 0h1m7 0h1m21 0h1m5 0h1m21 0h1m33 0h1m98 0h2m23 0h1m46 0h2m84 0h2M10 338.5h1m10 0h1m23 0h1m94 0h1m5 0h1m3 0h1m45 0h1m133 0h2M0 339.5h1m44 0h1m26 0h1m10 0h1m7 0h1m75 0h2m15 0h1m28 0h1m72 0h2m21 0h2M158 340.5h1m8 0h2m53 0h1m29 0h2m39 0h2m41 0h2m16 0h2M61 341.5h1m1 0h1m8 0h1m54 0h1m15 0h2m36 0h1m14 0h1m14 0h2m9 0h1m21 0h1m24 0h2m46 0h2M51 342.5h1m35 0h1m15 0h1m14 0h1m18 0h1m10 0h1m17 0h1m101 0h1m44 0h2m13 0h2m17 0h2M7 343.5h1m50 0h1m50 0h1m54 0h1m7 0h1m76 0h1m84 0h2M9 344.5h1m7 0h1m11 0h1m10 0h1m40 0h2m23 0h1m59 0h1m10 0h2m6 0h1m4 0h2m39 0h1m17 0h1M11 345.5h1m19 0h1m12 0h1m77 0h1m28 0h1m7 0h1m50 0h1m28 0h1m116 0h2M4 346.5h1m1 0h1m27 0h1m31 0h1m43 0h1m78 0h1m39 0h2m44 0h2m51 0h2m6 0h2m54 0h2M17 347.5h1m51 0h1m8 0h1m22 0h1m21 0h1m35 0h1m109 0h2m2 0h2m42 0h2M2 348.5h1m14 0h1m40 0h1m37 0h1m7 0h1m36 0h1m94 0h1m40 0h1M89 349.5h1m67 0h1m65 0h2m19 0h1m2 0h2m22 0h2m76 0h3m40 0h2M11 350.5h1m14 0h1m31 0h1m22 0h1m27 0h1m20 0h1m3 0h2m4 0h1m88 0h2m80 0h2M10 351.5h1m100 0h1m26 0h1m9 0h1m4 0h1m117 0h2m2 0h2m26 0h2m42 0h2m38 0h2M5 352.5h1m7 0h1m29 0h1m10 0h1m86 0h2m118 0h1M29 353.5h1m7 0h1m32 0h1m4 0h1m5 0h1m18 0h1m19 0h1m9 0h1m82 0h1m79 0h2m8 0h2m4 0h2m50 0h2M28 354.5h1m14 0h1m30 0h1m4 0h1m6 0h1m2 0h1m21 0h1m1 0h1m3 0h1m2 0h1m11 0h1m4 0h1m1 0h1m20 0h1m154 0h2m26 0h2m13 0h3M49 355.5h1m4 0h1m18 0h1m9 0h1m23 0h1m1 0h1m13 0h1m80 0h1m64 0h2M17 356.5h1m33 0h1m26 0h1m6 0h1m3 0h1m48 0h1m46 0h1m148 0h2m18 0h2M4 357.5h1m32 0h1m35 0h1m19 0h1m91 0h1m17 0h2m138 0h2M35 358.5h1m55 0h1m68 0h1m16 0h2m11 0h2m11 0h1m27 0h1m160 0h2M4 359.5h2m29 0h1m68 0h2m44 0h1m20 0h1m31 0h1m1 0h2m84 0h2m18 0h2m45 0h3M12 360.5h1m13 0h1m6 0h1m18 0h1m28 0h1m41 0h1m2 0h1m40 0h2m39 0h2m4 0h3m126 0h2M72 361.5h1m17 0h1m143 0h2m42 0h2m21 0h2m8 0h2M35 362.5h1m106 0h1m241 0h3m5 0h2M2 363.5h1m37 0h1m19 0h1m105 0h3m1 0h1m48 0h1m152 0h3M18 364.5h1m58 0h1m110 0h1m1 0h2m1 0h1m58 0h2m55 0h2m8 0h2m42 0h2M7 365.5h1m12 0h1m31 0h1m12 0h1m10 0h1m6 0h1m28 0h1m12 0h1m1 0h1m12 0h1m82 0h2m34 0h2m36 0h2M30 366.5h2m9 0h1m56 0h1m30 0h1m15 0h1m8 0h2m8 0h1m33 0h2m28 0h1m120 0h3M40 367.5h1m14 0h1m2 0h1m18 0h1m23 0h1m7 0h1m16 0h1m2 0h1m22 0h1m102 0h2m104 0h2M20 368.5h1m3 0h1m15 0h1m24 0h1m59 0h2m1 0h1m4 0h1m73 0h1m21 0h2m82 0h2m11 0h2m42 0h2M20 369.5h1m3 0h1m15 0h1m24 0h1m59 0h2m1 0h1m4 0h1m73 0h1m21 0h2m82 0h2m11 0h2m42 0h2"/>
<path stroke="#414487" d="M8 0.5h1m5 0h1m6 0h1m58 0h1m45 0h2m36 0h1m20 0h1m75 0h1m2 0h2M207 1.5h1m186 0h3M8 2.5h1m16 0h1m13 0h1m88 0h1m7 0h1m76 0h1m112 0h2M29 3.5h1m29 0h1m57 0h1m146 0h2m12 0h2M23 4.5h1m83 0h1m3 0h1m14 0h1m10 0h1m107 0h2m60 0h2M7 5.5h1m12 0h1m151 0h3m107 0h2M13 6.5h1m15 0h1m7 0h1m122 0h1m93 0h1m29 0h2m77 0h2m12 0h3M26 7.5h1m37 0h1m39 0h1m99 0h1m31 0h1m34 0h2m18 0h2M53 8.5h1m10 0h1m10 0h1m4 0h1m29 0h1m102 0h1m8 0h1m129 0h2M43 9.5h1m14 0h1m95 0h2m145 0h2m27 0h2M39 10.5h1m36 0h1m69 0h1m117 0h2m18 0h2m96 0h2M19 11.5h1m1 0h1m15 0h1m135 0h2M30 12.5h1m54 0h1m7 0h1m85 0h1m17 0h1m31 0h3m133 0h3M7 13.5h1m41 0h1m190 0h2m40 0h2M61 14.5h1m24 0h1m9 0h1m5 0h1m15 0h1m74 0h1m48 0h2m15 0h3m20 0h2M50 15.5h1m7 0h1m23 0h1m42 0h1m32 0h1m16 0h1M15 16.5h1m40 0h1m35 0h1m76 0h1m33 0h1m53 0h2M59 17.5h1m34 0h1m10 0h1m18 0h1m51 0h1m62 0h1m10 0h2M12 18.5h1m11 0h1m7 0h1m63 0h1m9 0h1m14 0h1m92 0h2m39 0h2M37 19.5h1m19 0h1m8 0h1m39 0h1m28 0h1m144 0h2m37 0h2M4 20.5h1m10 0h1m6 0h1m12 0h1m31 0h1m10 0h1m44 0h1m84 0h2m15 0h1M87 21.5h1m17 0h1m33 0h1m14 0h2m1 0h1m53 0h2M56 22.5h1m22 0h1m26 0h1m138 0h2M4 23.5h1m212 0h2M31 24.5h1m57 0h1m20 0h1m1 0h1m7 0h1m15 0h1m132 0h2M3 25.5h1m16 0h1m35 0h1m66 0h1m18 0h1m18 0h2m112 0h2m36 0h2M45 26.5h1m3 0h1m73 0h1m5 0h1m19 0h1m31 0h1m2 0h1m153 0h3m22 0h2M19 27.5h1m67 0h1m128 0h1m27 0h1m9 0h1m2 0h2M10 28.5h1m6 0h1m20 0h1m47 0h1m31 0h1m88 0h1M26 29.5h1m59 0h1m90 0h2m37 0h1m42 0h2m5 0h2m41 0h2M2 30.5h1m18 0h1m134 0h1m63 0h2m27 0h1m139 0h3M43 31.5h1m7 0h1m57 0h1m24 0h1m32 0h2m59 0h1m13 0h2m57 0h2M1 32.5h1m24 0h1m16 0h1m28 0h1m3 0h1m1 0h1m144 0h2m57 0h2m44 0h2M21 33.5h1m28 0h1M18 34.5h1m32 0h1m10 0h1m72 0h1m48 0h1m8 0h1M4 35.5h1m19 0h1m17 0h1m20 0h1m12 0h1m192 0h2m7 0h2M8 36.5h1m18 0h1m133 0h2m29 0h1m59 0h2m55 0h2m4 0h2M60 37.5h1m3 0h1m1 0h1m1 0h2m4 0h1m33 0h1m7 0h1m161 0h2m95 0h2m3 0h2M28 38.5h1m22 0h1m73 0h1m15 0h2m28 0h1m29 0h2m65 0h1m13 0h2m19 0h2m75 0h2M28 39.5h1m60 0h1m123 0h1m57 0h2m111 0h3M11 40.5h1m20 0h1m83 0h1m24 0h1m38 0h2m28 0h1M35 41.5h1m21 0h1m75 0h1m36 0h1m51 0h1m41 0h2m66 0h2M1 42.5h1m9 0h1m45 0h1m70 0h1m3 0h1m15 0h1m22 0h1m118 0h1M71 43.5h1m49 0h1m34 0h1m51 0h2M28 44.5h1m56 0h1m16 0h1m10 0h1m12 0h1m48 0h1m13 0h1m138 0h2M12 45.5h1m24 0h1m6 0h1m34 0h1m35 0h1m43 0h1m185 0h2M3 46.5h1m14 0h1m23 0h1m87 0h1m16 0h1m71 0h1m2 0h1m16 0h1m61 0h2M55 47.5h2m10 0h1m2 0h1m3 0h1m18 0h1m56 0h1m15 0h1m6 0h2M47 48.5h1m73 0h1m5 0h1m3 0h1m40 0h1m25 0h2m152 0h2M39 49.5h1m1 0h1m10 0h1m18 0h1m18 0h1m14 0h1m29 0h1m2 0h1m6 0h1m68 0h2m18 0h2m61 0h2m53 0h2m26 0h2M73 50.5h1m2 0h1m71 0h1m23 0h1m41 0h2m45 0h1m9 0h2M19 51.5h1m30 0h1m28 0h1m4 0h1m39 0h1m139 0h2m43 0h2m25 0h2M52 52.5h1m71 0h1m13 0h1m4 0h2m53 0h2m31 0h1M12 53.5h1m9 0h1m57 0h1m35 0h1m10 0h1m3 0h1m117 0h1m36 0h2m42 0h2M4 54.5h1m38 0h1m53 0h1m6 0h1m54 0h1m44 0h1m77 0h2M47 55.5h1m26 0h1m71 0h1m16 0h1m37 0h2m23 0h2m17 0h2m5 0h2M24 56.5h1m36 0h1m13 0h1m6 0h1m75 0h1m23 0h2m68 0h2m12 0h2m39 0h2M19 57.5h1m5 0h1m6 0h1m14 0h1m11 0h1m58 0h1m63 0h2m174 0h3M29 58.5h1m8 0h1m17 0h1m6 0h1m45 0h1m9 0h1m50 0h1m66 0h2m78 0h2m28 0h2M16 59.5h1m84 0h1m30 0h1m63 0h1m94 0h2m63 0h2M19 60.5h2m36 0h1m11 0h1m37 0h1m21 0h1m3 0h1m4 0h1m2 0h1m68 0h1m141 0h2M4 61.5h1m75 0h1m24 0h1m10 0h1m40 0h1m79 0h2m18 0h2M49 62.5h1m26 0h1m34 0h1m140 0h2m98 0h2M43 63.5h1m96 0h1m178 0h2M115 64.5h1m20 0h1m59 0h1M12 65.5h1m23 0h1m8 0h1m16 0h1m7 0h1m32 0h1m5 0h1m47 0h1m2 0h1m146 0h2m56 0h3M56 66.5h1m118 0h1m12 0h1m195 0h3M45 67.5h1m16 0h1m32 0h1m2 0h1m25 0h1m82 0h1m46 0h1m6 0h1m9 0h2m68 0h2m22 0h3M204 68.5h1m31 0h1m43 0h2m25 0h2M25 69.5h1m52 0h1m11 0h1m5 0h1m64 0h2m98 0h1M39 70.5h1m21 0h1m11 0h1m139 0h1m11 0h1M102 71.5h1m21 0h1m148 0h2m13 0h2M25 72.5h1m11 0h1m9 0h1m49 0h1m40 0h1m22 0h3m40 0h1m47 0h2M39 73.5h1m6 0h1m3 0h1m3 0h1m23 0h1m10 0h1m92 0h2m133 0h4m15 0h2m25 0h2M21 74.5h1m9 0h1m41 0h1m26 0h1m28 0h1m4 0h1m54 0h1m24 0h2M63 75.5h1m87 0h1m18 0h1m33 0h1m96 0h2M39 76.5h1m38 0h1m9 0h1m45 0h1m7 0h1M27 77.5h1m5 0h1m74 0h1m28 0h1m93 0h1M12 78.5h1m21 0h1m5 0h1m21 0h1m3 0h2m78 0h1m24 0h1m22 0h2m17 0h1m33 0h2m92 0h2M59 79.5h1m91 0h1m98 0h2m41 0h2m99 0h3M67 80.5h1m8 0h1m16 0h1m17 0h1m268 0h2M1 81.5h1m7 0h1m13 0h1m7 0h1m48 0h1m180 0h1m55 0h2m42 0h4m12 0h3M295 82.5h2m41 0h3M20 83.5h1m8 0h1m5 0h1m11 0h1m47 0h1m3 0h1m59 0h1m19 0h1m1 0h1m23 0h2m123 0h4m34 0h2M26 84.5h1m11 0h1m16 0h1m79 0h1M12 85.5h1m39 0h1m13 0h1m44 0h1m42 0h2m9 0h1m214 0h2M69 86.5h1m29 0h1m8 0h1m7 0h1m12 0h1m109 0h1m94 0h2m18 0h2m33 0h3M9 87.5h1m25 0h1m37 0h1m50 0h1m5 0h1m61 0h1m135 0h2m62 0h2M9 88.5h2m3 0h1m51 0h1m40 0h1m8 0h1m1 0h1m58 0h2m9 0h1m9 0h2m187 0h2M31 89.5h1m36 0h1m79 0h1m26 0h1m4 0h1m39 0h2m15 0h2m1 0h2m59 0h2m4 0h2m25 0h2m9 0h2M84 90.5h1m16 0h1m5 0h1m39 0h1m75 0h2m43 0h1m15 0h2m27 0h2M21 91.5h1m80 0h1m47 0h1m20 0h1m10 0h2m19 0h1m19 0h2m84 0h2m2 0h2M34 92.5h1m66 0h1m4 0h1m13 0h1m68 0h1m8 0h2M2 93.5h2m22 0h1m33 0h1m2 0h1m61 0h1m16 0h1m67 0h1m58 0h2m57 0h2m28 0h3M20 94.5h1m15 0h1m7 0h1m22 0h1m10 0h1m46 0h1m10 0h1m9 0h1m46 0h1M38 95.5h1m31 0h1m4 0h1m84 0h1m112 0h2m30 0h2M8 96.5h1m172 0h1m19 0h2m25 0h1m32 0h1m45 0h2m43 0h2m14 0h2M15 97.5h1m25 0h1m24 0h1m11 0h1m61 0h1m15 0h1m18 0h1m101 0h1M18 98.5h1m74 0h1m3 0h1m35 0h1m181 0h2m11 0h2M100 99.5h1m52 0h1m211 0h3M70 100.5h1m9 0h1m41 0h1m80 0h1m27 0h1m8 0h2m101 0h2M52 101.5h1m54 0h1m6 0h1m8 0h1m8 0h1m34 0h2m48 0h2m170 0h3M40 102.5h1m101 0h1m137 0h2m19 0h2m23 0h2M6 103.5h1m45 0h1m3 0h1m72 0h1m16 0h1m150 0h2m2 0h2m44 0h2m28 0h3m9 0h3M9 104.5h1m11 0h1m26 0h1m38 0h1m48 0h1m39 0h1m45 0h1m124 0h2m7 0h2M27 105.5h1m63 0h1m14 0h1m3 0h1m23 0h1m59 0h2m58 0h1m29 0h2m94 0h2M47 106.5h1m54 0h1m77 0h1m196 0h3M14 107.5h1m58 0h1m31 0h1m12 0h1m37 0h1m25 0h2m55 0h1m9 0h1M17 108.5h1m2 0h1m114 0h1m3 0h1m7 0h1m4 0h1m75 0h1m120 0h5m9 0h2M26 109.5h1m42 0h1m31 0h1m17 0h1m76 0h1m35 0h2m48 0h2m17 0h2m31 0h2m32 0h2M12 110.5h1m6 0h1m14 0h1m39 0h1m142 0h2m61 0h2M55 111.5h1m11 0h1m86 0h2m29 0h1m89 0h2M205 112.5h2m21 0h1m70 0h2m42 0h2M39 113.5h1m26 0h1m9 0h1m24 0h1m37 0h1m89 0h2m121 0h4m5 0h2M55 114.5h2m26 0h1m5 0h1m3 0h1m34 0h1m126 0h2M23 115.5h1m70 0h1m1 0h1m176 0h2M0 116.5h1m59 0h1m35 0h1m57 0h2m10 0h1m62 0h2m26 0h2M69 117.5h1m3 0h1m3 0h1m39 0h1m21 0h1m91 0h1M25 118.5h1m179 0h2m50 0h2m7 0h2M52 119.5h1m37 0h1m89 0h1m7 0h1m203 0h2M69 120.5h1m93 0h1m67 0h1m81 0h2M4 121.5h1m7 0h1m24 0h1m102 0h1m66 0h1m70 0h2m4 0h2M32 122.5h1m6 0h1m17 0h1m10 0h1m27 0h1m12 0h1m39 0h1m4 0h2m37 0h1m31 0h1m56 0h2m44 0h2m33 0h2m22 0h2M19 123.5h1m7 0h1m17 0h1m28 0h1m7 0h1m56 0h1m230 0h2M7 124.5h1m10 0h1m103 0h1m42 0h1m76 0h2m34 0h2M33 125.5h1m20 0h1m13 0h1m30 0h1m21 0h1m101 0h2m66 0h2M10 126.5h1m36 0h1m20 0h1m18 0h1m46 0h1m1 0h1m3 0h1m24 0h1m157 0h3M38 127.5h1m7 0h1m23 0h1m21 0h1m68 0h2m18 0h1m16 0h2m123 0h3M51 128.5h1m1 0h1m1 0h1m19 0h1m21 0h1m75 0h2m13 0h1m33 0h1m46 0h2m32 0h2m14 0h2M45 129.5h1m2 0h1m13 0h1m163 0h2m8 0h1m43 0h2M29 130.5h1m26 0h1m69 0h1m20 0h1m13 0h2m30 0h1m3 0h1M1 131.5h1m61 0h1m8 0h1m37 0h1m49 0h1m56 0h2m33 0h2m21 0h2M18 132.5h1m25 0h1m13 0h2m74 0h1m46 0h1m12 0h2m35 0h1m27 0h2M47 133.5h1m59 0h1m18 0h1m10 0h1m70 0h2m87 0h2M42 134.5h1m138 0h1m131 0h2M15 135.5h1m32 0h1m38 0h1m50 0h1m71 0h1m41 0h2m135 0h3M10 136.5h1m103 0h1m15 0h1m22 0h1m15 0h1M41 137.5h1m35 0h1m67 0h1m11 0h1m70 0h1m3 0h2m79 0h2m55 0h2M35 138.5h1m1 0h1m17 0h1m3 0h1m19 0h1m21 0h1m1 0h1m19 0h1m49 0h2m93 0h1M41 139.5h1m2 0h1m59 0h1m70 0h1m27 0h1M2 140.5h1m26 0h1m19 0h1m90 0h1m28 0h1m123 0h2m89 0h3M15 141.5h1m16 0h1m25 0h1m48 0h1m2 0h1m13 0h1m7 0h1m34 0h2m1 0h1m19 0h2m2 0h2M19 142.5h1m7 0h1m94 0h1m18 0h1m50 0h1m39 0h2M148 143.5h1m23 0h1m185 0h3M4 144.5h1m57 0h1m7 0h1m60 0h2m39 0h1m35 0h2m52 0h2m13 0h3m58 0h3M98 145.5h1m21 0h1m56 0h2m2 0h1m12 0h2m99 0h2m22 0h2m59 0h2M3 146.5h1m34 0h1m11 0h1m81 0h1m49 0h2m4 0h1m18 0h1M52 147.5h1m41 0h1m13 0h1m10 0h1m144 0h2M5 148.5h1m32 0h1m18 0h1m70 0h1m1 0h1m36 0h2m13 0h2m123 0h2M15 149.5h1m14 0h1m53 0h1m9 0h1m17 0h1m8 0h1m130 0h2m34 0h2m7 0h2M18 150.5h1m29 0h1m17 0h1m13 0h1m25 0h1m15 0h1m7 0h1m1 0h1m20 0h1m157 0h2m64 0h3M42 151.5h1m19 0h1m25 0h1m45 0h1m17 0h1m26 0h1m10 0h2m31 0h2m111 0h2m49 0h2M4 152.5h1m30 0h2m68 0h1m9 0h1m136 0h2M35 153.5h1m53 0h1m98 0h1m65 0h1m14 0h2m48 0h2M56 154.5h1m53 0h1m27 0h1m1 0h1m101 0h2m5 0h1M48 155.5h1m4 0h1m70 0h2m2 0h1m190 0h2M16 156.5h1m7 0h1m19 0h1m14 0h1m48 0h1m38 0h1m60 0h2m10 0h2m3 0h1m33 0h2m102 0h2m15 0h2M27 157.5h1m31 0h1m53 0h1m22 0h1m77 0h2M72 158.5h1m55 0h1m125 0h1m127 0h2M19 159.5h1m66 0h1m64 0h1m18 0h1m14 0h1m8 0h2M33 160.5h1m1 0h1m1 0h1m54 0h1m2 0h1m3 0h1m25 0h1m11 0h1m144 0h2m7 0h2m20 0h2m57 0h3M33 161.5h1m25 0h1m11 0h1m77 0h1m39 0h1m4 0h2m4 0h1m9 0h1m130 0h2M11 162.5h1m74 0h1m15 0h1m26 0h1m15 0h1m23 0h1m31 0h2m59 0h2m4 0h1m21 0h1M8 163.5h1m59 0h1m35 0h1m10 0h1m44 0h1m49 0h1m86 0h2M59 164.5h1m56 0h1m29 0h1m3 0h1m152 0h2m12 0h2m51 0h2M122 165.5h1m7 0h1m38 0h1m7 0h2m80 0h2M22 166.5h1m10 0h1m6 0h1m17 0h1m32 0h1m2 0h1m41 0h1m120 0h2m82 0h2m15 0h3M75 167.5h1m64 0h1m147 0h2m3 0h2M30 168.5h1m32 0h1m27 0h1m24 0h1m81 0h2m99 0h2m44 0h2M44 169.5h1m29 0h1m65 0h1m13 0h2m3 0h1m3 0h1m29 0h1M112 170.5h1m22 0h1m9 0h1M20 171.5h1m5 0h1m34 0h1m13 0h1m81 0h1m3 0h2m50 0h1m52 0h2m3 0h2m102 0h2M14 172.5h1m44 0h1m11 0h1m32 0h1m14 0h1m14 0h1m61 0h1m6 0h1m97 0h2m86 0h3M32 173.5h1m6 0h1m36 0h1m38 0h1m18 0h1m47 0h3m13 0h2m101 0h2m53 0h2m26 0h3M10 174.5h1m80 0h1m42 0h1m73 0h2m45 0h2m79 0h5M26 175.5h1m15 0h1m15 0h1m22 0h1m21 0h1m77 0h1m29 0h2m9 0h1m171 0h3M96 176.5h1m38 0h1M60 177.5h1m40 0h1m31 0h1m3 0h1m157 0h2m12 0h2m21 0h2M43 178.5h1m34 0h1m42 0h1m29 0h1m11 0h1m56 0h2m69 0h2m91 0h3M21 179.5h1m57 0h1m172 0h2M7 180.5h1m14 0h1m15 0h1m12 0h1m9 0h1m9 0h1m69 0h1m30 0h1m37 0h1m15 0h2m17 0h2m30 0h1m15 0h2m48 0h2M1 181.5h1m79 0h1m110 0h1m102 0h2m95 0h2M27 182.5h1m45 0h1m18 0h1m63 0h1m14 0h1m94 0h2m43 0h2m57 0h2M40 183.5h1m32 0h1m58 0h1m75 0h2M42 184.5h1m5 0h1m16 0h1m4 0h1m26 0h1m41 0h1m12 0h1m18 0h1m8 0h1m15 0h1m129 0h2m4 0h2M30 185.5h1m26 0h1m7 0h1m10 0h1m17 0h1m35 0h1m7 0h1m130 0h2m63 0h2m2 0h3m6 0h5m28 0h2M39 186.5h1m32 0h1m10 0h1m2 0h1m48 0h1m11 0h1m8 0h1m116 0h2m72 0h2m7 0h2M11 187.5h1m7 0h1m57 0h1m23 0h1m33 0h1m46 0h2m42 0h2m119 0h2M30 188.5h1m34 0h1m88 0h2m121 0h1M14 189.5h1m52 0h1m8 0h1m4 0h1m58 0h1m56 0h1m52 0h2m43 0h2M16 190.5h1m50 0h1m15 0h1m6 0h1m200 0h2M3 191.5h1m10 0h1m3 0h1m16 0h1m39 0h1m28 0h1m91 0h1m4 0h2m14 0h2m4 0h2m109 0h2M55 192.5h1m3 0h1m14 0h1m4 0h1m9 0h1m130 0h2m62 0h2M93 193.5h1m18 0h1m7 0h1m38 0h1m37 0h1m57 0h2M45 194.5h1m9 0h1m33 0h1m21 0h1m11 0h1m23 0h1m42 0h2m2 0h2m12 0h2m10 0h2m7 0h2m3 0h2m33 0h2m20 0h2M78 195.5h1m55 0h1m35 0h1m48 0h1m110 0h2m50 0h2M309 196.5h2m38 0h3M12 197.5h1m3 0h1m22 0h1m2 0h1m44 0h1m3 0h1m25 0h1m3 0h1m3 0h1m22 0h1m56 0h2m43 0h2m41 0h2m28 0h3M6 198.5h1m14 0h1m33 0h1m36 0h1m55 0h1m4 0h1m110 0h2m49 0h2m2 0h2M5 199.5h1m19 0h1m53 0h1m10 0h1m171 0h2M6 200.5h1m22 0h1m73 0h1m44 0h1m18 0h2m4 0h2m11 0h2m52 0h2m15 0h2m16 0h2m32 0h2m45 0h2M8 201.5h1m66 0h1m59 0h1m53 0h1m78 0h1M33 202.5h1m108 0h1m36 0h1m6 0h2m40 0h1m48 0h1m69 0h2M10 203.5h1m75 0h1m55 0h1m156 0h2m53 0h2m5 0h2M190 204.5h2m19 0h2m3 0h1m148 0h3M108 205.5h1m25 0h1m90 0h1m97 0h3m39 0h3m2 0h2M13 206.5h1m140 0h2m91 0h2m10 0h2m7 0h1m26 0h2m6 0h2M18 207.5h1m101 0h1m190 0h2m13 0h2m66 0h3M4 208.5h1m11 0h1m14 0h1m57 0h1m6 0h1m15 0h1m2 0h1m4 0h1m1 0h1m19 0h1m20 0h1m17 0h1m25 0h1m137 0h2m14 0h2M106 209.5h1m2 0h1m37 0h1m19 0h2m16 0h1m11 0h1m86 0h2m13 0h2m14 0h2M29 210.5h1m70 0h1m33 0h1m47 0h2m17 0h2m169 0h3M17 211.5h1m62 0h1m33 0h1m2 0h1m95 0h1m47 0h1m22 0h2M91 212.5h1m20 0h1m40 0h1m28 0h2m107 0h2M52 213.5h1m97 0h2m46 0h2m189 0h3M31 214.5h1m71 0h1m38 0h1m15 0h1m17 0h1m109 0h2m9 0h2m39 0h3M55 215.5h1m23 0h1m4 0h1m33 0h1m6 0h1m1 0h1m4 0h1m28 0h2m47 0h1m136 0h2M8 216.5h1m2 0h1m28 0h1m32 0h1m43 0h1m11 0h1m33 0h1m3 0h2M21 217.5h1m22 0h1m16 0h1m41 0h1m12 0h1m33 0h1m1 0h1m83 0h1m32 0h2m44 0h4M36 218.5h1m1 0h1m136 0h1m92 0h1M12 219.5h1m7 0h1m46 0h1m31 0h1m10 0h1m21 0h1m56 0h1m41 0h1m10 0h2m10 0h1m14 0h2m90 0h2M31 220.5h1m32 0h1m6 0h1m92 0h1m5 0h1m216 0h2M5 221.5h2m83 0h1m32 0h1m8 0h1m7 0h1m1 0h1m121 0h2M23 222.5h1m55 0h1m48 0h2m10 0h1m9 0h1m19 0h1m10 0h1m93 0h2m3 0h2M38 223.5h1m9 0h1m26 0h1m56 0h1m5 0h1m129 0h1m74 0h2m25 0h2m22 0h3M27 224.5h1m15 0h1m104 0h1m11 0h1m12 0h2m50 0h1m56 0h2M158 225.5h1m10 0h1m9 0h1m64 0h1m4 0h1M31 226.5h1m38 0h1m17 0h1m2 0h1m90 0h2m71 0h2m40 0h2M3 227.5h1m6 0h1m1 0h2m49 0h1m8 0h1m4 0h1m65 0h2m11 0h1m186 0h2M13 228.5h1m68 0h1m78 0h2m35 0h2m50 0h2m80 0h2M0 229.5h1m90 0h1m66 0h1m4 0h1m7 0h1m97 0h2m50 0h2M27 230.5h1m20 0h1m5 0h1m30 0h1m2 0h1m5 0h1m97 0h1m61 0h1M99 231.5h1M35 232.5h1m98 0h1m8 0h2m39 0h1M2 233.5h1m20 0h1m13 0h1m13 0h1m83 0h1m5 0h2m109 0h2m7 0h1M46 234.5h1m25 0h1m67 0h1m13 0h2m15 0h1m14 0h2M69 235.5h1m21 0h2m18 0h1m157 0h2m19 0h1m93 0h3M42 236.5h1m16 0h1m44 0h1m68 0h2m64 0h1m21 0h1m31 0h2m18 0h2m32 0h2M169 237.5h1m92 0h2M3 238.5h1m9 0h1m77 0h1m217 0h2M27 239.5h1m3 0h1m4 0h1m13 0h1m11 0h1m13 0h1m52 0h1m202 0h2M262 240.5h2m108 0h3M4 241.5h1m19 0h1m97 0h1m62 0h1m14 0h1m39 0h2m44 0h2m53 0h2m34 0h3M47 242.5h1m2 0h1m7 0h1m57 0h1m1 0h1m84 0h1m50 0h1m110 0h3M33 243.5h1m63 0h1m28 0h1m29 0h1m14 0h1m39 0h2m88 0h2m8 0h2M49 244.5h1m18 0h1m3 0h1m14 0h1m15 0h1m4 0h2m129 0h1m65 0h2M20 245.5h1m34 0h1m26 0h1m35 0h1m6 0h1m17 0h2m49 0h2m58 0h1M40 246.5h1m33 0h1m4 0h1m4 0h1m96 0h1m14 0h1m34 0h1m102 0h2M25 247.5h1m2 0h1m17 0h1m76 0h1m17 0h1m100 0h2m17 0h1m4 0h2m55 0h3M18 248.5h1m2 0h1m33 0h1m26 0h1m34 0h1m18 0h1m88 0h1M32 249.5h1m103 0h1m43 0h1m116 0h2m44 0h2M11 250.5h1m10 0h1m88 0h1m3 0h1m11 0h1m8 0h1M5 251.5h1m58 0h1m14 0h1m2 0h1m75 0h1m49 0h2m15 0h1m73 0h2M106 252.5h1m4 0h1m9 0h1m49 0h1m31 0h1m6 0h1M17 253.5h1m3 0h1m11 0h1m28 0h1m76 0h1m5 0h1m18 0h1m82 0h2m12 0h3m5 0h2M10 254.5h1m11 0h1m29 0h1m59 0h1m3 0h1m43 0h1m46 0h1m26 0h2M69 255.5h1m218 0h2M2 256.5h1m21 0h1m49 0h1M65 257.5h1m7 0h1m15 0h1m13 0h1m86 0h2m103 0h2m83 0h2M8 258.5h1m28 0h1m3 0h1m14 0h1m5 0h1m34 0h1m125 0h3m64 0h1M37 259.5h1m31 0h1m40 0h1m19 0h1m17 0h1m20 0h1m62 0h2m6 0h2m92 0h2m16 0h2M26 260.5h1m6 0h2m18 0h1m4 0h1m10 0h1m66 0h1m51 0h1m66 0h2M71 261.5h1m9 0h1m95 0h2M3 262.5h1m13 0h1m11 0h1m13 0h1m63 0h1m23 0h1m47 0h1m39 0h3m130 0h2m28 0h2M4 263.5h1m63 0h1m25 0h1m1 0h1m52 0h1m105 0h2m66 0h3m32 0h3M1 264.5h1m53 0h1m4 0h1m3 0h1m67 0h1m33 0h1m88 0h2M17 265.5h2m38 0h1m2 0h1m103 0h1m119 0h2m55 0h2m44 0h2M2 266.5h1m11 0h1m17 0h1m144 0h3m64 0h1M11 267.5h1m35 0h1m24 0h1m31 0h1m46 0h1m28 0h1m71 0h2M4 268.5h1m181 0h2M19 269.5h1m1 0h1m25 0h1m5 0h1m35 0h1m42 0h1m23 0h1m33 0h2m105 0h2M8 270.5h1m42 0h1m2 0h1m61 0h1m44 0h2m6 0h1m62 0h2m92 0h2M7 271.5h1m101 0h1m12 0h1m46 0h1m214 0h3M97 272.5h1m26 0h1m4 0h1m196 0h2M39 273.5h1m8 0h1m28 0h1m254 0h2M11 274.5h1m18 0h1m58 0h1m96 0h2m1 0h1m92 0h2m15 0h2m60 0h2M42 275.5h1m40 0h1m79 0h1m8 0h1m165 0h3m48 0h3M5 276.5h1m20 0h1m26 0h1m7 0h1m37 0h1m23 0h1m3 0h1m36 0h1m5 0h1m199 0h2M93 277.5h1m21 0h1m55 0h1m78 0h2m16 0h1m80 0h3M9 278.5h1m12 0h1m100 0h1m5 0h1m4 0h1m23 0h1M45 279.5h1m8 0h1m4 0h1m19 0h1m6 0h1m44 0h1m10 0h1m222 0h3m2 0h2M54 280.5h1m36 0h1m13 0h1m67 0h2M99 281.5h1m6 0h1m33 0h1m2 0h2m2 0h1m173 0h2M13 282.5h1m41 0h1m7 0h1m46 0h1m14 0h1m79 0h2m1 0h2m89 0h2m14 0h2M18 283.5h1m50 0h1m90 0h1m56 0h2m1 0h2m44 0h2m5 0h2m93 0h2M15 284.5h1m63 0h1m9 0h1m12 0h1m39 0h1m11 0h2m60 0h1m51 0h1m123 0h2M9 285.5h1m97 0h1m114 0h1m24 0h2m15 0h2m75 0h2m6 0h3m16 0h4M22 286.5h1m33 0h1m30 0h1m3 0h1m3 0h1m12 0h1m9 0h1m219 0h3M77 287.5h2m34 0h1m79 0h1m99 0h2M17 288.5h1m44 0h1m35 0h1m11 0h1m4 0h1m59 0h1m47 0h2m63 0h2M104 289.5h1m3 0h1m181 0h1m14 0h2m40 0h2M37 290.5h1m29 0h1m42 0h1m74 0h1m10 0h1m10 0h1m20 0h1m5 0h2m151 0h2M225 291.5h1m43 0h2m26 0h2m22 0h2m11 0h2M14 292.5h1m34 0h1m71 0h1m11 0h1m14 0h1m59 0h2m45 0h2m34 0h2M67 293.5h1m68 0h1m43 0h1m132 0h2M19 294.5h1m3 0h1m3 0h1m31 0h1m17 0h1m3 0h1m22 0h1m47 0h1m150 0h2M56 295.5h1m10 0h1m86 0h2m38 0h2m29 0h1m3 0h2m97 0h2M10 296.5h1m23 0h1m14 0h1m46 0h1m16 0h1m21 0h1m2 0h1m12 0h1m7 0h2m4 0h2m34 0h2m37 0h2m79 0h2m26 0h3M14 297.5h1m20 0h1m37 0h1m41 0h1m5 0h1m10 0h1m15 0h1m219 0h2M22 298.5h1m131 0h2m37 0h1m17 0h2M210 299.5h1m18 0h2m112 0h2M78 300.5h1m4 0h1m50 0h1m21 0h1m10 0h2m196 0h3M38 301.5h1m9 0h1m50 0h1m36 0h1m22 0h2m2 0h1m43 0h1m8 0h1m17 0h2m32 0h1m38 0h2M59 302.5h1m39 0h1m14 0h1m25 0h1m10 0h1m95 0h2m31 0h2m59 0h2M10 303.5h1m9 0h1m59 0h1m1 0h1m34 0h1m25 0h2m66 0h2m12 0h1m13 0h1m26 0h2M31 304.5h1m72 0h1m1 0h1m85 0h1m61 0h1M30 305.5h1m10 0h1m43 0h1m21 0h1m39 0h1m11 0h1m59 0h1m49 0h2m85 0h2M71 306.5h1m34 0h1m49 0h1m43 0h1M45 307.5h1m37 0h1m48 0h1m7 0h1m18 0h1m84 0h1m21 0h2m93 0h2M64 308.5h1m22 0h1m29 0h1m10 0h1m24 0h1m23 0h2m66 0h2m79 0h2m26 0h2M24 309.5h1m51 0h1m21 0h1m9 0h1m87 0h1m1 0h2m78 0h2m13 0h2M123 310.5h1m10 0h1m6 0h1m42 0h1m16 0h2M28 311.5h2m26 0h1m3 0h1m11 0h1m43 0h1m37 0h2m25 0h1m4 0h2m5 0h1m3 0h1m30 0h1m129 0h3M25 312.5h1m13 0h1m5 0h1m91 0h1m1 0h1m76 0h1m9 0h2M9 313.5h1m9 0h1m12 0h1m32 0h1m93 0h1m59 0h1m127 0h2m33 0h2M21 314.5h1m11 0h1m74 0h1m6 0h1m15 0h1m18 0h1m69 0h2m87 0h2M11 315.5h1m2 0h1m7 0h1m24 0h1m47 0h1m14 0h1m102 0h1m72 0h2m13 0h2M5 316.5h1m1 0h1m39 0h1m22 0h1m32 0h1m38 0h1m14 0h1m22 0h1m35 0h1m86 0h2M17 317.5h1m60 0h1m29 0h1m34 0h2m34 0h1m98 0h2m39 0h2M6 318.5h1m36 0h1m102 0h1m146 0h2M211 319.5h2m10 0h3m36 0h2m4 0h1M82 320.5h1m53 0h1m20 0h1m58 0h1m117 0h2M4 321.5h1m12 0h1m49 0h1m12 0h1m59 0h1m38 0h1m5 0h1m43 0h2M10 322.5h1m79 0h1m6 0h1m25 0h1m64 0h1m42 0h1m58 0h1M3 323.5h1m33 0h1m65 0h2m9 0h1m43 0h1m7 0h1m132 0h2m20 0h2M17 324.5h1m19 0h1m10 0h1m7 0h1m75 0h1m8 0h1m6 0h1m137 0h2M52 325.5h1m34 0h1m34 0h1m37 0h1m184 0h2M81 326.5h1m3 0h1m17 0h1m19 0h1m84 0h2m9 0h1m53 0h2m117 0h2M26 327.5h1m11 0h1m25 0h1m92 0h1m55 0h1m25 0h1m4 0h1m81 0h2m19 0h2M7 328.5h1m18 0h1m103 0h1m3 0h1m147 0h2M8 329.5h1m91 0h1m17 0h1m3 0h1m52 0h1m35 0h3m2 0h1m23 0h2m26 0h1m13 0h2m96 0h2M21 330.5h1m20 0h1m22 0h3m55 0h1m2 0h1m30 0h1m27 0h1m61 0h2m12 0h1m74 0h2M1 331.5h1m37 0h1m63 0h1m35 0h1m36 0h1m100 0h1m13 0h2m22 0h2m77 0h3M3 332.5h1m8 0h1m38 0h1m106 0h1m70 0h2m76 0h2m66 0h2m12 0h3M22 333.5h1m27 0h1m2 0h1m20 0h1m9 0h1m8 0h1m14 0h1m87 0h1m50 0h2m3 0h2m102 0h2m7 0h3M118 334.5h1m21 0h1m13 0h2m41 0h1m113 0h2M30 335.5h1m17 0h1m10 0h1m43 0h1m14 0h1m8 0h1m15 0h2m24 0h1m7 0h2m2 0h1m117 0h2M19 336.5h1m27 0h1m18 0h1m18 0h1m19 0h1m8 0h1m30 0h2m5 0h1m29 0h2m123 0h2M101 337.5h1m19 0h1m23 0h1m8 0h2M19 338.5h1m8 0h2m55 0h1m15 0h1m47 0h1m1 0h1m13 0h1m27 0h1m129 0h3M138 339.5h1m7 0h1m76 0h2m59 0h2M138 340.5h1m38 0h2m29 0h2m29 0h1m40 0h2M44 341.5h1m83 0h1m157 0h2M75 342.5h1m24 0h1m11 0h1m2 0h1m43 0h1M2 343.5h1m26 0h1m12 0h1m19 0h1m23 0h1m10 0h1m19 0h1m53 0h1m18 0h2m99 0h2m75 0h2m14 0h3M24 344.5h1m5 0h1m49 0h1m24 0h1m9 0h1m18 0h1m15 0h1m12 0h1m9 0h2m79 0h1M14 345.5h1m87 0h1m21 0h1m73 0h2m3 0h1m119 0h3M42 346.5h1m17 0h1m18 0h1m258 0h3M107 347.5h2m19 0h1m17 0h1m29 0h1M51 348.5h1m26 0h1m91 0h1m2 0h2m128 0h2m29 0h2M1 349.5h1m2 0h1m35 0h1m37 0h1m72 0h1m15 0h2m13 0h2m33 0h2m10 0h2m33 0h2M19 350.5h1m54 0h1m15 0h2m12 0h1m1 0h1m14 0h1m28 0h1m9 0h1m14 0h1m17 0h1m99 0h2m57 0h2M26 351.5h1m62 0h1m2 0h1m30 0h1m55 0h1M42 352.5h1m22 0h1m28 0h1m18 0h1m34 0h1m36 0h1m76 0h2m35 0h2M3 353.5h1m18 0h1m8 0h1m93 0h1m138 0h2M40 354.5h1m35 0h1m50 0h1m23 0h1m6 0h2m47 0h1m34 0h2m25 0h2M8 355.5h1m46 0h1m26 0h1m103 0h2m38 0h2m130 0h3M46 356.5h1m77 0h1m14 0h1m61 0h2m160 0h2M52 357.5h1m26 0h1m14 0h1m23 0h1m50 0h1M42 358.5h1m60 0h1m36 0h1m31 0h1m2 0h1m110 0h2M43 359.5h1m24 0h1m24 0h1m16 0h1m9 0h1m2 0h1m30 0h2m88 0h1m17 0h4m75 0h2M9 360.5h1m4 0h1m15 0h1m1 0h1m51 0h1m6 0h1m28 0h1m28 0h1m2 0h1m1 0h2M29 361.5h1m15 0h1m64 0h1m70 0h1m44 0h2m113 0h2M20 362.5h1m27 0h1m30 0h2m232 0h2m23 0h3M1 363.5h1m118 0h1m2 0h1m27 0h1m11 0h1m15 0h1m127 0h2M0 364.5h1m228 0h2m42 0h2M3 365.5h1m1 0h1m33 0h1m57 0h1m1 0h1m34 0h2m28 0h1m11 0h1m100 0h1m114 0h2M20 366.5h1m2 0h1m41 0h1m8 0h1m15 0h1m57 0h1m33 0h2m4 0h1m188 0h3M62 367.5h1m150 0h1m74 0h2m44 0h2M74 368.5h1m14 0h2m72 0h1m91 0h2m36 0h2m10 0h2m38 0h2M74 369.5h1m14 0h2m72 0h1m91 0h2m36 0h2m10 0h2m38 0h2"/>
<path stroke="#3b528b" d="M39 0.5h1m4 0h1m69 0h1m3 0h1m13 0h1m2 0h1m200 0h2M2 1.5h1m29 0h1m9 0h1m37 0h1m147 0h1M3 2.5h1m139 0h2m19 0h1m43 0h2M7 3.5h1m3 0h1m122 0h1m15 0h1m57 0h2m61 0h2m68 0h2M57 4.5h2m107 0h3m63 0h2m13 0h2m6 0h2M45 5.5h1m19 0h1m5 0h2m7 0h1m89 0h1m25 0h1M44 6.5h1m21 0h1m24 0h1m209 0h2m16 0h4M42 7.5h1m103 0h1m2 0h1m66 0h1m8 0h1m137 0h2M26 8.5h1m38 0h1m94 0h1m21 0h2m44 0h1m26 0h2M41 9.5h1m35 0h1m8 0h1m15 0h1m76 0h1m39 0h1M161 10.5h2m40 0h1m10 0h2m39 0h2M31 11.5h1m13 0h1m5 0h1m17 0h1m5 0h1M62 12.5h1m61 0h1M4 13.5h1m102 0h1m38 0h1m26 0h2m205 0h2m12 0h3M26 14.5h1m120 0h1M194 15.5h2m24 0h2m73 0h2m24 0h2M89 16.5h1m25 0h1m136 0h2M8 17.5h1m123 0h1m2 0h1m3 0h1m122 0h2m113 0h3M173 18.5h2m161 0h2m56 0h3M34 19.5h1m20 0h1m261 0h2M33 20.5h1m18 0h1m32 0h1m11 0h1m152 0h2m41 0h2m28 0h3M52 21.5h1m256 0h2m30 0h2M25 22.5h1m24 0h1m20 0h1m48 0h1m11 0h1m17 0h1m31 0h2m125 0h2M58 23.5h1m173 0h2m6 0h2m105 0h2M39 24.5h1m15 0h1m28 0h1m33 0h1M61 25.5h1m16 0h1m41 0h1m17 0h1m12 0h1m197 0h3M0 26.5h1m18 0h1m173 0h1m140 0h2M89 27.5h1m32 0h1m184 0h2m4 0h2m4 0h2M136 28.5h1M41 29.5h1m24 0h1m39 0h1m14 0h1m47 0h1m2 0h1m100 0h2M43 30.5h1m30 0h1m224 0h4M32 31.5h1m23 0h1m11 0h1m8 0h1m17 0h1m2 0h1m40 0h1m1 0h1m4 0h1m34 0h1m67 0h1M15 32.5h1m45 0h1m172 0h2m23 0h2m23 0h2M9 33.5h1m4 0h1m49 0h1m7 0h1m81 0h2M136 34.5h1m16 0h1m62 0h1m6 0h2m7 0h2M66 35.5h1m36 0h1m23 0h1m2 0h1M28 36.5h1m30 0h1m57 0h1m31 0h1m50 0h1m43 0h1M35 37.5h1M23 38.5h1m44 0h1m139 0h2m6 0h1m61 0h2m19 0h2M78 39.5h1m63 0h1m9 0h1M41 40.5h1m2 0h1m1 0h1m3 0h1m19 0h1m2 0h1m21 0h1m4 0h1m23 0h1m38 0h1M31 41.5h1m105 0h1m3 0h1m56 0h2m4 0h1m68 0h2M51 43.5h1m48 0h1m27 0h1m74 0h1m168 0h3M100 44.5h1m185 0h2M72 45.5h1m25 0h1m73 0h1m109 0h2m108 0h2M12 46.5h1m39 0h1m27 0h1m29 0h1m3 0h1M223 47.5h2m48 0h2m40 0h2m11 0h2M8 48.5h1m16 0h1m11 0h1m92 0h1m51 0h2m50 0h2m9 0h2m62 0h2M76 49.5h1m51 0h1m4 0h1m16 0h1m226 0h3M49 50.5h1m17 0h1M1 51.5h1m4 0h1m149 0h1m28 0h1m11 0h1m113 0h2M32 52.5h1m38 0h1m44 0h1m16 0h1m43 0h2m82 0h3m18 0h2M0 53.5h2m47 0h1m90 0h1m45 0h2m182 0h2M2 54.5h1m39 0h1m46 0h1m26 0h1m52 0h1m87 0h2m12 0h2M15 55.5h1m44 0h1m30 0h1m58 0h1m3 0h2m14 0h1m146 0h2m28 0h2M21 56.5h1m56 0h1m128 0h1m34 0h2m1 0h2M247 58.5h2m12 0h1M47 59.5h1m16 0h1m12 0h1m36 0h1m39 0h2M157 60.5h1m70 0h1m76 0h2M47 61.5h1m7 0h1m94 0h1m69 0h2m56 0h2m27 0h2M86 62.5h1m74 0h2m12 0h1m6 0h2m20 0h1m45 0h2M137 63.5h1m56 0h2m151 0h2M106 64.5h1m16 0h1m2 0h1m31 0h1m123 0h2M40 65.5h1m51 0h1m18 0h1m10 0h1m58 0h1m10 0h1m98 0h2M51 66.5h1m82 0h1m195 0h2M32 67.5h1m2 0h1m68 0h1m129 0h2M134 68.5h1m68 0h1m43 0h2m109 0h3M31 69.5h1m10 0h1m10 0h1m1 0h1m28 0h1m6 0h1m19 0h1m14 0h1m2 0h1m21 0h1M85 70.5h1m5 0h1m21 0h1m70 0h1m22 0h1M32 71.5h1m25 0h1m7 0h1m14 0h1m38 0h1m9 0h1m34 0h1m98 0h2M1 72.5h1m29 0h1m56 0h1m54 0h2M68 73.5h1m108 0h2m78 0h2M18 74.5h1m45 0h1m19 0h1m20 0h1m3 0h1m9 0h1m4 0h1m130 0h2m130 0h2m3 0h2M37 75.5h1m14 0h1m93 0h1M25 76.5h1m6 0h1m24 0h1m4 0h1m69 0h1m190 0h3M17 77.5h1m60 0h1m56 0h1m48 0h1m70 0h2m108 0h3m21 0h3M3 78.5h1m43 0h1m106 0h2m221 0h3M37 79.5h1m66 0h1m18 0h1m12 0h1M328 80.5h2m62 0h2M14 81.5h1m7 0h1m17 0h1m21 0h1m88 0h1m139 0h2m43 0h2M62 82.5h1m7 0h1m16 0h1m211 0h2M5 83.5h1m87 0h1m106 0h1m100 0h2m18 0h2m15 0h3m2 0h2M80 84.5h1m33 0h1m4 0h1m32 0h1m6 0h1m68 0h1m13 0h2m34 0h2M156 85.5h1m10 0h2m108 0h1m6 0h2m48 0h2M48 86.5h1m12 0h1m27 0h1m61 0h1m62 0h2m13 0h2M31 88.5h1m81 0h1m148 0h2M13 89.5h1M5 90.5h1m12 0h1m51 0h1m93 0h1M0 91.5h1m24 0h1m72 0h1m11 0h1m4 0h1m168 0h2M2 92.5h1m53 0h1m16 0h1m17 0h1m61 0h1m198 0h2m26 0h2M16 93.5h1m41 0h1m23 0h1m84 0h2m45 0h2m36 0h2M69 94.5h1m7 0h1m15 0h1m2 0h1m48 0h1m106 0h2m36 0h1M43 95.5h1m80 0h1m136 0h1M24 96.5h1m7 0h1m142 0h1m20 0h1m23 0h2M87 97.5h1m196 0h2M39 98.5h1m1 0h1m110 0h1m54 0h1M18 99.5h1m120 0h1m65 0h2m10 0h2M152 100.5h1m144 0h2M142 101.5h1m37 0h1m73 0h1m113 0h2M25 102.5h1m92 0h1m28 0h1m18 0h1m10 0h2m34 0h1m63 0h1M55 103.5h1m97 0h1m32 0h2m26 0h2m53 0h2M69 104.5h1m33 0h1m42 0h1m23 0h1m4 0h1M16 105.5h1m261 0h2M10 106.5h2m5 0h1m123 0h1m30 0h1m76 0h1m4 0h1m31 0h2M39 107.5h1m30 0h1m161 0h2M44 108.5h1m141 0h2m32 0h2m20 0h2m145 0h3M64 109.5h1m19 0h1m88 0h2m47 0h1m3 0h2m27 0h2M67 110.5h1m21 0h1m4 0h1m29 0h1m33 0h1m51 0h1m60 0h2M58 111.5h1m28 0h1m19 0h1M3 112.5h1m21 0h1m30 0h1m52 0h1m1 0h1m20 0h1m53 0h2M7 113.5h1m120 0h1m3 0h1M7 114.5h1m27 0h1m69 0h1m138 0h1m139 0h3M17 115.5h1m9 0h1m52 0h1m60 0h1m98 0h2m88 0h2M18 116.5h1m56 0h1m74 0h1m21 0h1m37 0h1m51 0h2m49 0h2M79 117.5h1m41 0h1m7 0h1m120 0h2m65 0h2M49 118.5h1m59 0h1m7 0h1m33 0h1m15 0h2M14 119.5h1m14 0h1m72 0h1m110 0h1m12 0h2m69 0h2m12 0h2M12 120.5h1m29 0h1m49 0h1m4 0h1m84 0h2m35 0h1m9 0h2m30 0h1m16 0h2M47 121.5h1m5 0h1m29 0h1m165 0h1M29 122.5h1m116 0h1m30 0h2m24 0h1M49 123.5h1m113 0h1m7 0h1m22 0h2m14 0h1m58 0h2M49 124.5h1m6 0h1m30 0h1m6 0h1m37 0h1m214 0h2M71 125.5h1m145 0h2m71 0h1m47 0h3M28 126.5h1m51 0h1m96 0h2m75 0h1m106 0h2M11 127.5h2m15 0h1m190 0h1m70 0h1M0 128.5h1m127 0h1m18 0h1M125 129.5h2m10 0h1m139 0h1M48 130.5h1m54 0h1m59 0h1m56 0h2m1 0h2m17 0h2m10 0h1M68 131.5h2m8 0h1m72 0h1m40 0h1M55 132.5h1m13 0h1m2 0h1m68 0h1m63 0h2m129 0h2M4 133.5h1m13 0h1m67 0h1m212 0h2M65 134.5h1m90 0h1m40 0h1M6 135.5h1m2 0h1m50 0h1m103 0h1m99 0h2m16 0h2m27 0h2M13 136.5h1m54 0h1m20 0h1m18 0h1m7 0h1m6 0h1m73 0h1m31 0h5m50 0h2m52 0h3M5 137.5h1m136 0h1M41 138.5h1m116 0h1M89 139.5h1m55 0h1m125 0h2M34 140.5h1m48 0h1M6 141.5h1m38 0h1m190 0h1m24 0h1M11 142.5h1m30 0h1m5 0h1m41 0h1m70 0h2m1 0h1M228 143.5h1m21 0h2m113 0h3M117 144.5h1m39 0h1m3 0h2m16 0h1m188 0h2M16 145.5h1m16 0h1m26 0h1m99 0h1m2 0h1m122 0h2m2 0h3m65 0h3M31 146.5h1m118 0h1m81 0h2m50 0h2M9 147.5h1m36 0h1m16 0h1m41 0h1m57 0h1m2 0h1m40 0h1M105 148.5h1m8 0h1m22 0h1m20 0h1m30 0h1m69 0h2M0 149.5h1m119 0h1m198 0h2M52 150.5h1m1 0h1m26 0h1m1 0h1m47 0h1M24 151.5h1m39 0h1m121 0h2m28 0h1m51 0h1M129 152.5h1m56 0h2m9 0h1m134 0h2m34 0h2M64 153.5h1m111 0h1m19 0h1m69 0h3m30 0h2m8 0h2M107 154.5h1m8 0h1m53 0h1m42 0h1m68 0h2m74 0h3M4 155.5h1m44 0h1m31 0h1m125 0h1m34 0h2m69 0h2m19 0h2M18 156.5h1m6 0h1m36 0h1M39 157.5h1m38 0h1m166 0h2m10 0h2m5 0h2M45 158.5h1m4 0h1m85 0h1m238 0h2M74 159.5h1m18 0h1m98 0h1m15 0h2m21 0h1m17 0h1m67 0h2M46 160.5h1m31 0h1m1 0h1m12 0h1m10 0h2m78 0h1m43 0h1M69 161.5h1m12 0h1m22 0h1m97 0h1m55 0h2m12 0h4M34 162.5h1m19 0h1m143 0h2m4 0h1m77 0h2m61 0h2M41 163.5h1m25 0h1m136 0h1m86 0h2m37 0h2M151 164.5h1M0 165.5h1m98 0h1m16 0h1m28 0h1m109 0h4M28 166.5h1m2 0h1m12 0h1m50 0h1m92 0h1m3 0h1m35 0h1m21 0h2m14 0h2m12 0h2m74 0h2m7 0h3M41 167.5h1m129 0h1m9 0h1m10 0h1m120 0h2M35 168.5h1m18 0h1m69 0h1m41 0h1m4 0h1m1 0h2m42 0h2m107 0h4M16 169.5h1m79 0h1m40 0h2m7 0h1m11 0h1m66 0h1M140 170.5h1m51 0h1m4 0h1m63 0h1M124 171.5h1m35 0h1m18 0h1m59 0h1m40 0h2m19 0h2m12 0h2m48 0h3M165 172.5h1m68 0h2m59 0h2M226 173.5h2M293 174.5h2m77 0h3M8 175.5h1m55 0h1m51 0h1m152 0h2M219 176.5h1m14 0h2m134 0h5M58 177.5h1m60 0h1m27 0h1m2 0h1m37 0h1m36 0h1m10 0h1m20 0h2M30 178.5h1m72 0h1m19 0h1m1 0h1m210 0h2M32 179.5h1m12 0h1m52 0h1m87 0h2m67 0h2m81 0h3M79 180.5h1m93 0h2m21 0h1m10 0h1m167 0h2M67 181.5h1m8 0h1m203 0h2M42 182.5h1m298 0h2M7 183.5h1m60 0h1m12 0h1m49 0h1m64 0h1m164 0h2M23 184.5h1m9 0h1m38 0h1m9 0h1m94 0h2m80 0h2M52 185.5h1m273 0h2M61 186.5h1m79 0h1m8 0h1m148 0h2M33 187.5h1m68 0h1M151 188.5h1m220 0h3m7 0h2M31 189.5h1m13 0h1m103 0h1m35 0h1m42 0h1m46 0h2M161 190.5h2m3 0h1m17 0h1M8 191.5h1m15 0h1m20 0h1m158 0h1M3 192.5h1m33 0h1m22 0h1m23 0h1m75 0h1m9 0h1m10 0h1m28 0h1M28 193.5h1m15 0h1m29 0h1m13 0h1m33 0h1M5 194.5h1m7 0h1m12 0h1m20 0h1m6 0h1m10 0h1m32 0h1m26 0h1m160 0h2m84 0h3M27 195.5h1m58 0h1m97 0h1m90 0h2m13 0h1M137 196.5h1m20 0h1m33 0h1m44 0h2m22 0h1m74 0h2m44 0h2M26 197.5h1m11 0h1m125 0h1m154 0h2m59 0h2m7 0h3M36 198.5h1m22 0h1m3 0h1m35 0h1m47 0h1m27 0h1m35 0h2M13 199.5h1m4 0h1m20 0h1m25 0h1m17 0h1m86 0h1m6 0h2m19 0h2m134 0h2m13 0h3M4 200.5h1m15 0h1m2 0h1m27 0h1m49 0h1m14 0h1m49 0h1m58 0h1m75 0h2M117 201.5h1m22 0h1m49 0h2m72 0h2m62 0h2m45 0h2M30 202.5h1m42 0h1m2 0h1m120 0h1m46 0h1M25 203.5h1m46 0h1m44 0h1m31 0h1m8 0h1m23 0h2m52 0h1m13 0h2m53 0h2m29 0h2M1 204.5h1m21 0h1m55 0h1m19 0h1m9 0h1m41 0h1m76 0h1M11 205.5h1m79 0h1m51 0h2m39 0h1m26 0h2m26 0h1m94 0h2M61 206.5h1m23 0h1m32 0h1m74 0h1M41 207.5h1m115 0h1m23 0h1m21 0h1M104 208.5h1m100 0h2m57 0h2m25 0h2m8 0h2M24 209.5h1m13 0h1m20 0h1m47 0h1m37 0h1m42 0h1m15 0h1m34 0h1m40 0h2m86 0h2M82 211.5h1m25 0h1m18 0h1m230 0h3M76 212.5h1M5 213.5h1m42 0h1m41 0h1m14 0h1m2 0h1m64 0h2m6 0h1m82 0h2M6 214.5h1m51 0h1m10 0h1m97 0h2M81 215.5h1m11 0h1m29 0h2m12 0h1m14 0h1m13 0h1m69 0h1m138 0h2M20 216.5h1m7 0h1m182 0h2M105 217.5h1m53 0h1M82 218.5h1m35 0h1m58 0h2m41 0h2m170 0h2M52 219.5h2m51 0h1m14 0h1m42 0h1m5 0h1m6 0h1m23 0h1m33 0h2M26 220.5h1m8 0h1m27 0h1m97 0h2m53 0h1m23 0h2m71 0h2M73 221.5h1m24 0h1m6 0h1m15 0h1m48 0h1m206 0h3M112 222.5h1m9 0h1m114 0h2m8 0h2m24 0h2m90 0h3M21 223.5h1m22 0h1m116 0h2m134 0h2M138 224.5h1m98 0h2M6 225.5h1m82 0h1m59 0h1m143 0h2M11 226.5h2m122 0h1m109 0h2m12 0h2m27 0h2M22 227.5h1m7 0h1m26 0h1m186 0h1M11 228.5h1m37 0h1m41 0h1m34 0h1m105 0h2m59 0h2m35 0h2M12 229.5h1m65 0h1m15 0h1m97 0h1m59 0h2M33 230.5h1M10 231.5h1m37 0h1m6 0h1m87 0h2m7 0h1m99 0h2M27 232.5h1m81 0h1m41 0h1m223 0h2m17 0h3M43 233.5h1m117 0h2m33 0h1M10 234.5h1m50 0h2M16 235.5h1m64 0h1m134 0h1m45 0h2m37 0h2m29 0h2M98 236.5h1m49 0h1m47 0h1m29 0h2M81 237.5h1m298 0h2M95 238.5h1m5 0h1m33 0h1m37 0h2M49 239.5h1m126 0h1m89 0h2M24 240.5h1m145 0h1m23 0h2M62 241.5h1m9 0h1m35 0h1m15 0h1m166 0h2M31 242.5h1m90 0h1m41 0h1m20 0h1m14 0h1m46 0h2m66 0h2M42 243.5h1m8 0h1m141 0h1m22 0h1m47 0h2m31 0h2m85 0h3M42 244.5h1m36 0h1m127 0h1m107 0h2M105 245.5h1m14 0h1m49 0h1m52 0h2m14 0h1M38 246.5h1m46 0h1m2 0h1m80 0h1m77 0h2M110 247.5h1m54 0h1m175 0h2M0 248.5h1m95 0h1m231 0h2M0 249.5h1M4 250.5h1m21 0h1m4 0h1m7 0h1m189 0h2m163 0h3M99 251.5h1m15 0h1m14 0h1m5 0h1m22 0h1m38 0h2M125 252.5h1m8 0h1m91 0h2m6 0h2m52 0h2m29 0h2M49 253.5h1m45 0h1m3 0h1m4 0h1m70 0h1M26 254.5h1m50 0h1m106 0h2m89 0h2m16 0h2m22 0h2m70 0h3M26 255.5h1m91 0h1m130 0h1m2 0h2M10 256.5h1m16 0h1m143 0h1m83 0h2m97 0h2M133 257.5h1m209 0h2M71 258.5h1m2 0h1m13 0h1m10 0h1m65 0h1m53 0h1M100 259.5h1m16 0h1m28 0h1m19 0h1m5 0h1m71 0h1m52 0h2m90 0h3M98 260.5h1m295 0h3M7 261.5h1m30 0h2m39 0h1m177 0h2M45 262.5h1m81 0h1m66 0h2M11 263.5h1m41 0h1m10 0h1m65 0h1m157 0h2m3 0h2m4 0h2m18 0h2M102 264.5h1m116 0h1m42 0h2M0 265.5h1m28 0h1m196 0h2m79 0h2m45 0h2M13 266.5h1m47 0h2m23 0h1m17 0h1m32 0h1M1 267.5h1m52 0h1m55 0h1m126 0h2m10 0h1M117 268.5h1m113 0h1m20 0h2m1 0h2m73 0h2M73 269.5h1m40 0h1m14 0h1m66 0h1m108 0h2M15 270.5h1m18 0h1m36 0h1m6 0h1m7 0h1m37 0h1m3 0h1m20 0h1m51 0h2m129 0h2M16 271.5h1m12 0h1m145 0h1m32 0h2M41 272.5h1m10 0h1m8 0h1m2 0h1m22 0h1m7 0h1m89 0h1m166 0h2M20 273.5h2m172 0h2m94 0h1M26 274.5h1m22 0h1m16 0h1m2 0h1m34 0h1m72 0h2m31 0h1m43 0h1m2 0h2M254 275.5h1m71 0h2M0 276.5h1m111 0h1m12 0h1m15 0h1m24 0h1m23 0h2m5 0h1m46 0h1M43 277.5h1m50 0h1m51 0h1m128 0h2m91 0h2M55 278.5h1m48 0h1m58 0h1M11 279.5h1m13 0h1m37 0h1m4 0h1m183 0h2m14 0h1m89 0h3M35 280.5h1m57 0h1m47 0h1m44 0h2M69 281.5h1m66 0h1m125 0h2m45 0h2M107 282.5h1m137 0h2m76 0h3M57 283.5h1m87 0h1m50 0h1M80 284.5h1m39 0h1M89 285.5h1m26 0h1m23 0h1m40 0h1m89 0h2m4 0h1m60 0h3M52 286.5h1m53 0h1m44 0h1m33 0h1M16 287.5h1m148 0h1M11 288.5h1m17 0h1m19 0h1m130 0h1m140 0h2M72 289.5h1m50 0h1m110 0h2m113 0h3m9 0h2M81 290.5h1m24 0h1m46 0h1M45 291.5h1m65 0h1m137 0h1M18 292.5h1m16 0h1m3 0h1m15 0h1m23 0h1m5 0h1m72 0h1m6 0h1m84 0h2m30 0h2m17 0h2m16 0h2m49 0h2M19 293.5h1m73 0h1m134 0h1M86 294.5h1m155 0h2M10 295.5h1m233 0h1m33 0h2M94 296.5h1m76 0h1m14 0h2m37 0h1M46 297.5h1m31 0h1m26 0h2m57 0h1m4 0h1m160 0h2m43 0h2M79 298.5h1m24 0h1m48 0h1M36 299.5h1m103 0h1m56 0h1m160 0h3m16 0h3M27 300.5h1m41 0h1m18 0h1m2 0h1m163 0h2m106 0h2M7 301.5h1m25 0h1m78 0h1m4 0h1m129 0h2m50 0h2M18 302.5h1m59 0h1m63 0h1m71 0h2m66 0h2m13 0h2M59 303.5h1m24 0h1m47 0h1m15 0h1m113 0h2m9 0h2m97 0h3M111 304.5h1m30 0h1m67 0h1m39 0h2M211 305.5h2m18 0h1M28 306.5h1m40 0h1m46 0h1m120 0h2M41 307.5h1m15 0h1m51 0h1m83 0h1M63 308.5h1m44 0h1m17 0h1m98 0h1M7 309.5h1m23 0h1m34 0h1m58 0h1m46 0h1m3 0h1m11 0h1m5 0h2m59 0h2M47 310.5h1m24 0h1m1 0h1m35 0h1m18 0h1m60 0h2m6 0h2m22 0h1M51 311.5h1m111 0h1m15 0h1m10 0h2m69 0h1m113 0h2M66 312.5h1m12 0h1m121 0h2M45 313.5h1m99 0h1m38 0h1m35 0h2m47 0h2M9 314.5h1m124 0h1m46 0h1m7 0h1m15 0h2m180 0h2M137 315.5h1m114 0h2M17 316.5h1m88 0h1m44 0h1M56 317.5h1m1 0h1m2 0h1M76 318.5h1m133 0h1M1 319.5h1m13 0h1m6 0h1m130 0h1m117 0h2M45 321.5h1m61 0h1m31 0h1m1 0h1m16 0h1m37 0h1m185 0h2M10 323.5h1m17 0h1m41 0h1m76 0h1m29 0h2m49 0h1m88 0h2m35 0h2M10 324.5h1m32 0h1m61 0h1m53 0h1m29 0h1m18 0h2m135 0h2M79 325.5h1m290 0h2M35 326.5h1m30 0h1m10 0h1m12 0h1m39 0h1m5 0h1m24 0h2m10 0h2m190 0h3m16 0h3M22 327.5h1m5 0h1m2 0h1m24 0h1m34 0h1m257 0h5M237 328.5h2m18 0h2M81 329.5h1m66 0h1m223 0h3m7 0h2M90 330.5h1m46 0h1M6 331.5h1m87 0h1m58 0h1m34 0h1m156 0h2M20 332.5h1m14 0h1m64 0h1m18 0h1m23 0h2m109 0h1m66 0h2M20 333.5h1m35 0h1m137 0h2m59 0h2M34 334.5h1m7 0h1m33 0h1m28 0h1m57 0h1m52 0h1m40 0h2M10 335.5h1m2 0h1m10 0h1m50 0h1m28 0h1m23 0h1m17 0h1m1 0h1m71 0h2m49 0h2M120 336.5h1m20 0h1m56 0h2m99 0h2M30 337.5h1m262 0h2m39 0h2M8 338.5h1m240 0h1m27 0h1m2 0h2m27 0h2M71 339.5h1m18 0h1m38 0h1m20 0h1m7 0h1m22 0h1m11 0h1M43 340.5h1m50 0h1m53 0h1m2 0h1m53 0h2m57 0h2m3 0h2M40 341.5h1m62 0h1m146 0h2m12 0h2M18 342.5h1m4 0h1m3 0h1m6 0h1m69 0h1m19 0h1m100 0h1m38 0h2m72 0h3M5 343.5h1m255 0h1M14 344.5h1m76 0h1m11 0h1m82 0h2m129 0h2m49 0h2M0 345.5h1m157 0h1M19 346.5h1m37 0h1m66 0h1m20 0h1M16 347.5h1m30 0h2m5 0h1m42 0h1m95 0h1m144 0h3m36 0h3M74 348.5h1m43 0h1m44 0h1m116 0h2m17 0h2m44 0h2M39 349.5h1m148 0h1m3 0h1m196 0h3M102 350.5h1m66 0h1m37 0h1m34 0h2M3 351.5h1m92 0h1m29 0h1m112 0h1m19 0h2M30 352.5h1m150 0h1m22 0h1m44 0h1m130 0h2M89 353.5h1m28 0h1m228 0h2m19 0h2M51 354.5h1m12 0h1m65 0h1m58 0h1m10 0h1M56 355.5h1m123 0h1m17 0h2m20 0h2m66 0h2m90 0h2M10 356.5h1m9 0h1m29 0h1m52 0h1m99 0h1m27 0h1m5 0h2M7 357.5h1m11 0h1m84 0h1m26 0h1m1 0h1m260 0h3M0 358.5h1m11 0h1m51 0h1m25 0h1m2 0h1m104 0h2m37 0h2m54 0h2m12 0h2m10 0h2M24 359.5h2m6 0h1m5 0h1m3 0h1m11 0h1m56 0h1m4 0h1m186 0h2M8 360.5h1m74 0h1m96 0h1m160 0h2M48 361.5h1m26 0h1m76 0h1m41 0h2m41 0h2m8 0h2m8 0h2m88 0h2M25 362.5h1m15 0h1m30 0h1m230 0h4m25 0h2M55 363.5h1m18 0h3m19 0h1m95 0h1M81 364.5h1m13 0h1m15 0h1m18 0h1m28 0h1m47 0h1M84 365.5h1m105 0h2M122 366.5h1M90 367.5h1m24 0h1m203 0h2M21 368.5h1m9 0h1m148 0h1m19 0h1M21 369.5h1m9 0h1m148 0h1m19 0h1"/>
<path stroke="#355f8d" d="M92 0.5h1m30 0h1m1 0h1m10 0h1m1 0h1m6 0h1M30 1.5h2m25 0h1m66 0h1m57 0h2m68 0h2m36 0h3M157 2.5h1m84 0h2m34 0h2M36 3.5h1m4 0h1m39 0h1m13 0h1m30 0h1m48 0h1m3 0h1M286 4.5h2M108 5.5h1m26 0h1m64 0h1m49 0h2M60 6.5h1m44 0h1m57 0h1M226 7.5h2m38 0h2M13 8.5h1m136 0h1M54 9.5h1m26 0h1m23 0h1m65 0h1m92 0h2M21 10.5h1m7 0h1m57 0h1M64 11.5h1m34 0h1m39 0h2m96 0h2m95 0h2m29 0h3M104 12.5h1m15 0h1m21 0h1m26 0h1m79 0h1M44 13.5h1m20 0h1M67 14.5h1m19 0h1m125 0h1M22 15.5h1m12 0h1m112 0h1m189 0h3M37 16.5h1m105 0h2m32 0h2M26 17.5h1m116 0h2m40 0h1m12 0h2M50 18.5h1m33 0h1m3 0h1m222 0h2M11 19.5h1m46 0h1m65 0h1m20 0h1m19 0h1m53 0h1m141 0h2M132 20.5h2m198 0h2m24 0h3M79 21.5h1m13 0h1m9 0h1m55 0h1m29 0h1m157 0h2m38 0h2M4 22.5h1m3 0h1m18 0h1m35 0h1m41 0h1M61 23.5h1M30 24.5h1m91 0h1m103 0h2M26 25.5h1m78 0h1m12 0h1m7 0h1m117 0h1M177 26.5h2m208 0h2M16 27.5h1m9 0h1m57 0h1m11 0h1m13 0h2m3 0h1m12 0h1m10 0h1m186 0h2M7 28.5h1m87 0h1m58 0h2m105 0h1M116 29.5h1m108 0h1M57 30.5h1m29 0h1m91 0h1m36 0h1M44 31.5h1m38 0h1m31 0h1m49 0h1M124 32.5h1m40 0h1m65 0h1M132 33.5h1M242 34.5h2M40 35.5h1m23 0h1m22 0h1m31 0h1m125 0h2M58 36.5h1m99 0h1m70 0h2M37 37.5h1m143 0h1m19 0h2m90 0h2M86 38.5h1m141 0h1m20 0h1M175 39.5h1m143 0h2M23 40.5h1M22 41.5h1m43 0h1m2 0h1m25 0h1M190 42.5h2M113 43.5h1m103 0h2m109 0h2M7 44.5h1m24 0h1m139 0h1M143 45.5h2m12 0h1m24 0h2m48 0h2m153 0h2M7 46.5h1m134 0h1m11 0h2m55 0h2m121 0h2M0 47.5h1m158 0h1m26 0h2m129 0h2M42 48.5h1m138 0h1m95 0h1m116 0h3M7 49.5h1m13 0h1m93 0h1M9 50.5h1m21 0h1M33 51.5h1m1 0h1m125 0h2M84 52.5h1M78 53.5h1m15 0h1m28 0h1m37 0h2m60 0h2m74 0h2M26 54.5h1m8 0h1m4 0h1m14 0h1m73 0h1m40 0h1m58 0h2m8 0h1M17 55.5h1m127 0h1m76 0h1m27 0h2m5 0h2M41 56.5h1m11 0h1m27 0h1m42 0h1M225 57.5h1M27 58.5h1m32 0h1m116 0h2m18 0h1m18 0h1M11 59.5h1m20 0h1m91 0h1m8 0h1M193 60.5h1m174 0h2M22 61.5h1m54 0h1m75 0h1M29 62.5h1m21 0h1m29 0h1m31 0h1m123 0h2M35 63.5h1m52 0h1m27 0h1m76 0h1m115 0h2M70 64.5h1m9 0h1m66 0h1m41 0h1m17 0h1m78 0h2m66 0h2M86 66.5h1m232 0h2m47 0h2M39 67.5h1m121 0h2M27 68.5h2M146 69.5h1m46 0h1m37 0h1M86 70.5h1m50 0h1m59 0h1M112 71.5h1m141 0h1M9 72.5h1m25 0h1m7 0h1m40 0h1m120 0h2m138 0h2M85 73.5h1m4 0h1M4 74.5h1m9 0h1m2 0h1m79 0h1m73 0h1M145 75.5h1m29 0h1m50 0h2m21 0h1m14 0h2M10 77.5h1m59 0h1M4 78.5h1m80 0h1m1 0h1m84 0h1m31 0h1m27 0h2M17 79.5h1m16 0h1m117 0h1m7 0h3M40 80.5h1m30 0h1m105 0h2m31 0h1M185 81.5h1m28 0h2m53 0h2m61 0h2m7 0h2M247 82.5h2M112 83.5h1m7 0h1m119 0h2m26 0h1M34 84.5h1m157 0h1m32 0h1m11 0h2m25 0h2m55 0h2M75 85.5h1m53 0h1m200 0h2M138 86.5h1m19 0h1m8 0h2m150 0h2M12 87.5h1m14 0h1m23 0h1m1 0h1m54 0h1m92 0h2m114 0h2m58 0h3M180 88.5h1M16 89.5h1M118 90.5h1m167 0h2M28 91.5h1m44 0h1m8 0h1m153 0h1M38 92.5h1m145 0h1m156 0h2M25 93.5h1m86 0h1m76 0h1m33 0h2M34 94.5h1m66 0h1m213 0h2m48 0h3M24 95.5h1m47 0h1m12 0h1m9 0h1m1 0h1M147 96.5h1m46 0h2m43 0h1m144 0h3M1 97.5h1m133 0h1m113 0h1M86 98.5h1m24 0h1m1 0h1M22 99.5h1m10 0h1m40 0h1m7 0h1m75 0h1M38 100.5h1m1 0h1m50 0h1M15 101.5h1m125 0h1m151 0h2M34 102.5h1m210 0h2m37 0h2m11 0h2m37 0h2M16 103.5h1m71 0h1m22 0h1m18 0h1m46 0h2m25 0h1m175 0h2M39 104.5h1m60 0h1m8 0h1m15 0h1m119 0h2m31 0h2M114 105.5h1m176 0h4M110 106.5h1m12 0h1m4 0h1m37 0h1m59 0h2M74 107.5h1m22 0h1m163 0h1m22 0h2m9 0h2m16 0h2M66 108.5h1m70 0h1m50 0h1m203 0h2M142 109.5h1m215 0h3M60 110.5h1m86 0h1m9 0h1m55 0h1m25 0h1M80 111.5h1m68 0h1m19 0h1m5 0h1M75 112.5h1m29 0h1m19 0h1m40 0h1m152 0h2M151 113.5h1M21 114.5h1m232 0h1M76 115.5h1m133 0h1m125 0h2M37 116.5h1m2 0h1m54 0h1m62 0h1m49 0h2m49 0h2m3 0h2m11 0h1M1 117.5h1m3 0h1m2 0h1m10 0h1m69 0h1m198 0h2M26 118.5h1m12 0h1m2 0h1m11 0h1m192 0h2m1 0h2m9 0h1M74 119.5h1m261 0h2M70 120.5h1m34 0h1m2 0h1m2 0h1m14 0h1m61 0h1m99 0h2m25 0h2M24 121.5h1m17 0h1m25 0h1m33 0h1m210 0h2M12 122.5h1m70 0h1m14 0h1m5 0h1m118 0h2m116 0h2M0 123.5h1m121 0h1m44 0h2m88 0h2M170 124.5h1m29 0h1M36 125.5h1m37 0h1m56 0h1m41 0h2m17 0h1m161 0h2M12 126.5h1m42 0h1m28 0h1m122 0h1m8 0h1M39 127.5h1m182 0h1m14 0h2m29 0h1m50 0h2M54 128.5h1m54 0h1M159 129.5h1m43 0h1m16 0h2m56 0h2M0 130.5h1m39 0h1m155 0h1m17 0h2M220 131.5h2m91 0h2m4 0h2M22 132.5h1m40 0h1m52 0h1m228 0h2M11 133.5h1m105 0h1m269 0h2M53 134.5h1m59 0h1m2 0h1m125 0h2m31 0h2M104 135.5h1M152 136.5h1m10 0h1M82 137.5h1m9 0h1m39 0h1M88 138.5h1m202 0h2m87 0h2M60 139.5h1m68 0h1m52 0h2m65 0h1M50 140.5h1m72 0h1m104 0h1M30 141.5h1m25 0h1m5 0h1m25 0h1m12 0h1m45 0h1m41 0h1m38 0h1m16 0h2M30 142.5h1m351 0h2M52 143.5h1m38 0h1M91 144.5h1m46 0h1m224 0h2M53 145.5h1m38 0h1m25 0h1m143 0h2m111 0h2M70 146.5h1m17 0h1m60 0h1M35 147.5h1M118 148.5h1m37 0h1m97 0h1m48 0h2M135 149.5h1M176 150.5h1m21 0h2m128 0h2M9 151.5h1m67 0h1m20 0h1m57 0h1m39 0h1m65 0h2m77 0h2M9 152.5h1m24 0h1m90 0h1m2 0h1m17 0h1m47 0h2M118 153.5h1m33 0h1m41 0h2M36 154.5h1m1 0h1M67 155.5h1m227 0h2M48 156.5h1m20 0h1m76 0h1M20 157.5h1m11 0h1m211 0h1m4 0h1m57 0h2M92 158.5h1m103 0h1m14 0h2m121 0h2M3 159.5h1m2 0h1m95 0h1m77 0h1M29 160.5h1m210 0h2m55 0h2M49 161.5h1m1 0h1m228 0h2m19 0h2m69 0h3M38 162.5h1m166 0h2M52 163.5h1m27 0h1m142 0h2m4 0h2M86 164.5h1m20 0h1m53 0h2m7 0h1m29 0h1M229 165.5h2m31 0h2M13 166.5h1M19 167.5h1m76 0h1m50 0h1m151 0h2M44 168.5h1m152 0h1m174 0h3M123 169.5h1m18 0h1m62 0h2m92 0h2m37 0h3m2 0h2M293 170.5h4M62 171.5h1m45 0h1m73 0h2m133 0h2M38 172.5h1m30 0h1m2 0h1m200 0h2m28 0h2m29 0h2m46 0h2M58 173.5h1m54 0h1m32 0h1M52 174.5h1m19 0h1m3 0h1m68 0h1m108 0h1M27 175.5h1m61 0h1m38 0h1m18 0h1m83 0h1m71 0h2M205 176.5h2m35 0h2M43 177.5h1m47 0h1m134 0h2m126 0h2m28 0h3M59 178.5h1m8 0h1m250 0h2M44 179.5h1m6 0h2m48 0h1m24 0h1m43 0h1m29 0h1M49 180.5h1m88 0h1m166 0h2m61 0h2M96 181.5h1m79 0h1m30 0h1m128 0h2M10 182.5h1m12 0h1m11 0h1m18 0h1m26 0h1m119 0h2M12 184.5h1m54 0h1m42 0h1m79 0h2m45 0h2m6 0h2m114 0h2M55 185.5h1m132 0h1m34 0h2M15 186.5h1m30 0h1m82 0h1m37 0h2M72 187.5h2m4 0h1m98 0h2m78 0h2M5 188.5h1m38 0h1m162 0h1M34 189.5h1m44 0h1m160 0h2m123 0h3M8 190.5h1m46 0h1m151 0h1m95 0h2M82 191.5h1m58 0h1m89 0h1m10 0h2M82 192.5h1m114 0h1m25 0h2m14 0h1M113 193.5h1m47 0h2m99 0h2m72 0h2M394 194.5h3M0 195.5h1m12 0h1M25 196.5h1m7 0h1m45 0h1m37 0h1m168 0h2M141 197.5h1m105 0h2M7 198.5h1m21 0h1m217 0h2M62 199.5h1m312 0h2m7 0h3M76 200.5h1m58 0h1m14 0h1m162 0h2m28 0h2M9 201.5h1m5 0h1m18 0h1m8 0h1m16 0h1m93 0h2m1 0h1m19 0h2m147 0h2M61 202.5h1M19 203.5h1m47 0h1m44 0h1M201 204.5h2M0 205.5h1m89 0h1M30 206.5h1m82 0h1m17 0h1m117 0h1m142 0h2M194 207.5h2m193 0h3M50 208.5h1m94 0h1m140 0h2M39 209.5h2m47 0h1m237 0h2M85 210.5h1m18 0h1M278 211.5h2M145 212.5h1m116 0h2m29 0h2m28 0h3M26 213.5h1m142 0h1m200 0h2M32 214.5h1m33 0h1m58 0h1m62 0h1m174 0h2M47 215.5h1m37 0h1m223 0h2m23 0h2M131 216.5h1m8 0h1m17 0h1m34 0h1M7 217.5h1m2 0h1M50 218.5h1m5 0h1m34 0h1m38 0h1m7 0h1M229 219.5h2m134 0h3M11 220.5h1m25 0h1m72 0h1m38 0h1m118 0h1M109 221.5h1m18 0h1m18 0h1m163 0h2m74 0h2M75 222.5h1m152 0h1m59 0h2m99 0h3M30 223.5h1m192 0h2M35 224.5h1m122 0h1m52 0h2M57 225.5h1m85 0h2m52 0h1m34 0h2m63 0h2M40 226.5h1m62 0h1m69 0h2m30 0h2m18 0h1M56 227.5h1m157 0h2m89 0h2m40 0h2M138 228.5h1m152 0h2M19 229.5h1m52 0h1m48 0h1m42 0h1m169 0h2M117 230.5h1m119 0h2m29 0h1M123 231.5h1m145 0h2m101 0h3M14 232.5h1m14 0h1m60 0h1m101 0h1M8 233.5h1m21 0h1m105 0h1m74 0h2m162 0h2M48 234.5h1m205 0h1m33 0h2m85 0h2m7 0h3M78 235.5h1m25 0h1m47 0h1m89 0h2m6 0h2m111 0h2M28 236.5h1m230 0h2M40 237.5h1m4 0h1m2 0h1m167 0h1m100 0h2M94 238.5h1m2 0h1m51 0h1m47 0h1m54 0h2m49 0h2M130 239.5h1m12 0h2m59 0h1m112 0h2M32 240.5h1m3 0h1m26 0h1m120 0h1m92 0h1M35 241.5h1m78 0h1m32 0h1m17 0h1m93 0h2M39 242.5h1M48 243.5h1m61 0h1M41 245.5h1m105 0h1m89 0h2M349 246.5h3M36 247.5h1m310 0h2M19 248.5h1m73 0h1m20 0h1m122 0h2M24 249.5h1m10 0h1m5 0h1m85 0h1m79 0h1m47 0h2M13 250.5h1m138 0h1m28 0h1m129 0h2M69 251.5h1M217 252.5h2M15 253.5h1m195 0h2m128 0h2M133 254.5h1m144 0h2m114 0h3M116 255.5h1M44 256.5h1m134 0h1m117 0h2m93 0h5M176 257.5h1m120 0h2M68 258.5h1m20 0h1m21 0h1m49 0h2m99 0h2m39 0h2M116 259.5h1m60 0h2m114 0h2M13 260.5h1m151 0h1m13 0h1m34 0h2m20 0h1m20 0h2m109 0h2M35 261.5h1m121 0h1M84 262.5h1m26 0h1m51 0h1m73 0h2M81 263.5h1m3 0h1m100 0h2M20 264.5h1m16 0h1m19 0h1m78 0h1m6 0h2m11 0h1m2 0h1m131 0h2m77 0h2M52 265.5h1m16 0h1m1 0h1m5 0h1m78 0h1M102 266.5h1m67 0h1m17 0h1m27 0h1M37 267.5h1m281 0h2M63 268.5h1m57 0h1m26 0h1m16 0h1m6 0h3m48 0h2M39 269.5h1m35 0h1m166 0h2m82 0h2M19 270.5h1m222 0h2m11 0h2m66 0h3M87 271.5h1m69 0h1m168 0h2M11 272.5h1m71 0h1m32 0h1m34 0h1m45 0h1m39 0h2m58 0h2M18 273.5h1m53 0h1m75 0h1m22 0h1m56 0h1M56 274.5h1m124 0h1m32 0h2M13 275.5h1M106 276.5h1m60 0h2m213 0h2M62 277.5h1m51 0h1m20 0h1m3 0h1m247 0h2M91 278.5h1m39 0h1m7 0h1m8 0h1m31 0h1M13 279.5h1m85 0h1m77 0h2m21 0h1M16 280.5h1m26 0h1m115 0h1m124 0h2M4 281.5h1m42 0h1m310 0h3M24 282.5h1m15 0h1m113 0h2m33 0h1m90 0h2m61 0h2M128 283.5h1m209 0h3M7 284.5h1m27 0h1m72 0h1m50 0h2m4 0h2m185 0h2M33 285.5h1m9 0h1m44 0h1m20 0h1m86 0h1m118 0h2m30 0h2M10 286.5h1m21 0h1m8 0h1m121 0h1m100 0h2m66 0h2m15 0h3M67 287.5h1m262 0h2M61 288.5h1m27 0h1m181 0h2m42 0h2M22 289.5h1m57 0h1m2 0h1M25 290.5h1m119 0h1m19 0h1m3 0h1m56 0h2m85 0h2M18 291.5h1M20 292.5h1m12 0h1m56 0h1m2 0h1m33 0h2m85 0h2m164 0h2M201 293.5h2M16 294.5h1m38 0h1m178 0h2M41 295.5h1m36 0h1m9 0h1m163 0h2m15 0h2M41 296.5h1m26 0h1m79 0h1m120 0h2M74 297.5h1m22 0h1m28 0h1m166 0h2M70 298.5h1m50 0h1M368 299.5h2M280 300.5h2m13 0h2m59 0h2M225 301.5h1m49 0h2M24 302.5h1m2 0h1m126 0h2m89 0h2M7 303.5h1m53 0h1m15 0h1m8 0h1m36 0h1m166 0h1m43 0h2m39 0h2M135 304.5h1m241 0h3M119 305.5h1m20 0h1m116 0h2m93 0h2M86 306.5h1m42 0h1m96 0h2m40 0h1M3 307.5h1m82 0h1m188 0h2M56 308.5h1m156 0h1M30 309.5h1m31 0h1m260 0h3m10 0h2M211 310.5h2M67 311.5h1m62 0h1m137 0h1m42 0h2M21 312.5h1m35 0h1m39 0h1m22 0h1m9 0h1m39 0h1m18 0h1m39 0h2m74 0h2M27 313.5h1m39 0h1m3 0h1m92 0h1M31 314.5h1m8 0h1m70 0h1m41 0h1m7 0h2m9 0h1m28 0h2M3 315.5h1m111 0h1m92 0h2M6 316.5h1m23 0h1m36 0h1M90 317.5h1m37 0h1m6 0h1m28 0h1m52 0h2m86 0h2m82 0h3M75 318.5h1m152 0h1M67 319.5h1m23 0h1m16 0h1m43 0h1m124 0h1M25 320.5h1m20 0h1m113 0h1m56 0h2m146 0h3M35 321.5h1m3 0h1m54 0h1m7 0h1m30 0h1m192 0h2M113 322.5h1m28 0h1m33 0h1m138 0h2m2 0h4M130 323.5h1m40 0h1m1 0h2m105 0h2m6 0h2M9 324.5h1m66 0h1m34 0h1m263 0h2M28 326.5h1m138 0h2M122 327.5h1m31 0h2m94 0h2M47 328.5h1m47 0h1m175 0h2m107 0h2m5 0h2M141 329.5h1m44 0h2m20 0h2m49 0h2m91 0h2M99 330.5h1M54 331.5h1m145 0h1M60 332.5h1m22 0h1m64 0h1m54 0h1m10 0h2m36 0h2M4 333.5h1m53 0h1m29 0h1M56 334.5h1m27 0h1m19 0h1m5 0h1m234 0h2M1 335.5h1m51 0h1m106 0h1M90 336.5h1m38 0h1M40 337.5h1m40 0h1m20 0h1m91 0h2M30 338.5h1m33 0h1m40 0h1m18 0h1m194 0h2m31 0h2M75 340.5h1m93 0h1M101 341.5h1M254 342.5h1m11 0h2M70 343.5h1m25 0h1M10 344.5h1m96 0h1M140 345.5h1m147 0h3M38 346.5h1m77 0h1m3 0h1m20 0h1M4 347.5h1m17 0h1m171 0h2m95 0h4m33 0h2M36 348.5h1m49 0h1M13 349.5h1m12 0h1m235 0h2M38 350.5h1m127 0h1M7 352.5h1m40 0h1m8 0h1m255 0h2m30 0h2m21 0h2M71 353.5h1m6 0h1m3 0h1m29 0h1m3 0h1m35 0h1m1 0h2m15 0h1M8 354.5h1m11 0h1m28 0h1m23 0h1m103 0h2m2 0h1m80 0h2M35 355.5h1m105 0h1m12 0h2m25 0h1m2 0h1M70 356.5h1m178 0h1M22 357.5h1m67 0h1m116 0h1m124 0h2M30 358.5h1m21 0h1M34 359.5h1m55 0h1m21 0h1m132 0h2m76 0h3m35 0h2M46 360.5h1m39 0h1M9 361.5h1m11 0h1m112 0h1m96 0h1m113 0h2M32 362.5h1m78 0h1m24 0h1m141 0h2M118 363.5h1m3 0h1m61 0h1M55 364.5h1m4 0h1m32 0h1m298 0h2M35 365.5h1m53 0h1m242 0h2M85 366.5h1m85 0h1M57 367.5h1m194 0h2m89 0h2M4 368.5h1m7 0h1m104 0h1m43 0h2m23 0h2m8 0h1m1 0h2m4 0h1m184 0h3M4 369.5h1m7 0h1m104 0h1m43 0h2m23 0h2m8 0h1m1 0h2m4 0h1m184 0h3"/>
<path stroke="#2f6c8e" d="M71 0.5h1m153 0h1M119 1.5h1M31 2.5h1m185 0h2M129 3.5h1m15 0h1M165 4.5h1m111 0h1M22 5.5h1m16 0h1M137 6.5h1m200 0h3m53 0h3M9 7.5h1m65 0h1M69 8.5h1M55 9.5h1m18 0h1m14 0h1m1 0h1M3 11.5h1m118 0h1m75 0h2m49 0h1M132 13.5h1m104 0h2m129 0h2M16 14.5h1M5 15.5h1M136 16.5h1m132 0h2m9 0h2M234 17.5h2M83 19.5h1m13 0h1m105 0h1M71 21.5h1m35 0h1m27 0h1M123 22.5h1m183 0h2m25 0h2M181 23.5h1m60 0h2m133 0h3M69 24.5h1m23 0h1m75 0h1m20 0h2M87 25.5h1m34 0h1M32 26.5h1m19 0h1m27 0h1M179 27.5h1m1 0h1M92 28.5h1m23 0h1m125 0h2M33 29.5h1m147 0h1m79 0h1m13 0h2m75 0h2M70 30.5h1m130 0h2m189 0h2M16 31.5h1m79 0h1m128 0h1m18 0h1M22 32.5h1m15 0h1m100 0h1m10 0h1M133 33.5h1M35 34.5h1m14 0h1m112 0h1m228 0h2M82 35.5h1m136 0h1m48 0h1m125 0h3M9 36.5h1m66 0h1m31 0h1m114 0h2m92 0h2m35 0h2M14 37.5h1m56 0h1m17 0h1M22 38.5h1m15 0h1m42 0h2m34 0h1m159 0h1M80 39.5h1M24 40.5h1M217 41.5h2m13 0h2M36 42.5h1m80 0h1M79 43.5h1m77 0h1m224 0h2M27 44.5h1m36 0h1M20 45.5h1m43 0h1m11 0h1M145 46.5h1M11 47.5h1m71 0h1m37 0h1m189 0h2M269 48.5h2m61 0h2M49 49.5h1m195 0h2m68 0h2M60 50.5h1m88 0h1m47 0h1M3 51.5h1m42 0h1m40 0h1m115 0h1M76 52.5h1m55 0h1m17 0h1m1 0h1m154 0h2M100 53.5h1m62 0h1M74 54.5h1m167 0h2M84 55.5h1M67 56.5h1m77 0h1M64 57.5h1m169 0h2m111 0h2M49 58.5h1m157 0h1m42 0h2m63 0h2M193 59.5h1M0 60.5h1m163 0h1M38 61.5h1m141 0h1M67 62.5h1m46 0h1m96 0h2m3 0h1m102 0h2M49 63.5h1m24 0h1m236 0h2M352 64.5h2M83 65.5h1m75 0h1m3 0h1M18 66.5h1m161 0h1m17 0h2m143 0h2M167 67.5h2m19 0h1m53 0h2M133 68.5h1m27 0h2m193 0h2M141 69.5h1m24 0h1m22 0h1m199 0h3M82 70.5h1m82 0h1M7 71.5h1m28 0h1m28 0h1m115 0h1m102 0h2M34 72.5h1m212 0h2M159 73.5h1M149 74.5h1M69 76.5h1m167 0h2m93 0h2M106 77.5h1m47 0h2m21 0h2m47 0h2M13 78.5h1m7 0h1m11 0h1m77 0h1M180 79.5h1m175 0h2M166 80.5h1m25 0h1m10 0h1m25 0h2m24 0h2M64 81.5h1m83 0h1m67 0h1M104 82.5h1m3 0h1m29 0h1m116 0h2M60 84.5h1m135 0h1m17 0h2M73 85.5h1m102 0h1M78 86.5h1m291 0h2M8 87.5h1M80 88.5h1m51 0h1M5 89.5h1m244 0h2M288 90.5h2M52 91.5h1m41 0h1m42 0h1m114 0h2m135 0h3M154 92.5h2M110 93.5h1m48 0h1m25 0h1m198 0h3M35 94.5h1m85 0h1m8 0h1m188 0h2M101 95.5h1m48 0h1m77 0h1m127 0h2M290 96.5h1M17 97.5h1m35 0h1m13 0h1m102 0h1M36 98.5h1m10 0h1m129 0h2m57 0h1M129 99.5h1M12 100.5h1m10 0h1m31 0h1m157 0h1M42 101.5h1m47 0h1m59 0h1m43 0h2M14 102.5h1m166 0h1m3 0h1m10 0h1M10 103.5h1m215 0h2M44 104.5h1m75 0h1m123 0h1m78 0h3M98 105.5h1m20 0h2m25 0h1M92 106.5h1M158 107.5h1m69 0h1M126 108.5h1M225 109.5h1M1 110.5h1m35 0h1m39 0h1m276 0h2M71 111.5h1m38 0h1m15 0h1m50 0h2M33 112.5h1m160 0h2m160 0h2M161 113.5h2m69 0h2m44 0h2M103 115.5h1m121 0h1m81 0h2m17 0h2m4 0h2M185 116.5h1m85 0h2m109 0h2M82 117.5h1m88 0h1m191 0h2M343 118.5h2M158 120.5h1m44 0h1M4 123.5h1m1 0h1m70 0h1m2 0h1m75 0h1m206 0h2M182 124.5h2m13 0h1M151 125.5h1M14 127.5h1m32 0h1m31 0h1m133 0h1M28 128.5h1m40 0h1m21 0h1m75 0h2m20 0h1m24 0h2m38 0h1m50 0h2M354 129.5h2M208 131.5h2M130 132.5h1m80 0h2M250 133.5h2M10 134.5h1m115 0h1M63 135.5h1m328 0h2M23 136.5h1m67 0h1M89 137.5h1M87 138.5h1m185 0h2M28 139.5h1m197 0h2M40 140.5h1m20 0h1m135 0h1m101 0h2M68 141.5h1m67 0h1m140 0h1M5 142.5h1m3 0h1m3 0h1M100 143.5h1m1 0h1m7 0h1m59 0h1M349 144.5h3M32 145.5h1m34 0h1M69 146.5h1m179 0h1m61 0h2M80 147.5h1m6 0h1m69 0h1m145 0h2M77 149.5h1m69 0h1m75 0h2m116 0h2M0 150.5h1m126 0h1M28 151.5h1m11 0h1m16 0h1m58 0h1m142 0h2M14 152.5h1m1 0h1m135 0h1m72 0h1M85 153.5h1M31 154.5h1m256 0h2M1 155.5h1m187 0h1M323 156.5h3m28 0h2M1 157.5h1m78 0h1M286 158.5h2m31 0h2m42 0h2M73 159.5h1m41 0h1M32 160.5h1m68 0h1m54 0h1M140 161.5h1m39 0h1m87 0h1M2 162.5h1m162 0h1m41 0h1M7 163.5h1m53 0h1M27 164.5h1m87 0h1m207 0h3M1 165.5h1m295 0h2M128 166.5h1m96 0h1m58 0h2M49 167.5h1m130 0h1m74 0h2m4 0h1M1 168.5h1m137 0h1m80 0h2m73 0h2M19 169.5h1m56 0h2m116 0h2M31 170.5h1m72 0h1m15 0h1m7 0h1m57 0h2m150 0h3M58 171.5h1m130 0h1M82 172.5h1m33 0h1m60 0h2M47 173.5h1m3 0h1m16 0h1m116 0h1m34 0h2M33 175.5h1m273 0h2M347 176.5h2M358 177.5h3M81 178.5h1m32 0h1m3 0h1m29 0h1m54 0h1m48 0h2M143 179.5h2M63 180.5h1m4 0h1m56 0h1m58 0h1M135 181.5h1m24 0h1m58 0h1M1 182.5h1m65 0h1m95 0h1m78 0h2M47 183.5h1m123 0h1m67 0h1M37 184.5h1m51 0h1m187 0h1M305 185.5h2m68 0h2M10 186.5h1m128 0h1M99 187.5h1m15 0h1m129 0h2M17 188.5h1m147 0h1M48 190.5h1m44 0h1m17 0h1M84 191.5h1m24 0h1m36 0h1M122 192.5h1m15 0h1M20 193.5h1m49 0h1m106 0h2M153 194.5h1m145 0h2M51 195.5h1m52 0h1M65 196.5h1m35 0h1m44 0h1M83 198.5h1m11 0h1m54 0h1M107 199.5h2m79 0h1m34 0h2M51 201.5h1M121 203.5h1M13 204.5h1m63 0h1m12 0h1m26 0h1m3 0h1m181 0h2M5 205.5h1m89 0h1m104 0h1M115 206.5h1m4 0h1m188 0h2M127 208.5h1m65 0h1m2 0h1m34 0h1M63 209.5h1m3 0h1M2 210.5h1m183 0h2M85 211.5h1m169 0h2M52 212.5h1m14 0h1M125 213.5h1M141 214.5h1m19 0h2M0 215.5h1m142 0h2m105 0h2M36 216.5h1m27 0h1m28 0h1m39 0h1m12 0h1m6 0h1m72 0h2m75 0h4M37 217.5h1m21 0h1m124 0h1m38 0h2M21 218.5h1m129 0h1M179 220.5h1M26 221.5h1m261 0h2m11 0h2M4 222.5h1m2 0h1m61 0h1m11 0h1m41 0h1m36 0h1m27 0h1m50 0h1M35 223.5h1m26 0h1m85 0h1M8 224.5h1m171 0h1M62 225.5h1m24 0h1m35 0h1m95 0h1M60 226.5h1m76 0h1M25 227.5h1m2 0h1m19 0h1M112 228.5h1m47 0h1m2 0h1m72 0h1M30 229.5h1m208 0h1M53 231.5h1m8 0h1M44 232.5h1m90 0h1M11 233.5h1m4 0h1m57 0h1m78 0h1m238 0h2M85 234.5h1m47 0h1m2 0h1M15 235.5h1m35 0h1m284 0h2M55 236.5h1m40 0h1M18 237.5h1m5 0h1m151 0h1m30 0h1M10 238.5h1m14 0h1m36 0h1m3 0h1m23 0h1m41 0h1m195 0h2M358 239.5h3M164 240.5h1m25 0h2m12 0h1M255 241.5h2M239 242.5h3M127 243.5h1m6 0h1m17 0h1M78 244.5h1m14 0h1M121 245.5h1M39 246.5h1m275 0h2M74 247.5h1m156 0h1M158 248.5h1m33 0h1M220 249.5h2M213 250.5h3m173 0h3M44 251.5h1m165 0h1M17 252.5h1m16 0h1m141 0h1m27 0h1m9 0h2M1 253.5h1m192 0h2m12 0h2M111 254.5h1m280 0h2M94 255.5h1m66 0h2m156 0h2M30 256.5h1m65 0h1M124 257.5h1m130 0h2m118 0h2M67 258.5h1m11 0h1m95 0h1M13 259.5h1m77 0h1m17 0h1m24 0h1m30 0h1M61 260.5h1m73 0h1m28 0h1m2 0h2M249 261.5h1M44 262.5h1m19 0h1m35 0h1M103 263.5h1m15 0h1m109 0h2m139 0h2M15 264.5h1m5 0h1m63 0h1M139 265.5h1m20 0h1M97 266.5h1m30 0h1M74 267.5h1m78 0h1m180 0h2M18 268.5h1m126 0h1m96 0h2M55 269.5h1m31 0h1m233 0h2M142 270.5h1M111 271.5h1m17 0h1m20 0h1m126 0h1M5 272.5h1m15 0h1M0 273.5h1m33 0h1m5 0h1m12 0h1M62 274.5h1m32 0h1m10 0h1M0 275.5h1m56 0h1m95 0h1m47 0h2m79 0h2m65 0h3M21 276.5h1m93 0h1m13 0h1M231 277.5h1M132 278.5h1m81 0h2M41 279.5h1m2 0h1m116 0h2M111 280.5h1m31 0h2m126 0h2m88 0h2M134 281.5h1m197 0h2M223 282.5h2M102 283.5h1M85 284.5h1m75 0h2M50 285.5h1m240 0h2M51 286.5h1M217 287.5h2M57 288.5h1m24 0h1m299 0h2M50 289.5h1m94 0h1m14 0h1m2 0h1M29 290.5h1m124 0h2M28 291.5h1m303 0h2M67 292.5h1m132 0h1m39 0h2m96 0h3M207 293.5h1m78 0h2M247 294.5h2M255 295.5h2m97 0h2M8 296.5h1m9 0h1m91 0h1m35 0h1m30 0h2M42 297.5h1m230 0h2m9 0h2M171 298.5h1M56 299.5h1m52 0h1m185 0h2m2 0h2M64 300.5h1M34 301.5h1m84 0h1m141 0h1M94 302.5h1m173 0h1M247 303.5h2m29 0h2M17 304.5h1m107 0h1m191 0h2M34 305.5h1M25 306.5h1m81 0h1m28 0h1m180 0h2M33 307.5h1m105 0h1M34 308.5h1m162 0h1M264 309.5h2m49 0h2M97 310.5h1m166 0h2M5 311.5h1m143 0h1m191 0h2M288 312.5h2M334 313.5h2m20 0h2M4 314.5h1m109 0h1m10 0h1m23 0h1m8 0h1m14 0h2m59 0h2m118 0h2M6 315.5h1m160 0h2m97 0h2m51 0h2M24 316.5h1m112 0h1M106 317.5h1M181 319.5h1M135 320.5h1M244 321.5h3M52 322.5h1m31 0h1m22 0h1m114 0h1m45 0h1M19 323.5h1m35 0h1m2 0h1m38 0h1m51 0h1m140 0h1M217 324.5h2m61 0h2M75 325.5h1m318 0h3M179 326.5h1m165 0h2M48 327.5h1m67 0h1m52 0h1M30 328.5h1m173 0h1m125 0h2M8 330.5h1m16 0h1m5 0h1m66 0h1m132 0h1M46 331.5h1m16 0h1m24 0h1m17 0h1m49 0h2m222 0h2M26 332.5h1m62 0h1m20 0h1M301 333.5h2m2 0h2M3 334.5h1m186 0h2m52 0h1M45 335.5h1m129 0h1M56 336.5h1m115 0h1M73 337.5h1m160 0h2M86 338.5h1M266 339.5h2M96 340.5h1m32 0h1m120 0h2M19 341.5h1m121 0h1m124 0h2M54 342.5h1m26 0h1m147 0h2m137 0h2M61 343.5h1M139 344.5h1m25 0h1m5 0h1m101 0h2M29 345.5h1m75 0h1m64 0h1m25 0h1m168 0h3M70 346.5h1m211 0h2m59 0h2M26 347.5h1M18 348.5h1m51 0h1m17 0h1m226 0h2M36 349.5h1M53 350.5h1m107 0h2m41 0h1m94 0h2m93 0h3M78 351.5h1m33 0h1m69 0h2M5 353.5h1m49 0h1m43 0h1M41 354.5h2m49 0h1m76 0h1m46 0h1m42 0h2M58 355.5h1m62 0h1m197 0h2m61 0h2M119 356.5h1M15 358.5h1m28 0h1m169 0h2M13 359.5h1m46 0h1m121 0h2m184 0h2M67 360.5h1m14 0h1m228 0h2M148 361.5h1m2 0h1m8 0h1M55 362.5h1m203 0h2M104 363.5h1m126 0h1m45 0h1M69 364.5h1m70 0h1m172 0h2M15 365.5h1m20 0h1m224 0h1M39 366.5h1M69 368.5h1m13 0h1M69 369.5h1m13 0h1"/>
<path stroke="#2a788e" d="M24 0.5h1M20 1.5h1m120 0h1M2 2.5h1M30 3.5h1m244 0h2M190 5.5h2m57 0h1M158 6.5h1m91 0h2M73 7.5h1M76 8.5h1m149 0h2M60 9.5h1M105 11.5h1M15 12.5h1m36 0h1m22 0h1m36 0h1m186 0h2M154 14.5h2M291 15.5h2M125 16.5h1m60 0h2M5 17.5h1m301 0h2M128 18.5h1M33 19.5h1M185 20.5h1M210 21.5h1m75 0h2M18 22.5h1m271 0h1M47 23.5h1M211 24.5h2m167 0h2M29 27.5h1m173 0h1M138 28.5h1m14 0h1M98 30.5h1m114 0h1m64 0h2M172 31.5h3M23 32.5h1m32 0h1m60 0h1m12 0h1m2 0h1m17 0h1m216 0h2M22 33.5h1m104 0h1M69 34.5h1m79 0h1M28 35.5h1m68 0h1m10 0h1M56 36.5h1m96 0h1M10 37.5h1m366 0h3M83 39.5h1m130 0h2M14 40.5h1m3 0h1M2 41.5h1m369 0h3M86 43.5h1M62 45.5h1m11 0h1m46 0h1M150 48.5h1M19 49.5h1m122 0h1M32 50.5h1m88 0h1m239 0h2M164 51.5h1m24 0h1M139 52.5h1m86 0h2M54 53.5h1m229 0h2M77 54.5h2M177 55.5h2M34 57.5h1m19 0h1m242 0h2M39 58.5h1m93 0h1m77 0h2m31 0h1M39 59.5h1M11 60.5h1m130 0h1M57 61.5h1m28 0h1M53 62.5h1m168 0h1m61 0h2m103 0h3M44 63.5h1m69 0h1m55 0h1M291 64.5h2M7 65.5h1m94 0h1M40 66.5h1m297 0h3M47 68.5h1M173 70.5h2M176 71.5h1M48 72.5h1m42 0h1m37 0h1M87 75.5h1m5 0h1M35 76.5h1M122 77.5h1M8 79.5h1m100 0h1m84 0h2M149 80.5h1m75 0h1M65 81.5h1m1 0h1M97 83.5h1m52 0h1m156 0h2M177 84.5h2M219 85.5h1M26 86.5h1M4 87.5h1m148 0h1M80 89.5h1m136 0h2M192 90.5h1m175 0h2M129 91.5h1m51 0h1M68 93.5h1M45 94.5h1m211 0h2M271 95.5h2M247 96.5h2M4 97.5h1m8 0h1m124 0h1m191 0h2M180 98.5h1m83 0h2M150 99.5h1m71 0h1m27 0h2M82 100.5h1m31 0h1M82 102.5h1m174 0h2M108 104.5h1m28 0h1M77 105.5h1m256 0h2M150 106.5h1m50 0h2M71 107.5h1m45 0h1m11 0h1m51 0h1m58 0h2M31 110.5h1m37 0h1m13 0h1m22 0h1m192 0h2M34 111.5h1m159 0h2M204 112.5h1m52 0h2M0 113.5h1m97 0h1m242 0h2M365 114.5h3M54 115.5h1m20 0h1m2 0h1m22 0h1m52 0h2m147 0h2M8 116.5h1m112 0h1M100 117.5h1m89 0h2m140 0h2M80 118.5h1m4 0h1M53 119.5h1m8 0h1m6 0h1m66 0h1M94 120.5h1m85 0h1M226 121.5h2M231 122.5h1m111 0h2M70 123.5h1M71 124.5h1m37 0h1m29 0h1M101 125.5h1m98 0h1M49 126.5h1M86 127.5h1m3 0h1M35 128.5h1m121 0h1m180 0h3M194 131.5h2m20 0h1M67 132.5h1m61 0h1m5 0h1M81 133.5h1m70 0h1m39 0h1m177 0h2M170 134.5h1M7 135.5h1m15 0h1M291 137.5h2M33 139.5h1m99 0h1M219 140.5h1M142 142.5h1m232 0h2M254 143.5h1M317 144.5h2M150 145.5h1M79 146.5h1M44 147.5h1m36 0h1m11 0h1m267 0h2M232 148.5h2m39 0h2M242 149.5h2M115 150.5h1M305 151.5h2M153 152.5h1M19 153.5h1m41 0h1m14 0h1m15 0h1m52 0h1m159 0h2m80 0h2M11 154.5h1M160 155.5h1m114 0h2M55 156.5h1m163 0h1m132 0h2M6 157.5h1m145 0h1M165 158.5h1m71 0h2m110 0h3M31 159.5h1m196 0h1M303 160.5h2M60 161.5h1m178 0h1M24 162.5h1m185 0h1M96 163.5h1M73 164.5h1m54 0h1m29 0h1m85 0h1m70 0h2m26 0h2M11 165.5h1m138 0h1m85 0h1M216 166.5h1m106 0h3M61 167.5h1m35 0h1M11 169.5h1m48 0h1m125 0h2M39 170.5h1m186 0h2m22 0h2M141 172.5h1m46 0h1M57 173.5h1m182 0h2m84 0h2M30 174.5h1m11 0h1m276 0h2M197 175.5h1M15 176.5h1m101 0h1m75 0h1m38 0h2M240 177.5h2M115 178.5h1m41 0h1M95 179.5h1m76 0h1m98 0h2m85 0h3M139 180.5h1m19 0h1M177 181.5h2M94 182.5h1m12 0h1M192 183.5h1M156 184.5h1m195 0h2M107 186.5h1m13 0h1m8 0h1M94 187.5h1M0 188.5h1m191 0h1m59 0h2M39 189.5h2m57 0h1M0 190.5h1m147 0h1M111 193.5h1m205 0h2M17 194.5h1m89 0h1m10 0h1m213 0h2M133 195.5h1M128 196.5h1m9 0h1M48 197.5h1m20 0h1m124 0h2m68 0h2m20 0h2M58 198.5h1m17 0h1m33 0h1M271 199.5h2M53 200.5h1m128 0h2M129 201.5h1m7 0h1m37 0h1m73 0h1M181 202.5h1M89 203.5h1m162 0h2m69 0h3M21 204.5h1m54 0h1m73 0h1M156 205.5h1m95 0h2M141 206.5h1M36 207.5h1m42 0h1m157 0h2M9 209.5h1m276 0h2m50 0h3M161 210.5h2m42 0h2M129 211.5h1m55 0h1M349 212.5h3M295 213.5h2M36 214.5h1m208 0h2M343 215.5h2M112 216.5h1M219 217.5h1m8 0h1M149 218.5h1M50 219.5h1m250 0h2M180 220.5h1m36 0h2m130 0h3M28 221.5h1m30 0h1m124 0h1M172 222.5h1m105 0h2m78 0h3M60 223.5h1m18 0h1m15 0h1m49 0h1m47 0h1m96 0h1M64 224.5h1m127 0h1m68 0h1M31 225.5h1m207 0h1M58 226.5h1m57 0h1m30 0h1m56 0h1m114 0h2M83 227.5h1m211 0h2M117 228.5h1M0 230.5h1m216 0h2M145 231.5h1M18 232.5h1M10 233.5h1m279 0h1M22 234.5h1m21 0h1m87 0h1m112 0h2M140 235.5h1M50 236.5h1m25 0h1M31 240.5h1m133 0h1M29 242.5h1m33 0h1m4 0h1m59 0h1m115 0h1m137 0h2M100 243.5h1m10 0h1m138 0h2M354 244.5h2M62 245.5h1m166 0h2M69 246.5h1m40 0h1M160 247.5h1M8 248.5h1M126 250.5h1m49 0h1m126 0h2m49 0h2M84 252.5h1m172 0h2M36 254.5h1m73 0h1m77 0h1m31 0h2M27 255.5h1m43 0h1m48 0h1m37 0h1m22 0h1M29 257.5h1m49 0h1m54 0h1m54 0h1m27 0h2M42 258.5h1m126 0h1M147 259.5h1M0 260.5h1m137 0h1m22 0h2M163 261.5h1m159 0h3M35 262.5h1m3 0h1M47 263.5h1m263 0h2M185 264.5h1m42 0h1M65 266.5h1M100 267.5h1m154 0h2M151 268.5h1M32 269.5h1m201 0h2M139 270.5h1M226 271.5h2M123 272.5h1M28 273.5h1m106 0h1M6 274.5h1m36 0h1m261 0h2m47 0h2M130 275.5h1m34 0h1m19 0h3m173 0h2M46 276.5h1M106 277.5h1M41 278.5h1m240 0h2M113 279.5h1M25 280.5h1m50 0h1m155 0h2M58 281.5h1m12 0h1M194 282.5h2m14 0h1M83 284.5h1m83 0h2M12 285.5h1m54 0h1M70 286.5h1m232 0h2M68 288.5h1M9 289.5h1m149 0h1M34 290.5h1m117 0h1m102 0h2M9 291.5h1m124 0h1m34 0h1m175 0h2M334 292.5h2M140 293.5h1m193 0h2M201 294.5h2m59 0h2M123 295.5h1m43 0h2m12 0h1M127 296.5h1m15 0h2M15 297.5h1m7 0h1m71 0h1m192 0h2M69 299.5h1M37 300.5h1m206 0h1M102 301.5h1m44 0h1m28 0h1M12 302.5h1m89 0h1m20 0h1M17 303.5h1m178 0h1m129 0h2m56 0h3M0 304.5h1m221 0h1m72 0h2M25 305.5h1m84 0h1m215 0h2M21 306.5h1m168 0h2m178 0h2M103 307.5h1M201 308.5h2M250 309.5h2m5 0h2M89 310.5h1M9 311.5h1m129 0h1m97 0h2m20 0h2M307 312.5h2M22 313.5h1m79 0h1m3 0h1m168 0h2M46 314.5h2m18 0h1m43 0h1m56 0h2m73 0h2M356 315.5h2M57 316.5h1m317 0h2M3 317.5h1m37 0h1M179 318.5h1M136 319.5h1m184 0h2m52 0h2M91 320.5h1m41 0h1M118 321.5h1M130 322.5h1m67 0h2M59 323.5h1m124 0h1M59 324.5h1m53 0h1m72 0h2m44 0h2m67 0h2M33 325.5h1m283 0h2M114 327.5h1m61 0h1M27 328.5h1m166 0h2M190 329.5h2M19 330.5h1M5 331.5h1m45 0h1m202 0h1m81 0h2M189 332.5h1m8 0h2m31 0h1M44 335.5h1m6 0h1m245 0h2M197 336.5h1m95 0h2m70 0h3M0 338.5h1m75 0h1m211 0h2M156 339.5h1m14 0h1M79 340.5h1m2 0h1M319 341.5h2M146 343.5h1m10 0h1m119 0h1m76 0h2M74 344.5h1m55 0h1M189 345.5h1M110 347.5h1m27 0h1M42 348.5h1m42 0h1m65 0h1M128 349.5h1M118 350.5h1M107 351.5h1m106 0h2m36 0h2M31 352.5h1m14 0h1m167 0h2M19 353.5h1m7 0h1m38 0h1M234 354.5h2m156 0h2M87 355.5h1m45 0h1M47 356.5h1M12 359.5h1M268 361.5h1M286 362.5h2M56 363.5h1m71 0h1m51 0h1m208 0h3M22 364.5h1m128 0h1m30 0h2M159 365.5h1m6 0h1m75 0h2M99 366.5h1m25 0h1m12 0h1m45 0h1M36 367.5h1"/>
<path stroke="#25848e" d="M200 0.5h1M60 5.5h1m93 0h2m135 0h2M132 6.5h1m42 0h1M68 7.5h1M33 8.5h1M32 9.5h1m30 0h1M254 10.5h1M58 11.5h1m234 0h2M83 12.5h1m79 0h1m17 0h1m37 0h1M104 13.5h1m15 0h1m44 0h1M126 14.5h1m90 0h2m92 0h2M146 17.5h1m2 0h1m11 0h2M131 19.5h1M7 20.5h1m11 0h1m299 0h2M28 22.5h1m67 0h1M1 24.5h1M321 25.5h2m69 0h2M102 26.5h1m105 0h2M28 27.5h1M50 28.5h1m10 0h1M14 29.5h1m7 0h1M125 30.5h1m6 0h1m47 0h1M8 31.5h1m361 0h2M18 33.5h1m39 0h1m50 0h1m80 0h2M130 34.5h1m118 0h1M44 37.5h1M63 38.5h1m25 0h1M31 39.5h1m95 0h1M90 40.5h1m7 0h1M114 41.5h1m77 0h1M138 42.5h1M190 43.5h2m74 0h2M349 44.5h3M107 45.5h1M2 46.5h1M17 47.5h1M0 48.5h1m310 0h2M290 49.5h1M257 50.5h2M118 51.5h1M23 52.5h1m277 0h2M4 53.5h1M278 54.5h2M26 57.5h1M41 59.5h1M68 60.5h1M1 61.5h1m183 0h1m83 0h2m32 0h2m82 0h2M15 62.5h1m134 0h1M87 63.5h1m30 0h1m10 0h1M377 64.5h3M10 65.5h1m117 0h1m81 0h1M35 66.5h1m31 0h1m118 0h2m54 0h2M70 67.5h1m35 0h1m119 0h2m50 0h2M180 68.5h1M228 70.5h1M217 71.5h2M128 72.5h1m253 0h2M47 74.5h1M77 75.5h1m120 0h2M122 76.5h1M113 78.5h1m18 0h1m93 0h2M27 82.5h1m19 0h1M190 83.5h2M214 88.5h2M116 89.5h1m36 0h1m74 0h1M143 90.5h2m44 0h1M42 91.5h1M37 93.5h1m61 0h1M29 94.5h1m212 0h2M37 96.5h1m66 0h1m62 0h2M61 98.5h1m57 0h1m4 0h1m21 0h1m179 0h2M341 99.5h2M90 100.5h1M7 104.5h1m265 0h2M94 106.5h1m70 0h1m190 0h2M188 107.5h1m16 0h2M72 108.5h1m35 0h1m14 0h1m6 0h1M231 109.5h1M87 110.5h1M64 112.5h1m116 0h1M114 113.5h1M170 114.5h1m17 0h1M192 115.5h1M354 116.5h2M213 117.5h1M132 118.5h1M86 119.5h1M131 120.5h1M38 121.5h1m34 0h1M18 123.5h1M131 124.5h1m107 0h1m46 0h2M86 125.5h1m157 0h1M68 128.5h1M61 129.5h1M271 131.5h2M41 133.5h1M301 134.5h2M16 135.5h1m298 0h2M19 136.5h1M46 137.5h1m226 0h2M75 138.5h1M9 139.5h1M20 140.5h1m69 0h1M3 141.5h1M7 142.5h1m263 0h4M343 143.5h2M49 144.5h1M269 145.5h2M79 148.5h1m21 0h1m173 0h2m93 0h2M39 150.5h1M175 151.5h1M75 152.5h1M7 153.5h1m71 0h1m67 0h1M172 154.5h1M15 155.5h1m105 0h1M200 156.5h1M236 157.5h1m36 0h2M106 158.5h1m19 0h1M28 159.5h1m91 0h1M368 160.5h2M70 162.5h1M28 164.5h1m5 0h1m25 0h1m144 0h2M214 165.5h2m6 0h1M334 166.5h2M114 167.5h1M182 168.5h2M177 169.5h2m179 0h3M92 171.5h1m136 0h2m33 0h2m45 0h2M93 172.5h1m35 0h1M105 173.5h1m19 0h1M14 174.5h1m44 0h1m117 0h2M22 175.5h1m15 0h1M232 177.5h2M40 178.5h1m249 0h1M22 179.5h1m59 0h1m41 0h1m7 0h1M63 181.5h1m83 0h1M291 182.5h2m50 0h2M179 183.5h1m156 0h2M29 185.5h1m34 0h1M113 186.5h1m133 0h2M109 187.5h1M149 188.5h1m25 0h1M147 189.5h1M152 191.5h1M40 192.5h1m26 0h1M214 193.5h2m23 0h1M109 194.5h1m23 0h1M24 195.5h1M81 200.5h1m177 0h2M347 201.5h2M286 202.5h2M64 203.5h1M25 204.5h1m41 0h1m73 0h1M2 206.5h1M98 207.5h1m20 0h1M110 209.5h1M269 210.5h2m26 0h2M68 211.5h1M394 212.5h3M114 213.5h1m2 0h1m238 0h2M68 217.5h1M28 218.5h1m257 0h2M179 219.5h1M269 220.5h2M137 222.5h1m152 0h1M363 223.5h2M6 224.5h1m71 0h1m3 0h1M32 225.5h1M67 226.5h1m4 0h1m222 0h2m92 0h3M26 227.5h1M1 228.5h1m3 0h1m26 0h1m39 0h1M264 229.5h2M368 233.5h2M189 234.5h1M319 235.5h2m17 0h3M29 237.5h1m28 0h1m114 0h2m214 0h3M32 239.5h1m62 0h1m281 0h3M53 240.5h1m210 0h2M326 241.5h2M295 243.5h2M3 244.5h1m241 0h2M129 245.5h1m19 0h1m2 0h1m97 0h2M34 246.5h1m256 0h2m30 0h3M70 247.5h1m28 0h1M25 248.5h1M40 249.5h1m63 0h1m126 0h1m109 0h2M58 250.5h1M24 251.5h1m186 0h2m134 0h2M101 252.5h1m114 0h1M134 253.5h1m22 0h1m13 0h1M93 254.5h1m21 0h1m240 0h2M368 255.5h2M160 256.5h1m35 0h1m74 0h2M332 257.5h2M138 258.5h1m34 0h2M228 259.5h1m136 0h3M90 260.5h1m95 0h2m170 0h3M159 263.5h1m1 0h2m105 0h1m96 0h3M145 264.5h1m31 0h2M125 265.5h1M110 266.5h1m117 0h1M60 267.5h1m282 0h2M252 269.5h2m133 0h2M156 270.5h1M280 271.5h2M71 272.5h1m97 0h1M214 273.5h2M65 274.5h1M38 275.5h1m94 0h1M228 276.5h1M71 277.5h1M105 279.5h1M8 282.5h1M264 283.5h2M4 284.5h1m312 0h2M20 285.5h1m78 0h1m10 0h1M259 286.5h2M3 287.5h1m99 0h1m106 0h1m62 0h2M341 288.5h2M170 289.5h1M210 290.5h1M22 291.5h1m35 0h1M23 292.5h1m78 0h1M15 294.5h1M32 296.5h1M167 297.5h2m93 0h2M48 298.5h1m179 0h1M204 300.5h1M223 301.5h2M2 303.5h1M67 304.5h1M179 305.5h1m97 0h1M35 307.5h1M118 308.5h1m204 0h3M39 309.5h1m77 0h1M356 310.5h2M46 311.5h1m65 0h1m156 0h2M53 312.5h1m62 0h1m147 0h2M12 313.5h1m157 0h1m1 0h1m52 0h1m123 0h3M27 315.5h1m85 0h1m6 0h1m96 0h2M278 316.5h2M91 317.5h1m49 0h1M8 318.5h1m110 0h1M8 319.5h1m195 0h1M74 320.5h1M23 321.5h1m111 0h1m29 0h1m95 0h1M70 322.5h1M61 323.5h1M80 324.5h1M66 325.5h1M159 326.5h1M110 328.5h1M6 329.5h1m52 0h1m86 0h1m105 0h2m130 0h3M179 330.5h1m100 0h2m41 0h3M29 331.5h1m12 0h1m36 0h1m195 0h2M3 333.5h1m48 0h1M332 334.5h2M231 335.5h1m56 0h2M88 336.5h1m103 0h1m3 0h1M111 337.5h1m138 0h2m116 0h2M135 338.5h1M8 339.5h1M363 341.5h2M12 342.5h1m34 0h1m62 0h1m34 0h1M142 343.5h1M48 344.5h1m165 0h2M169 346.5h1M124 347.5h1m78 0h1M332 348.5h2M92 349.5h1m52 0h1m113 0h2M122 350.5h1m159 0h2M110 351.5h1M11 352.5h1M41 355.5h1m261 0h2M32 356.5h1m41 0h1m73 0h1M64 357.5h1m185 0h2m36 0h2M236 359.5h1M31 360.5h1m41 0h1m280 0h2M275 361.5h2M69 363.5h1m20 0h1m116 0h1M315 365.5h2M200 366.5h1m4 0h2M67 367.5h1"/>
<path stroke="#21918c" d="M78 0.5h1m15 0h1M105 2.5h1M60 3.5h1m30 0h1m54 0h1M64 5.5h1m197 0h2m31 0h2m85 0h2M225 6.5h1M2 7.5h2m13 0h1M43 8.5h1m131 0h1m1 0h2M120 9.5h1M185 11.5h1m4 0h2m176 0h2M53 12.5h1m178 0h2M32 13.5h1M59 14.5h1m100 0h1m35 0h1m65 0h2M53 16.5h1m13 0h1M76 17.5h1M282 19.5h2M17 20.5h1M34 21.5h1m5 0h1m343 0h3M239 23.5h1M217 24.5h2M255 25.5h2M257 26.5h2m34 0h2M73 27.5h1m108 0h2m58 0h2m73 0h2M102 28.5h1m61 0h1m171 0h2m20 0h3M108 29.5h1m127 0h1M116 30.5h1m73 0h2M147 31.5h1m167 0h2M24 32.5h1m56 0h1M39 34.5h1M172 35.5h1M74 36.5h1m35 0h1m164 0h2m57 0h2m27 0h2M130 37.5h1M16 40.5h1m209 0h3M49 41.5h1m20 0h1m290 0h2M150 42.5h1M297 43.5h2M160 44.5h1M75 45.5h1m30 0h1m110 0h2M86 46.5h1M3 47.5h1M6 49.5h1M135 50.5h1m45 0h1m21 0h1m113 0h2M59 52.5h1m76 0h1M115 53.5h1m66 0h2m45 0h2M184 54.5h1m180 0h3M0 55.5h1M237 56.5h2M135 57.5h1m218 0h2M73 58.5h1m227 0h2M330 62.5h2M75 63.5h1m14 0h1m31 0h1M18 64.5h1m34 0h1M81 65.5h1m39 0h1m68 0h2m16 0h2M89 66.5h1m99 0h1m96 0h2M216 67.5h1m49 0h2M338 68.5h3M153 69.5h1m96 0h2M101 70.5h1m6 0h1M74 73.5h1M217 74.5h2M197 76.5h1M151 77.5h1m220 0h3M225 78.5h1M32 79.5h1M290 81.5h1M75 82.5h1M94 83.5h1m89 0h1m34 0h1m132 0h2M150 84.5h1M126 85.5h1M101 86.5h1M13 87.5h1m247 0h1M74 88.5h1m12 0h1m97 0h1m82 0h1m32 0h2M59 90.5h1m239 0h2M257 91.5h2M57 93.5h1m167 0h1m49 0h2M38 94.5h1M87 95.5h1M41 96.5h1m70 0h1m20 0h1m130 0h2M58 98.5h1M124 99.5h1M237 100.5h2M72 101.5h1M135 105.5h1M50 106.5h1m52 0h1m56 0h1M9 107.5h1m18 0h1m143 0h1M361 108.5h2M190 109.5h2m18 0h1M150 110.5h1m24 0h1M145 111.5h1m6 0h1M4 113.5h1m143 0h1M8 114.5h1m30 0h1M33 115.5h1M249 116.5h1M23 117.5h1m133 0h1m94 0h2M116 118.5h1m5 0h1M24 119.5h1m78 0h1M358 121.5h3M41 122.5h1M38 123.5h1m150 0h1m168 0h3M51 124.5h1M21 127.5h1M108 128.5h1m11 0h1M112 129.5h1m34 0h1m81 0h2M250 131.5h2M214 133.5h2m3 0h1m57 0h1M203 134.5h1m137 0h2M84 135.5h1M142 136.5h1m143 0h2M98 137.5h1m11 0h1m97 0h2m29 0h1M153 138.5h1m23 0h2M288 140.5h2M78 141.5h1m15 0h1m57 0h1m131 0h2M4 142.5h1m109 0h1m65 0h1m87 0h1M136 143.5h1m153 0h1M126 144.5h1m7 0h1M90 145.5h1M301 146.5h2M52 148.5h1M40 149.5h1m87 0h1M165 150.5h1M166 151.5h1M201 152.5h2M108 155.5h1m179 0h2M69 157.5h1M139 159.5h1M358 160.5h3M30 161.5h1m339 0h2M166 162.5h1m163 0h2M46 164.5h1M77 166.5h1m176 0h1M42 167.5h1m158 0h2M103 168.5h1M61 169.5h1m233 0h2M8 170.5h1m41 0h1m102 0h1m62 0h1M43 171.5h1m58 0h1m4 0h1m11 0h1m65 0h1M108 172.5h1m240 0h3M105 177.5h1m60 0h1m182 0h3M99 178.5h1m49 0h1M74 179.5h1m39 0h1M225 180.5h1M22 181.5h1m48 0h1M65 182.5h1m266 0h2M11 183.5h1m77 0h1m14 0h1m265 0h2M303 186.5h2M29 187.5h1m30 0h2m34 0h1M117 188.5h1M2 190.5h1m193 0h1m91 0h2M80 191.5h1m178 0h2m123 0h3M160 193.5h1m52 0h1m89 0h2M104 196.5h1m13 0h1m15 0h1m131 0h2M172 198.5h1m96 0h2M56 199.5h1m23 0h1m50 0h1M95 200.5h1m30 0h1m135 0h2M131 202.5h1m32 0h1M18 203.5h1m170 0h1m49 0h1M278 204.5h2M216 205.5h1M185 206.5h1m71 0h2M42 207.5h1m201 0h1M80 208.5h1m68 0h1M14 209.5h1M177 212.5h2M16 215.5h1m10 0h1M125 216.5h1m108 0h2M176 217.5h1m188 0h3M80 218.5h1m228 0h2M39 220.5h1m92 0h1M85 221.5h1M11 222.5h1M87 223.5h1m123 0h2m15 0h1m74 0h2m40 0h2M19 226.5h1m43 0h1m37 0h1m67 0h1M198 227.5h2m10 0h1M111 228.5h1m45 0h1M68 229.5h1M139 230.5h1M14 231.5h1m202 0h2m28 0h2M105 232.5h1m20 0h1M113 235.5h1m12 0h1M288 236.5h2M66 237.5h1M257 239.5h2m29 0h2M70 240.5h1M126 241.5h1m146 0h2m90 0h3M28 242.5h1m61 0h1m166 0h2m3 0h2M14 243.5h1m101 0h1m140 0h2M26 244.5h1m157 0h1m70 0h2m50 0h2M43 245.5h1m26 0h1M117 247.5h1m136 0h1M193 248.5h1M157 250.5h1m24 0h2m13 0h1m103 0h2M90 251.5h1m2 0h1m23 0h1m11 0h1m66 0h1M26 252.5h1M140 253.5h1M214 254.5h2m87 0h2m14 0h2m22 0h2M123 255.5h1m51 0h1m25 0h2M86 256.5h1m76 0h1m98 0h2M170 257.5h1M92 258.5h1m138 0h1M81 259.5h1m85 0h2M158 261.5h1M1 262.5h1m150 0h1m131 0h2M154 264.5h2m40 0h1M266 265.5h2M45 266.5h1m167 0h1m55 0h2m36 0h2m63 0h3M313 267.5h2m30 0h2M47 268.5h1m315 0h2M92 269.5h1M196 271.5h1M80 272.5h1M29 273.5h1m31 0h1m318 0h2M177 276.5h2M91 277.5h1m10 0h1m104 0h1m103 0h2M179 278.5h1M30 280.5h1M166 281.5h1m29 0h1M352 283.5h2M170 284.5h1m17 0h1M268 286.5h1M53 287.5h1m38 0h1m76 0h1M231 288.5h1m129 0h2M198 289.5h2m1 0h2M90 291.5h1M254 293.5h1M311 294.5h2M35 295.5h1M1 297.5h1M85 299.5h1M149 300.5h1m186 0h2M9 302.5h1M9 303.5h1M88 304.5h1m130 0h1M8 305.5h1m13 0h1m126 0h1m191 0h2M356 306.5h2M154 309.5h2M76 310.5h1m51 0h1m258 0h2M349 311.5h3M237 312.5h2M63 313.5h1M38 314.5h1M112 315.5h1m38 0h1M39 316.5h1m23 0h1m37 0h1M66 317.5h1M36 318.5h1m15 0h1m131 0h1m15 0h3M69 320.5h1m42 0h1M28 321.5h1M175 323.5h1m29 0h2M161 324.5h2m33 0h1m48 0h2m102 0h3M39 326.5h1m79 0h1M50 327.5h1m82 0h1m121 0h2M273 329.5h2M194 330.5h2M179 331.5h1m49 0h2M9 332.5h1m78 0h1M92 333.5h1M137 334.5h1m35 0h2m130 0h2M5 336.5h1M295 337.5h2M74 339.5h1m150 0h1m130 0h2M297 340.5h2M150 341.5h1M68 342.5h1m141 0h1M28 344.5h1m266 0h2m87 0h3M148 345.5h1m39 0h1M73 346.5h1m60 0h1M0 347.5h1m54 0h1m107 0h1m64 0h1M290 348.5h1m32 0h3M203 349.5h1M315 350.5h2M173 351.5h2M16 352.5h1m42 0h1M40 353.5h1M301 354.5h2M127 355.5h1m68 0h1m60 0h2M309 356.5h2m54 0h3M8 357.5h1M166 358.5h1m205 0h3M118 359.5h1M51 361.5h1m93 0h1M145 363.5h1M177 364.5h2M157 365.5h1M8 367.5h1m56 0h1"/>
<path stroke="#1e9c89" d="M117 0.5h1m62 0h1M105 1.5h1M76 2.5h1m46 0h1m110 0h2m26 0h2M39 3.5h1M226 5.5h2M38 6.5h1m3 0h1m111 0h2M14 7.5h1m23 0h1M71 13.5h1M91 15.5h1M29 18.5h1M62 19.5h1m300 0h2M377 20.5h3M326 21.5h2M303 22.5h2M96 23.5h1m9 0h1m100 0h1M94 24.5h1m55 0h1m183 0h2m25 0h2m9 0h3M171 26.5h1M138 27.5h1m78 0h2m96 0h2M2 28.5h1M25 30.5h1m178 0h1m45 0h2M236 33.5h1m78 0h2m11 0h2M79 35.5h1m254 0h2M254 36.5h1M73 37.5h1m227 0h2M77 40.5h1m8 0h1M9 41.5h1M194 42.5h2M37 43.5h1m55 0h1m1 0h1M22 44.5h1m92 0h1M29 45.5h1m106 0h1M115 47.5h1m38 0h2m38 0h2m53 0h1M160 48.5h1M200 50.5h1m193 0h3M37 52.5h1m118 0h1M86 53.5h1M311 54.5h2M10 55.5h1M100 57.5h1m6 0h1M98 59.5h1M231 60.5h1m8 0h2M9 61.5h1m161 0h1M165 62.5h1M10 63.5h1m25 0h1m114 0h1m73 0h1M13 64.5h1M170 65.5h1M90 66.5h1M73 67.5h1m77 0h1M8 70.5h1m102 0h1M137 71.5h1M122 73.5h1M37 76.5h1m38 0h1m50 0h1M54 77.5h1m174 0h2M182 78.5h2M154 80.5h2M125 81.5h1m24 0h1M90 82.5h1m9 0h1M142 83.5h1m42 0h1M103 84.5h1M313 85.5h2M361 86.5h2M76 87.5h1M8 88.5h1m83 0h1m24 0h1M61 89.5h1m114 0h1m59 0h1M330 90.5h2M277 92.5h1M254 94.5h1M140 96.5h1M105 99.5h1m45 0h1m42 0h2m149 0h2M70 102.5h1m74 0h1M131 104.5h1m161 0h2M150 105.5h1M85 107.5h1M26 108.5h1M93 109.5h1M225 111.5h1M100 112.5h1m135 0h1m72 0h2M309 113.5h2M293 114.5h2M38 115.5h1m111 0h1M28 116.5h1m40 0h1M81 117.5h1m61 0h2m124 0h2M95 122.5h1m109 0h2M96 124.5h1M264 125.5h2M228 126.5h1M30 127.5h1m149 0h1M87 128.5h1m25 0h1m207 0h2M23 129.5h1m75 0h1m65 0h1M175 130.5h1M70 134.5h1m285 0h2M30 135.5h1m132 0h1M33 136.5h1m3 0h1M3 138.5h1M161 139.5h2M118 140.5h1M75 142.5h1m20 0h1M59 144.5h1m37 0h1m163 0h1M19 145.5h1m133 0h1M42 146.5h1m194 0h2M111 149.5h1M69 150.5h1M138 153.5h1M106 155.5h1M100 156.5h1M295 157.5h2m68 0h3M131 159.5h1m37 0h1M222 160.5h1M6 161.5h1M156 162.5h2M149 163.5h1M220 165.5h2M87 168.5h1m88 0h1M82 170.5h1m140 0h2m157 0h2M165 171.5h1M8 172.5h1m308 0h2M245 173.5h2M196 174.5h1M171 176.5h1m4 0h1m96 0h2M114 177.5h1m21 0h1M127 178.5h1M33 180.5h1M23 183.5h1M160 186.5h1m70 0h1M387 187.5h2M27 188.5h1m168 0h1m71 0h1M160 189.5h1m150 0h2m30 0h2M181 190.5h1m3 0h1m6 0h1M382 192.5h2M83 193.5h1m209 0h2M80 194.5h1m92 0h2M47 196.5h1m83 0h1M32 197.5h1M201 200.5h2M43 202.5h1m317 0h2M146 203.5h1M197 206.5h1M132 209.5h1m124 0h2M47 210.5h1M334 212.5h2M2 217.5h1m183 0h2M27 218.5h1M112 220.5h1m206 0h2M69 224.5h1m57 0h1M198 225.5h2M38 226.5h1M1 227.5h1m173 0h1m112 0h2M97 229.5h1M282 231.5h2m96 0h2M91 233.5h1M7 235.5h1m206 0h2m3 0h1M382 236.5h2M273 239.5h2M354 240.5h2M42 241.5h1M88 242.5h1m166 0h2m12 0h2M69 245.5h1m42 0h1m217 0h2m48 0h2M240 247.5h2M43 249.5h1m116 0h1m21 0h2m70 0h1m13 0h1M240 250.5h2M3 251.5h1m219 0h2M12 252.5h1m87 0h1m127 0h1M332 254.5h2M247 255.5h2M17 256.5h1M127 257.5h1m51 0h1M136 258.5h1m33 0h1m1 0h1M225 259.5h1M39 260.5h1m67 0h1M21 261.5h1M127 263.5h1M81 264.5h1M25 265.5h1m79 0h1m45 0h1m225 0h3M150 270.5h1m113 0h2M135 271.5h1m4 0h1M48 272.5h1M44 273.5h1m105 0h1M125 274.5h1m239 0h3M63 276.5h1m156 0h2M85 278.5h1M61 279.5h1m41 0h1M138 280.5h1m215 0h2M105 281.5h1m13 0h1M131 282.5h1M192 284.5h1M380 285.5h2M143 286.5h2m69 0h2M88 287.5h1m283 0h3M74 292.5h1m147 0h1m90 0h2m57 0h3M211 294.5h2M72 295.5h1m63 0h1m51 0h1M129 296.5h1M6 297.5h1m68 0h1m69 0h1M24 299.5h1M73 300.5h1m115 0h1M10 301.5h1m84 0h1M23 302.5h1m46 0h1m15 0h1M114 303.5h1m39 0h2M55 304.5h1m4 0h1m77 0h1M8 306.5h1M51 308.5h1M175 309.5h1M115 310.5h2m35 0h1M40 311.5h1M161 313.5h2M8 314.5h1M28 315.5h1m278 0h2M83 316.5h1M278 318.5h2M112 319.5h1m81 0h2m46 0h2M180 321.5h1m35 0h1M80 322.5h1m65 0h1m209 0h2M119 324.5h1m13 0h1m41 0h1M150 326.5h1M9 327.5h1M64 329.5h1M122 330.5h1m2 0h1M143 331.5h2M85 332.5h1M249 333.5h1m84 0h2M323 335.5h3M142 336.5h1M2 338.5h1m3 0h1m70 0h1m80 0h1M130 339.5h1M33 340.5h1M36 341.5h1M25 342.5h1M100 343.5h1M179 344.5h1m119 0h2M131 346.5h1M132 347.5h1M133 348.5h1M169 349.5h1m69 0h1M222 350.5h1M9 351.5h1m135 0h1m171 0h2M49 352.5h1m50 0h1M18 354.5h1m84 0h1m57 0h2M131 355.5h1m102 0h2m132 0h2M55 358.5h1M22 360.5h1M261 362.5h1M5 363.5h1m195 0h2m85 0h2M59 367.5h1m136 0h1M23 368.5h1m31 0h1M23 369.5h1m31 0h1"/>
<path stroke="#22a884" d="M150 0.5h1M136 5.5h1M85 7.5h1M394 8.5h3M290 9.5h1M61 12.5h1M94 14.5h1M33 15.5h1M39 19.5h1M117 21.5h1M108 22.5h1M216 24.5h1m111 0h2M7 26.5h1M83 29.5h1M128 30.5h1M303 34.5h2M349 37.5h3M64 40.5h1M67 41.5h1M149 42.5h1M44 43.5h1m23 0h1M59 44.5h1M34 48.5h1M93 50.5h1M69 51.5h1M5 53.5h1M57 59.5h1m14 0h1M273 61.5h2m53 0h2M14 62.5h1M68 66.5h1M36 67.5h1m122 0h1m4 0h1M106 70.5h1M117 71.5h1M51 77.5h1m12 0h1M326 81.5h2M354 82.5h2M13 85.5h1M10 90.5h1M21 92.5h1M196 93.5h1M208 94.5h2M115 95.5h1M2 96.5h1M176 97.5h1m68 0h2M161 98.5h2M361 101.5h2M37 106.5h1m11 0h1m219 0h2M70 108.5h1m72 0h2m19 0h1M239 109.5h1M301 110.5h2M139 111.5h1M176 113.5h1M31 114.5h1M21 125.5h1m126 0h1M76 128.5h1m48 0h1M181 131.5h1M7 132.5h1M120 133.5h1M96 134.5h1M78 135.5h1M54 136.5h1M38 137.5h1M269 139.5h2m17 0h2M82 142.5h1m157 0h2m99 0h2M237 148.5h2m27 0h2M86 150.5h1M118 154.5h1M67 156.5h1m309 0h3M203 159.5h1M299 161.5h2m6 0h2M79 162.5h1m67 0h1M69 163.5h1m40 0h1M349 164.5h3M198 165.5h2M210 167.5h1M138 168.5h1M24 173.5h1m138 0h1M282 176.5h2M149 183.5h1m242 0h2M38 185.5h1M88 188.5h1M80 193.5h1m176 0h2M63 194.5h1M216 195.5h1M341 196.5h2M102 197.5h1M100 199.5h1M358 201.5h3M317 203.5h2M309 208.5h2M214 209.5h2M2 214.5h1M96 215.5h1M66 216.5h1M33 218.5h1M77 220.5h1M214 223.5h2M52 225.5h1M41 226.5h1m85 0h1M121 228.5h1m166 0h2M7 230.5h1m285 0h2M50 231.5h1M124 232.5h1M288 233.5h2M12 234.5h1m135 0h1m131 0h2m79 0h2m19 0h2M185 235.5h1M275 237.5h2M275 238.5h2M259 243.5h3M65 245.5h1M245 246.5h2M198 247.5h2M34 248.5h1m284 0h2m5 0h2M232 249.5h2M205 252.5h2M156 253.5h1m39 0h1M153 257.5h1M58 262.5h1m102 0h2M105 264.5h1m40 0h1m69 0h1M55 265.5h1M149 266.5h1M63 269.5h1M134 271.5h1M62 272.5h1M124 273.5h1m119 0h1M205 274.5h2M26 275.5h1m153 0h1M358 277.5h3M134 279.5h1M26 285.5h1M83 288.5h1m168 0h2M148 298.5h1M51 300.5h1M145 301.5h1M38 302.5h1M73 304.5h1M95 305.5h1m34 0h1M2 307.5h1m10 0h1M14 310.5h1M188 311.5h1M151 313.5h1M341 315.5h2M301 316.5h2M114 318.5h1m243 0h3M13 319.5h1M1 320.5h1M214 322.5h2M219 325.5h1M377 326.5h3M147 333.5h1M225 336.5h1M166 337.5h1M213 338.5h1M153 339.5h1m54 0h2M70 340.5h1m90 0h2m63 0h2M110 341.5h1M5 350.5h1m213 0h1M93 354.5h1m86 0h1M12 356.5h1M32 357.5h1M356 361.5h2M156 365.5h1M175 366.5h1M330 368.5h2M330 369.5h2"/>
<path stroke="#2fb47c" d="M97 8.5h1M33 9.5h1M88 14.5h1M18 26.5h1m140 0h1M269 28.5h2M156 29.5h1M159 36.5h1M334 37.5h2M128 40.5h1M127 41.5h1M313 55.5h2M232 61.5h2M116 66.5h1M129 68.5h1m165 0h2M145 69.5h1M326 71.5h2M47 75.5h2m277 0h2M334 76.5h2M11 83.5h1M181 93.5h1M134 96.5h1M171 97.5h1m41 0h1m50 0h2M336 105.5h2M194 119.5h2M225 125.5h1M24 134.5h1M94 136.5h1M54 140.5h1M115 148.5h1M153 149.5h1M252 159.5h2M319 166.5h2M239 169.5h1M58 174.5h1m212 0h2M181 176.5h1M214 181.5h2m149 0h3M164 182.5h1M80 189.5h1M352 201.5h2M220 208.5h2M75 212.5h1M66 215.5h1M282 217.5h2M173 218.5h2m161 0h2m18 0h2M19 222.5h1m364 0h3M100 232.5h1M278 233.5h2M280 235.5h2M282 236.5h2M271 237.5h2M5 238.5h1m133 0h1m129 0h2M268 242.5h1M268 243.5h1M160 244.5h1M47 245.5h1m192 0h2M226 248.5h2m3 0h1M222 249.5h1M216 250.5h1M119 252.5h1M205 254.5h2M288 256.5h2M177 257.5h2M19 258.5h1M150 263.5h1m9 0h1M6 264.5h1M146 267.5h1M29 268.5h1M67 270.5h1m61 0h1M299 272.5h2M273 279.5h2M126 280.5h1M345 282.5h2M81 284.5h1m170 0h2M85 285.5h1M79 290.5h1M13 298.5h1m378 0h2M92 306.5h1M44 316.5h1M93 326.5h1M112 327.5h1M181 332.5h1M216 333.5h1M81 336.5h1M141 339.5h1M204 341.5h1M220 349.5h2M123 356.5h1m116 0h2"/>
<path stroke="#44bf70" d="M101 4.5h1M77 6.5h1M16 8.5h1M326 18.5h2M45 23.5h1M125 24.5h1M80 25.5h1M326 29.5h2M110 32.5h1M124 36.5h1M57 43.5h1M138 45.5h1M48 47.5h1M38 49.5h1M93 57.5h1M185 63.5h1m3 0h1M2 64.5h1M78 66.5h1M201 71.5h2M19 76.5h1M1 92.5h1M158 94.5h1M106 99.5h1M71 102.5h1M198 110.5h2M134 112.5h1M172 113.5h1M170 116.5h1m140 0h2M70 125.5h1M53 127.5h1M40 131.5h1M129 147.5h1M31 148.5h1m256 0h2M151 149.5h1M216 155.5h1M47 161.5h1M313 164.5h2M33 167.5h1m150 0h1M96 172.5h1M88 176.5h1M36 184.5h1M14 187.5h1M336 189.5h2M117 192.5h1M110 204.5h1M66 209.5h1M104 211.5h1m71 0h1M229 212.5h2M197 214.5h1M154 216.5h2m180 0h2M213 217.5h1M33 220.5h1M293 229.5h2M323 232.5h3M197 234.5h1m84 0h2M145 235.5h1m131 0h1M278 238.5h2M57 240.5h1M192 244.5h1M236 246.5h1M82 255.5h1m99 0h2M111 256.5h1M171 258.5h1M365 260.5h3M157 262.5h1M156 263.5h1M109 267.5h1M141 269.5h1M132 270.5h1M105 271.5h1M175 277.5h1M127 281.5h1M171 288.5h1M68 289.5h1M214 293.5h2M1 296.5h1M303 297.5h2M217 306.5h2M8 317.5h1M232 320.5h2M38 325.5h1m159 0h2M13 326.5h1M175 342.5h1m32 0h2M207 351.5h1M141 354.5h1M56 360.5h1M10 368.5h1m52 0h1M10 369.5h1m52 0h1"/>
<path stroke="#5ec962" d="M288 231.5h2M266 241.5h2M259 242.5h2M249 245.5h1M222 251.5h1M189 254.5h1M188 257.5h1M136 267.5h1"/>
<path stroke="#7ad151" d="M284 231.5h2M284 235.5h2M278 236.5h2M273 238.5h2M277 239.5h1M268 241.5h1M228 250.5h1M157 263.5h1M147 264.5h1m5 0h1M140 265.5h1M130 270.5h1"/>
<path stroke="#9bd93c" d="M297 222.5h2M288 230.5h2M277 237.5h1M268 239.5h1M261 241.5h1M254 244.5h1M232 247.5h4M234 248.5h3M217 250.5h2M214 251.5h3M197 253.5h1M184 255.5h1m15 0h1M160 262.5h1M138 270.5h1"/>
<path stroke="#bddf26" d="M297 221.5h2M291 226.5h2M284 230.5h2M280 232.5h2M286 233.5h2M275 235.5h2M277 238.5h1M269 239.5h4m2 0h2M266 242.5h2M247 244.5h3M217 251.5h2M198 253.5h2M194 256.5h2M186 257.5h2M143 268.5h2M131 270.5h1"/>
<path stroke="#dfe318" d="M291 230.5h2M288 232.5h2M278 237.5h2M271 240.5h2M244 245.5h3M213 251.5h1M153 262.5h1M148 266.5h1"/>
<path stroke="#fde725" d="M286 224.5h2m3 0h2M286 225.5h2m3 0h2M282 227.5h2m6 0h1M282 228.5h2m6 0h1M282 229.5h2m6 0h1M286 230.5h2m2 0h1M286 231.5h2m2 0h3M282 232.5h6m2 0h3M280 233.5h6M277 234.5h3m4 0h4M278 235.5h2m2 0h2M273 236.5h5m2 0h2M273 237.5h2m5 0h2M271 238.5h2M266 240.5h5m2 0h4M262 241.5h4m3 0h4M261 242.5h1m2 0h2M252 243.5h5M250 244.5h4M242 245.5h2m3 0h2M237 246.5h8M236 247.5h4M228 248.5h3m1 0h2M223 249.5h8M219 250.5h9M219 251.5h3M207 252.5h3M200 253.5h8M190 254.5h15M185 255.5h15M180 256.5h14M180 257.5h6M159 261.5h4M154 262.5h3m1 0h2M151 263.5h5m2 0h1M148 264.5h5M141 265.5h10M138 266.5h10M137 267.5h9M136 268.5h7M135 269.5h6M135 270.5h3M133 271.5h1"/>
</g>
<g fill="none" stroke="#000" stroke-width="1.11">
<rect x="80.5" y="58.5" width="397" height="369"/>
<path d="M122.5 428v4.6M166.5 428v4.6M210.5 428v4.6M254.5 428v4.6M298.5 428v4.6M342.5 428v4.6M386.5 428v4.6M431.5 428v4.6M475.5 428v4.6M80 58.5h-4.6M80 119.5h-4.6M80 181.5h-4.6M80 242.5h-4.6M80 304.5h-4.6M80 366.5h-4.6M80 427.5h-4.6M521 58.5h4.6M521 104.5h4.6M521 150.5h4.6M521 196.5h4.6M521 242.5h4.6M521 289.5h4.6M521 335.5h4.6M521 381.5h4.6M521 427.5h4.6"/>
</g>
<rect x="502.5" y="58.5" width="18" height="369" fill="url(#vg)" stroke="#000" stroke-width="1.11"/>
<g font-size="13.889">
<g text-anchor="middle">
<text x="122.28" y="448.48">4</text>
<text x="166.36" y="448.48">6</text>
<text x="210.32" y="448.48">8</text>
<text x="254.27" y="448.48">10</text>
<text x="298.22" y="448.48">12</text>
<text x="342.38" y="448.48">14</text>
<text x="386.29" y="448.48">16</text>
<text x="430.39" y="448.48">18</text>
<text x="474.84" y="448.48">20</text>
<text x="278.60" y="467.47" textLength="113.1">Frequency[MHz]</text>
<text transform="translate(26.34 243.40) rotate(-90)" textLength="144.9">Virtual Distance[Km]</text>
<text transform="translate(576.07 243.40) rotate(-90)">SNR [dB]</text>
</g>
<g text-anchor="end">
<text x="70.48" y="433.48">0</text>
<text x="69.33" y="370.88" textLength="26.0">500</text>
<text x="69.89" y="310.28" textLength="34.6">1000</text>
<text x="69.96" y="247.68" textLength="34.6">1500</text>
<text x="69.68" y="186.08" textLength="34.6">2000</text>
<text x="69.73" y="125.48" textLength="34.6">2500</text>
<text x="68.96" y="62.88" textLength="34.6">3000</text>
</g>
<g text-anchor="start">
<text x="530.30" y="433.48">0.0</text>
<text x="529.94" y="386.28">2.5</text>
<text x="529.58" y="340.08">5.0</text>
<text x="529.42" y="293.88">7.5</text>
<text x="529.52" y="247.68">10.0</text>
<text x="529.46" y="202.48">12.5</text>
<text x="529.37" y="156.28">15.0</text>
<text x="529.47" y="109.08">17.5</text>
<text x="530.04" y="62.88">20.0</text>
</g>
</g>
<g font-size="16.667" text-anchor="middle">
<text x="277.90" y="32.00" textLength="385.2" lengthAdjust="spacing">Ionogram Jicamarca-Cuzco Polarization NE45°</text>
<text x="278.60" y="49.00" textLength="216.8" lengthAdjust="spacing">11/22/2024-14:28:07 UTC</text>
</g>
</svg></body></html>
